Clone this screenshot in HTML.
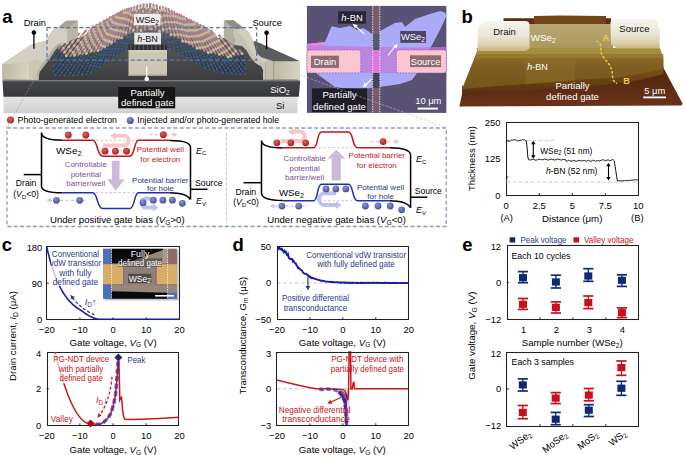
<!DOCTYPE html><html><head><meta charset="utf-8"><style>html,body{margin:0;padding:0;background:#fff;}svg{display:block;font-family:"Liberation Sans", sans-serif;}</style></head><body><svg width="685" height="455" viewBox="0 0 685 455"><defs>
<linearGradient id="gSi" x1="0" y1="0" x2="0" y2="1"><stop offset="0" stop-color="#e4e4e4"/><stop offset="1" stop-color="#d0d0d0"/></linearGradient>
<linearGradient id="gSiO2" x1="0" y1="0" x2="0" y2="1"><stop offset="0" stop-color="#444548"/><stop offset="1" stop-color="#37383b"/></linearGradient>
<linearGradient id="gTop" x1="0" y1="0" x2="0" y2="1"><stop offset="0" stop-color="#5a5a5c"/><stop offset="1" stop-color="#3c3c3e"/></linearGradient>
<linearGradient id="gBeigeF" x1="0" y1="0" x2="1" y2="0"><stop offset="0" stop-color="#bcb8a4"/><stop offset="1" stop-color="#d8d4c2"/></linearGradient>
<linearGradient id="gBeigeT" x1="0" y1="1" x2="1" y2="0"><stop offset="0" stop-color="#d2cebe"/><stop offset="1" stop-color="#bdb9a8"/></linearGradient>
<linearGradient id="gAFMsub" x1="0" y1="0" x2="0" y2="1"><stop offset="0" stop-color="#7a3a14"/><stop offset="1" stop-color="#5a1e08"/></linearGradient>
<linearGradient id="gAFMh" x1="0" y1="0" x2="0" y2="1"><stop offset="0" stop-color="#a88a3a"/><stop offset="1" stop-color="#8a6418"/></linearGradient>
<linearGradient id="gAFMw" x1="0" y1="0" x2="0" y2="1"><stop offset="0" stop-color="#c8b070"/><stop offset="1" stop-color="#b89c50"/></linearGradient>
<linearGradient id="gAFMel" x1="0" y1="0" x2="0" y2="1"><stop offset="0" stop-color="#f0ece0"/><stop offset="0.6" stop-color="#e0d8c0"/><stop offset="1" stop-color="#c8b07a"/></linearGradient>
</defs><text x="2.2" y="22.6" font-size="18.5" fill="#000" font-weight="bold">a</text><rect x="3.5" y="96.5" width="294" height="16.8" rx="1" fill="url(#gSi)"/><path d="M2.5,81 L300.2,81 L298.8,96.7 L3.5,96.7 Z" fill="url(#gSiO2)"/><polygon points="3.0,80.5 298.5,80.5 298.5,62.0 245.0,38.0 75.0,38.0 3.0,64.0" fill="url(#gTop)" /><line x1="3" y1="80.8" x2="298.5" y2="80.8" stroke="#6a6a6c" stroke-width="0.8" /><filter id="fb" x="-5%" y="-5%" width="110%" height="110%"><feGaussianBlur stdDeviation="0.45"/></filter><g filter="url(#fb)"><linearGradient id="gLat" gradientUnits="userSpaceOnUse" x1="0" y1="5" x2="0" y2="70"><stop offset="0" stop-color="#6e6258" stop-opacity="0.85"/><stop offset="0.5" stop-color="#585048" stop-opacity="0.9"/><stop offset="1" stop-color="#34302e" stop-opacity="0.9"/></linearGradient><polygon points="54.00,53.50 55.00,52.56 56.00,51.62 57.00,50.68 58.00,49.74 59.00,48.79 60.00,47.85 61.00,46.91 62.00,45.97 63.00,45.27 64.00,44.82 65.00,44.37 66.00,43.92 67.00,43.47 68.00,43.02 69.00,42.57 70.00,42.12 71.00,41.67 72.00,41.22 73.00,40.76 74.00,40.31 75.00,39.86 76.00,39.41 77.00,38.96 78.00,38.51 79.00,38.06 80.00,37.61 81.00,37.16 82.00,36.71 83.00,36.25 84.00,35.80 85.00,35.35 86.00,34.90 87.00,34.45 88.00,34.00 89.00,33.43 90.00,32.87 91.00,32.30 92.00,31.73 93.00,31.17 94.00,30.60 95.00,30.04 96.00,29.47 97.00,28.90 98.00,28.34 99.00,27.77 100.00,27.20 101.00,26.64 102.00,26.07 103.00,25.50 104.00,24.94 105.00,24.37 106.00,23.81 107.00,23.24 108.00,22.67 109.00,22.11 110.00,21.54 111.00,21.00 112.00,20.50 113.00,19.99 114.00,19.49 115.00,18.99 116.00,18.48 117.00,17.98 118.00,17.48 119.00,16.97 120.00,16.47 121.00,15.97 122.00,15.46 123.00,14.96 124.00,14.46 125.00,13.96 126.00,13.45 127.00,13.00 128.00,12.69 129.00,12.37 130.00,12.05 131.00,11.74 132.00,11.42 133.00,11.10 134.00,10.79 135.00,10.47 136.00,10.15 137.00,9.84 138.00,9.52 139.00,9.20 140.00,8.89 141.00,8.57 142.00,8.25 143.00,8.00 144.00,8.00 145.00,8.00 146.00,8.00 147.00,8.00 148.00,8.00 149.00,8.00 150.00,8.00 151.00,8.00 152.00,8.00 153.00,8.19 154.00,8.51 155.00,8.82 156.00,9.14 157.00,9.46 158.00,9.77 159.00,10.09 160.00,10.41 161.00,10.72 162.00,11.04 163.00,11.36 164.00,11.67 165.00,11.99 166.00,12.31 167.00,12.62 168.00,12.94 169.00,13.35 170.00,13.86 171.00,14.37 172.00,14.87 173.00,15.38 174.00,15.88 175.00,16.39 176.00,16.90 177.00,17.40 178.00,17.91 179.00,18.42 180.00,18.92 181.00,19.43 182.00,19.93 183.00,20.44 184.00,20.95 185.00,21.45 186.00,21.95 187.00,22.44 188.00,22.94 189.00,23.44 190.00,23.94 191.00,24.43 192.00,24.93 193.00,25.43 194.00,25.93 195.00,26.42 196.00,26.92 197.00,27.42 198.00,27.92 199.00,28.41 200.00,28.91 201.00,29.41 202.00,29.90 203.00,30.40 204.00,30.92 205.00,31.50 206.00,32.08 207.00,32.67 208.00,33.25 209.00,33.83 210.00,34.42 211.00,35.00 212.00,35.58 213.00,36.17 214.00,36.75 215.00,37.33 216.00,37.92 217.00,38.50 218.00,39.08 219.00,39.67 220.00,40.25 221.00,40.83 222.00,41.42 223.00,42.00 224.00,42.78 225.00,43.56 226.00,44.34 227.00,45.12 228.00,45.91 229.00,46.69 230.00,47.47 231.00,48.25 232.00,49.03 233.00,49.81 234.00,50.59 235.00,51.38 236.00,52.16 237.00,52.94 238.00,53.72 239.00,54.50 240.00,54.83 241.00,55.17 242.00,55.50 243.00,55.83 244.00,56.17 245.00,56.50 245.00,74.00 244.00,74.00 243.00,74.00 242.00,74.00 241.00,73.92 240.00,73.85 239.00,73.77 238.00,73.69 237.00,73.62 236.00,73.54 235.00,73.46 234.00,73.39 233.00,73.31 232.00,73.23 231.00,73.16 230.00,73.08 229.00,73.00 228.00,72.93 227.00,72.85 226.00,72.77 225.00,72.70 224.00,72.62 223.00,72.55 222.00,72.47 221.00,72.39 220.00,72.32 219.00,72.03 218.00,71.69 217.00,71.35 216.00,71.01 215.00,70.67 214.00,70.34 213.00,70.00 212.00,69.66 211.00,69.32 210.00,68.98 209.00,68.64 208.00,68.31 207.00,67.97 206.00,67.63 205.00,67.29 204.00,66.95 203.00,66.61 202.00,66.27 201.00,65.94 200.00,65.44 199.00,64.85 198.00,64.25 197.00,63.65 196.00,63.06 195.00,62.46 194.00,61.86 193.00,61.27 192.00,60.67 191.00,60.08 190.00,59.48 189.00,58.88 188.00,58.29 187.00,57.69 186.00,57.09 185.00,56.50 184.00,55.95 183.00,55.45 182.00,54.95 181.00,54.45 180.00,53.95 179.00,53.45 178.00,52.95 177.00,52.45 176.00,51.95 175.00,51.45 174.00,50.95 173.00,50.45 172.00,49.95 171.00,49.45 170.00,48.95 169.00,48.45 168.00,48.14 167.00,48.02 166.00,47.90 165.00,47.78 164.00,47.66 163.00,47.55 162.00,47.43 161.00,47.31 160.00,47.19 159.00,47.07 158.00,46.95 157.00,46.83 156.00,46.71 155.00,46.59 154.00,46.48 153.00,46.36 152.00,46.24 151.00,46.12 150.00,46.00 149.00,46.11 148.00,46.22 147.00,46.33 146.00,46.44 145.00,46.55 144.00,46.66 143.00,46.77 142.00,46.88 141.00,46.99 140.00,47.10 139.00,47.21 138.00,47.32 137.00,47.43 136.00,47.54 135.00,47.65 134.00,47.76 133.00,47.87 132.00,47.98 131.00,48.09 130.00,48.20 129.00,48.68 128.00,49.16 127.00,49.64 126.00,50.12 125.00,50.60 124.00,51.08 123.00,51.56 122.00,52.04 121.00,52.52 120.00,53.00 119.00,53.70 118.00,54.40 117.00,55.10 116.00,55.80 115.00,56.50 114.00,57.20 113.00,57.90 112.00,58.60 111.00,59.30 110.00,60.00 109.00,60.70 108.00,61.40 107.00,62.10 106.00,62.80 105.00,63.50 104.00,64.20 103.00,64.81 102.00,65.42 101.00,66.04 100.00,66.65 99.00,67.26 98.00,67.88 97.00,68.49 96.00,69.10 95.00,69.71 94.00,70.33 93.00,70.94 92.00,71.55 91.00,72.16 90.00,72.78 89.00,73.39 88.00,74.00 87.00,74.08 86.00,74.17 85.00,74.25 84.00,74.33 83.00,74.42 82.00,74.50 81.00,74.58 80.00,74.67 79.00,74.75 78.00,74.83 77.00,74.92 76.00,75.00 75.00,75.08 74.00,75.17 73.00,75.25 72.00,75.33 71.00,75.42 70.00,75.50 69.00,75.47 68.00,75.44 67.00,75.41 66.00,75.38 65.00,75.34 64.00,75.31 63.00,75.28 62.00,75.25 61.00,75.22 60.00,75.19 59.00,75.16 58.00,75.12 57.00,75.09 56.00,75.06 55.00,75.03 54.00,75.00" fill="url(#gLat)"/><polyline points="54.00,54.52 54.49,53.89 54.99,53.26 55.48,52.63 55.97,52.00 56.46,51.37 56.96,50.74 57.45,50.11 57.94,49.48" fill="none" stroke="#34467c" stroke-width="1.8" stroke-opacity="0.8"/><circle cx="54.0" cy="54.5" r="1.15" fill="#4258a4" /><circle cx="56.0" cy="52.0" r="1.15" fill="#2a664e" /><circle cx="57.9" cy="49.5" r="1.15" fill="#4258a4" /><polyline points="58.43,48.85 58.93,48.22 59.42,47.59 59.91,46.96 60.40,46.33 60.90,45.70 61.39,45.06 61.88,44.43 62.37,43.80 62.87,43.17 63.36,42.54 63.85,41.91 64.34,41.28 64.84,40.65 65.33,40.02 65.82,39.39" fill="none" stroke="#ac8290" stroke-width="2.1"/><circle cx="61.9" cy="44.4" r="1.45" fill="#c2bd96" /><polyline points="54.00,60.15 54.49,59.52 54.99,58.89 55.48,58.26 55.97,57.63 56.46,57.00 56.96,56.37 57.45,55.74 57.94,55.11 58.43,54.48 58.93,53.85 59.42,53.22 59.91,52.59 60.40,51.96" fill="none" stroke="#34467c" stroke-width="1.8" stroke-opacity="0.8"/><circle cx="54.0" cy="60.2" r="1.15" fill="#2a664e" /><circle cx="56.0" cy="57.6" r="1.15" fill="#4258a4" /><circle cx="57.9" cy="55.1" r="1.15" fill="#2a664e" /><circle cx="59.9" cy="52.6" r="1.15" fill="#4258a4" /><polyline points="60.90,51.33 61.39,50.70 61.88,50.07 62.37,49.44 62.87,48.81 63.36,48.17 63.85,47.54 64.34,46.91 64.84,46.28 65.33,45.65 65.82,45.02 66.31,44.39 66.81,43.76 67.30,43.13 67.79,42.50 68.28,41.87 68.78,41.24 69.27,40.61 69.76,39.98 70.25,39.35 70.75,38.72 71.24,38.09 71.73,37.46 72.22,36.83 72.72,36.20" fill="none" stroke="#ac8290" stroke-width="2.1"/><circle cx="63.4" cy="48.2" r="1.45" fill="#c2bd96" /><circle cx="67.3" cy="43.1" r="1.45" fill="#c2bd96" /><polyline points="54.00,65.78 54.49,65.15 54.99,64.52 55.48,63.89 55.97,63.26 56.46,62.63 56.96,62.00 57.45,61.37 57.94,60.74 58.43,60.11 58.93,59.48 59.42,58.85 59.91,58.22 60.40,57.59 60.90,56.96 61.39,56.33 61.88,55.70 62.37,55.07 62.87,54.44" fill="none" stroke="#34467c" stroke-width="1.8" stroke-opacity="0.8"/><circle cx="54.0" cy="65.8" r="1.15" fill="#4258a4" /><circle cx="56.0" cy="63.3" r="1.15" fill="#2a664e" /><circle cx="57.9" cy="60.7" r="1.15" fill="#4258a4" /><circle cx="59.9" cy="58.2" r="1.15" fill="#2a664e" /><circle cx="61.9" cy="55.7" r="1.15" fill="#4258a4" /><polyline points="63.36,53.81 63.85,53.18 64.34,52.55 64.84,51.92 65.33,51.29 65.82,50.65 66.31,50.02 66.81,49.39 67.30,48.76 67.79,48.13 68.28,47.50 68.78,46.87 69.27,46.24 69.76,45.61 70.25,44.98 70.75,44.35 71.24,43.72 71.73,43.09 72.22,42.46 72.72,41.83 73.21,41.20 73.70,40.57 74.19,39.94 74.69,39.31 75.18,38.68 75.67,38.05 76.16,37.42 76.66,36.79 77.15,36.16 77.64,35.52 78.13,34.89 78.63,34.26 79.12,33.63 79.61,33.00" fill="none" stroke="#ac8290" stroke-width="2.1"/><circle cx="64.8" cy="51.9" r="1.45" fill="#c2bd96" /><circle cx="68.8" cy="46.9" r="1.45" fill="#c2bd96" /><circle cx="72.7" cy="41.8" r="1.45" fill="#c2bd96" /><circle cx="76.7" cy="36.8" r="1.45" fill="#c2bd96" /><polyline points="54.00,71.42 54.49,70.79 54.99,70.16 55.48,69.52 55.97,68.89 56.46,68.26 56.96,67.63 57.45,67.00 57.94,66.37 58.43,65.74 58.93,65.11 59.42,64.48 59.91,63.85 60.40,63.22 60.90,62.59 61.39,61.96 61.88,61.33 62.37,60.70 62.87,60.07 63.36,59.44 63.85,58.81 64.34,58.18 64.84,57.55 65.33,56.92" fill="none" stroke="#34467c" stroke-width="1.8" stroke-opacity="0.8"/><circle cx="54.0" cy="71.4" r="1.15" fill="#2a664e" /><circle cx="56.0" cy="68.9" r="1.15" fill="#4258a4" /><circle cx="57.9" cy="66.4" r="1.15" fill="#2a664e" /><circle cx="59.9" cy="63.9" r="1.15" fill="#4258a4" /><circle cx="61.9" cy="61.3" r="1.15" fill="#2a664e" /><circle cx="63.9" cy="58.8" r="1.15" fill="#4258a4" /><polyline points="65.82,56.29 66.31,55.66 66.81,55.03 67.30,54.40 67.79,53.76 68.28,53.13 68.78,52.50 69.27,51.87 69.76,51.24 70.25,50.61 70.75,49.98 71.24,49.35 71.73,48.72 72.22,48.09 72.72,47.46 73.21,46.83 73.70,46.20 74.19,45.57 74.69,44.94 75.18,44.31 75.67,43.68 76.16,43.05 76.66,42.42 77.15,41.79 77.64,41.16 78.13,40.53 78.63,39.90 79.12,39.27 79.61,38.63 80.10,38.00 80.60,37.37 81.09,36.74 81.58,36.11 82.07,35.48 82.57,34.85 83.06,34.22 83.55,33.59 84.04,32.96 84.54,32.33 85.03,31.70 85.52,31.07 86.01,30.44 86.51,29.81" fill="none" stroke="#ac8290" stroke-width="2.1"/><circle cx="66.3" cy="55.7" r="1.45" fill="#c2bd96" /><circle cx="70.3" cy="50.6" r="1.45" fill="#c2bd96" /><circle cx="74.2" cy="45.6" r="1.45" fill="#c2bd96" /><circle cx="78.1" cy="40.5" r="1.45" fill="#c2bd96" /><circle cx="82.1" cy="35.5" r="1.45" fill="#c2bd96" /><polyline points="55.60,75.05 56.09,74.42 56.58,73.79 57.07,73.15 57.56,72.52 58.05,71.89 58.54,71.26 59.03,70.62 59.52,69.99 60.01,69.36 60.50,68.73 60.99,68.09 61.48,67.46 61.97,66.83 62.46,66.20 62.95,65.56 63.44,64.93 63.93,64.30 64.42,63.67 64.91,63.04 65.40,62.40 65.89,61.77 66.38,61.14 66.87,60.51 67.36,59.87 67.85,59.24 68.34,58.61 68.83,57.98 69.32,57.34" fill="none" stroke="#34467c" stroke-width="1.8" stroke-opacity="0.8"/><circle cx="55.6" cy="75.0" r="1.15" fill="#4258a4" /><circle cx="57.6" cy="72.5" r="1.15" fill="#2a664e" /><circle cx="59.5" cy="70.0" r="1.15" fill="#4258a4" /><circle cx="61.5" cy="67.5" r="1.15" fill="#2a664e" /><circle cx="63.4" cy="64.9" r="1.15" fill="#4258a4" /><circle cx="65.4" cy="62.4" r="1.15" fill="#2a664e" /><circle cx="67.4" cy="59.9" r="1.15" fill="#4258a4" /><circle cx="69.3" cy="57.3" r="1.15" fill="#2a664e" /><polyline points="69.81,56.71 70.30,56.08 70.79,55.45 71.28,54.81 71.77,54.18 72.26,53.55 72.75,52.92 73.24,52.29 73.73,51.65 74.22,51.02 74.71,50.39 75.20,49.76 75.69,49.12 76.18,48.49 76.67,47.86 77.16,47.23 77.65,46.59 78.14,45.96 78.63,45.33 79.12,44.70 79.61,44.06 80.10,43.43 80.59,42.80 81.08,42.17 81.57,41.54 82.06,40.90 82.55,40.27 83.04,39.64 83.53,39.01 84.02,38.37 84.51,37.74 85.00,37.11 85.49,36.48 85.98,35.84 86.47,35.21 86.96,34.58 87.45,33.95 87.94,33.31 88.43,32.68 88.92,32.05 89.41,31.42 89.90,30.78 90.39,30.15 90.88,29.52 91.37,28.89 91.86,28.26 92.35,27.62 92.84,26.99 93.33,26.36 93.82,25.73" fill="none" stroke="#ac8290" stroke-width="2.1"/><circle cx="73.2" cy="52.3" r="1.45" fill="#c2bd96" /><circle cx="77.2" cy="47.2" r="1.45" fill="#c2bd96" /><circle cx="81.1" cy="42.2" r="1.45" fill="#c2bd96" /><circle cx="85.0" cy="37.1" r="1.45" fill="#c2bd96" /><circle cx="88.9" cy="32.0" r="1.45" fill="#c2bd96" /><polyline points="60.00,75.19 60.47,74.54 60.94,73.89 61.41,73.25 61.89,72.60 62.36,71.96 62.83,71.31 63.30,70.66 63.77,70.02 64.24,69.37 64.71,68.72 65.19,68.08 65.66,67.43 66.13,66.78 66.60,66.14 67.07,65.49 67.54,64.85 68.01,64.20 68.49,63.55 68.96,62.91 69.43,62.26 69.90,61.61 70.37,60.97 70.84,60.32 71.31,59.68 71.79,59.03 72.26,58.38 72.73,57.74 73.20,57.09" fill="none" stroke="#34467c" stroke-width="1.8" stroke-opacity="0.8"/><circle cx="60.0" cy="75.2" r="1.15" fill="#2a664e" /><circle cx="61.9" cy="72.6" r="1.15" fill="#4258a4" /><circle cx="63.8" cy="70.0" r="1.15" fill="#2a664e" /><circle cx="65.7" cy="67.4" r="1.15" fill="#4258a4" /><circle cx="67.5" cy="64.8" r="1.15" fill="#2a664e" /><circle cx="69.4" cy="62.3" r="1.15" fill="#4258a4" /><circle cx="71.3" cy="59.7" r="1.15" fill="#2a664e" /><circle cx="73.2" cy="57.1" r="1.15" fill="#4258a4" /><polyline points="73.67,56.44 74.14,55.80 74.61,55.15 75.09,54.50 75.56,53.86 76.03,53.21 76.50,52.57 76.97,51.92 77.44,51.27 77.91,50.63 78.39,49.98 78.86,49.33 79.33,48.69 79.80,48.04 80.27,47.39 80.74,46.75 81.21,46.10 81.69,45.46 82.16,44.81 82.63,44.16 83.10,43.52 83.57,42.87 84.04,42.22 84.51,41.58 84.99,40.93 85.46,40.28 85.93,39.64 86.40,38.99 86.87,38.35 87.34,37.70 87.81,37.05 88.28,36.41 88.76,35.76 89.23,35.11 89.70,34.47 90.17,33.82 90.64,33.17 91.11,32.53 91.58,31.88 92.06,31.24 92.53,30.59 93.00,29.94 93.47,29.30 93.94,28.65 94.41,28.00 94.88,27.36 95.36,26.71 95.83,26.07 96.30,25.42 96.77,24.77 97.24,24.13" fill="none" stroke="#ac8290" stroke-width="2.1"/><circle cx="74.6" cy="55.2" r="1.45" fill="#c2bd96" /><circle cx="78.4" cy="50.0" r="1.45" fill="#c2bd96" /><circle cx="82.2" cy="44.8" r="1.45" fill="#c2bd96" /><circle cx="85.9" cy="39.6" r="1.45" fill="#c2bd96" /><circle cx="89.7" cy="34.5" r="1.45" fill="#c2bd96" /><circle cx="93.5" cy="29.3" r="1.45" fill="#c2bd96" /><polyline points="64.40,75.33 64.85,74.67 65.30,74.01 65.76,73.35 66.21,72.69 66.66,72.03 67.11,71.37 67.57,70.71 68.02,70.05 68.47,69.39 68.92,68.73 69.38,68.07 69.83,67.41 70.28,66.75 70.73,66.09 71.19,65.43 71.64,64.77 72.09,64.11 72.54,63.45 73.00,62.79 73.45,62.13 73.90,61.47 74.35,60.81 74.81,60.15 75.26,59.49 75.71,58.83 76.16,58.17 76.62,57.51 77.07,56.85 77.52,56.19" fill="none" stroke="#34467c" stroke-width="1.8" stroke-opacity="0.8"/><circle cx="64.4" cy="75.3" r="1.15" fill="#4258a4" /><circle cx="66.2" cy="72.7" r="1.15" fill="#2a664e" /><circle cx="68.0" cy="70.0" r="1.15" fill="#4258a4" /><circle cx="69.8" cy="67.4" r="1.15" fill="#2a664e" /><circle cx="71.6" cy="64.8" r="1.15" fill="#4258a4" /><circle cx="73.4" cy="62.1" r="1.15" fill="#2a664e" /><circle cx="75.3" cy="59.5" r="1.15" fill="#4258a4" /><circle cx="77.1" cy="56.9" r="1.15" fill="#2a664e" /><polyline points="77.97,55.53 78.42,54.87 78.88,54.21 79.33,53.55 79.78,52.89 80.23,52.23 80.69,51.57 81.14,50.91 81.59,50.25 82.04,49.59 82.50,48.93 82.95,48.27 83.40,47.61 83.85,46.95 84.31,46.29 84.76,45.63 85.21,44.97 85.66,44.31 86.12,43.65 86.57,43.00 87.02,42.34 87.47,41.68 87.93,41.02 88.38,40.36 88.83,39.70 89.28,39.04 89.73,38.38 90.19,37.72 90.64,37.06 91.09,36.40 91.54,35.74 92.00,35.08 92.45,34.42 92.90,33.76 93.35,33.10 93.81,32.44 94.26,31.78 94.71,31.12 95.16,30.46 95.62,29.80 96.07,29.14 96.52,28.48 96.97,27.82 97.43,27.16 97.88,26.50 98.33,25.84 98.78,25.18 99.24,24.52 99.69,23.86 100.14,23.20 100.59,22.54 101.05,21.88" fill="none" stroke="#ac8290" stroke-width="2.1"/><circle cx="79.8" cy="52.9" r="1.45" fill="#c2bd96" /><circle cx="83.4" cy="47.6" r="1.45" fill="#c2bd96" /><circle cx="87.0" cy="42.3" r="1.45" fill="#c2bd96" /><circle cx="90.6" cy="37.1" r="1.45" fill="#c2bd96" /><circle cx="94.3" cy="31.8" r="1.45" fill="#c2bd96" /><circle cx="97.9" cy="26.5" r="1.45" fill="#c2bd96" /><polyline points="68.80,75.46 69.23,74.79 69.67,74.12 70.10,73.44 70.53,72.77 70.97,72.10 71.40,71.43 71.83,70.75 72.26,70.08 72.70,69.41 73.13,68.74 73.56,68.06 74.00,67.39 74.43,66.72 74.86,66.05 75.30,65.37 75.73,64.70 76.16,64.03 76.59,63.35 77.03,62.68 77.46,62.01 77.89,61.34 78.33,60.66 78.76,59.99 79.19,59.32 79.63,58.65 80.06,57.97 80.49,57.30 80.92,56.63 81.36,55.95" fill="none" stroke="#34467c" stroke-width="1.8" stroke-opacity="0.8"/><circle cx="68.8" cy="75.5" r="1.15" fill="#2a664e" /><circle cx="70.5" cy="72.8" r="1.15" fill="#4258a4" /><circle cx="72.3" cy="70.1" r="1.15" fill="#2a664e" /><circle cx="74.0" cy="67.4" r="1.15" fill="#4258a4" /><circle cx="75.7" cy="64.7" r="1.15" fill="#2a664e" /><circle cx="77.5" cy="62.0" r="1.15" fill="#4258a4" /><circle cx="79.2" cy="59.3" r="1.15" fill="#2a664e" /><circle cx="80.9" cy="56.6" r="1.15" fill="#4258a4" /><polyline points="81.79,55.28 82.22,54.61 82.66,53.94 83.09,53.26 83.52,52.59 83.96,51.92 84.39,51.25 84.82,50.57 85.25,49.90 85.69,49.23 86.12,48.56 86.55,47.88 86.99,47.21 87.42,46.54 87.85,45.86 88.29,45.19 88.72,44.52 89.15,43.85 89.58,43.17 90.02,42.50 90.45,41.83 90.88,41.16 91.32,40.48 91.75,39.81 92.18,39.14 92.62,38.47 93.05,37.79 93.48,37.12 93.92,36.45 94.35,35.77 94.78,35.10 95.21,34.43 95.65,33.76 96.08,33.08 96.51,32.41 96.95,31.74 97.38,31.07 97.81,30.39 98.25,29.72 98.68,29.05 99.11,28.38 99.54,27.70 99.98,27.03 100.41,26.36 100.84,25.68 101.28,25.01 101.71,24.34 102.14,23.67 102.58,22.99 103.01,22.32 103.44,21.65 103.87,20.98 104.31,20.30 104.74,19.63" fill="none" stroke="#ac8290" stroke-width="2.1"/><circle cx="84.8" cy="50.6" r="1.45" fill="#c2bd96" /><circle cx="88.3" cy="45.2" r="1.45" fill="#c2bd96" /><circle cx="91.8" cy="39.8" r="1.45" fill="#c2bd96" /><circle cx="95.2" cy="34.4" r="1.45" fill="#c2bd96" /><circle cx="98.7" cy="29.0" r="1.45" fill="#c2bd96" /><circle cx="102.1" cy="23.7" r="1.45" fill="#c2bd96" /><polyline points="73.20,75.23 73.61,74.55 74.03,73.86 74.44,73.18 74.85,72.49 75.27,71.81 75.68,71.12 76.09,70.44 76.51,69.75 76.92,69.07 77.33,68.38 77.75,67.70 78.16,67.01 78.57,66.33 78.99,65.64 79.40,64.96 79.81,64.27 80.23,63.59 80.64,62.90 81.05,62.22 81.47,61.53 81.88,60.85 82.29,60.16 82.71,59.48 83.12,58.79 83.53,58.11 83.94,57.42 84.36,56.74 84.77,56.05 85.18,55.37" fill="none" stroke="#34467c" stroke-width="1.8" stroke-opacity="0.8"/><circle cx="73.2" cy="75.2" r="1.15" fill="#4258a4" /><circle cx="74.9" cy="72.5" r="1.15" fill="#2a664e" /><circle cx="76.5" cy="69.8" r="1.15" fill="#4258a4" /><circle cx="78.2" cy="67.0" r="1.15" fill="#2a664e" /><circle cx="79.8" cy="64.3" r="1.15" fill="#4258a4" /><circle cx="81.5" cy="61.5" r="1.15" fill="#2a664e" /><circle cx="83.1" cy="58.8" r="1.15" fill="#4258a4" /><circle cx="84.8" cy="56.1" r="1.15" fill="#2a664e" /><polyline points="85.60,54.68 86.01,54.00 86.42,53.31 86.84,52.63 87.25,51.94 87.66,51.26 88.08,50.57 88.49,49.89 88.90,49.20 89.32,48.52 89.73,47.83 90.14,47.15 90.56,46.46 90.97,45.78 91.38,45.09 91.80,44.41 92.21,43.72 92.62,43.04 93.04,42.35 93.45,41.67 93.86,40.98 94.28,40.30 94.69,39.61 95.10,38.93 95.52,38.24 95.93,37.56 96.34,36.87 96.76,36.19 97.17,35.50 97.58,34.82 98.00,34.13 98.41,33.45 98.82,32.76 99.24,32.08 99.65,31.39 100.06,30.71 100.48,30.02 100.89,29.34 101.30,28.65 101.72,27.97 102.13,27.28 102.54,26.60 102.96,25.91 103.37,25.23 103.78,24.54 104.19,23.86 104.61,23.17 105.02,22.49 105.43,21.80 105.85,21.12 106.26,20.43 106.67,19.75 107.09,19.06 107.50,18.38" fill="none" stroke="#ac8290" stroke-width="2.1"/><circle cx="86.4" cy="53.3" r="1.45" fill="#c2bd96" /><circle cx="89.7" cy="47.8" r="1.45" fill="#c2bd96" /><circle cx="93.0" cy="42.4" r="1.45" fill="#c2bd96" /><circle cx="96.3" cy="36.9" r="1.45" fill="#c2bd96" /><circle cx="99.6" cy="31.4" r="1.45" fill="#c2bd96" /><circle cx="103.0" cy="25.9" r="1.45" fill="#c2bd96" /><polyline points="77.60,74.87 77.99,74.17 78.39,73.47 78.78,72.78 79.17,72.08 79.57,71.38 79.96,70.69 80.35,69.99 80.75,69.29 81.14,68.60 81.53,67.90 81.92,67.20 82.32,66.51 82.71,65.81 83.10,65.11 83.50,64.42 83.89,63.72 84.28,63.02 84.68,62.33 85.07,61.63 85.46,60.93 85.86,60.24 86.25,59.54 86.64,58.84 87.04,58.15 87.43,57.45 87.82,56.75 88.22,56.06 88.61,55.36 89.00,54.66 89.39,53.96" fill="none" stroke="#34467c" stroke-width="1.8" stroke-opacity="0.8"/><circle cx="77.6" cy="74.9" r="1.15" fill="#2a664e" /><circle cx="79.2" cy="72.1" r="1.15" fill="#4258a4" /><circle cx="80.7" cy="69.3" r="1.15" fill="#2a664e" /><circle cx="82.3" cy="66.5" r="1.15" fill="#4258a4" /><circle cx="83.9" cy="63.7" r="1.15" fill="#2a664e" /><circle cx="85.5" cy="60.9" r="1.15" fill="#4258a4" /><circle cx="87.0" cy="58.1" r="1.15" fill="#2a664e" /><circle cx="88.6" cy="55.4" r="1.15" fill="#4258a4" /><polyline points="89.79,53.27 90.18,52.57 90.57,51.87 90.97,51.18 91.36,50.48 91.75,49.78 92.15,49.09 92.54,48.39 92.93,47.69 93.33,47.00 93.72,46.30 94.11,45.60 94.51,44.91 94.90,44.21 95.29,43.51 95.69,42.82 96.08,42.12 96.47,41.42 96.86,40.73 97.26,40.03 97.65,39.33 98.04,38.64 98.44,37.94 98.83,37.24 99.22,36.55 99.62,35.85 100.01,35.15 100.40,34.46 100.80,33.76 101.19,33.06 101.58,32.37 101.98,31.67 102.37,30.97 102.76,30.28 103.16,29.58 103.55,28.88 103.94,28.19 104.33,27.49 104.73,26.79 105.12,26.10 105.51,25.40 105.91,24.70 106.30,24.01 106.69,23.31 107.09,22.61 107.48,21.92 107.87,21.22 108.27,20.52 108.66,19.83 109.05,19.13 109.45,18.43 109.84,17.74 110.23,17.04 110.63,16.34" fill="none" stroke="#ac8290" stroke-width="2.1"/><circle cx="91.4" cy="50.5" r="1.45" fill="#c2bd96" /><circle cx="94.5" cy="44.9" r="1.45" fill="#c2bd96" /><circle cx="97.7" cy="39.3" r="1.45" fill="#c2bd96" /><circle cx="100.8" cy="33.8" r="1.45" fill="#c2bd96" /><circle cx="103.9" cy="28.2" r="1.45" fill="#c2bd96" /><circle cx="107.1" cy="22.6" r="1.45" fill="#c2bd96" /><polyline points="82.00,74.50 82.37,73.79 82.75,73.08 83.12,72.38 83.49,71.67 83.86,70.96 84.24,70.25 84.61,69.54 84.98,68.84 85.35,68.13 85.73,67.42 86.10,66.71 86.47,66.01 86.85,65.30 87.22,64.59 87.59,63.88 87.96,63.17 88.34,62.47 88.71,61.76 89.08,61.05 89.45,60.34 89.83,59.63 90.20,58.93 90.57,58.22 90.95,57.51 91.32,56.80 91.69,56.10 92.06,55.39 92.44,54.68 92.81,53.97 93.18,53.26" fill="none" stroke="#34467c" stroke-width="1.8" stroke-opacity="0.8"/><circle cx="82.0" cy="74.5" r="1.15" fill="#4258a4" /><circle cx="83.5" cy="71.7" r="1.15" fill="#2a664e" /><circle cx="85.0" cy="68.8" r="1.15" fill="#4258a4" /><circle cx="86.5" cy="66.0" r="1.15" fill="#2a664e" /><circle cx="88.0" cy="63.2" r="1.15" fill="#4258a4" /><circle cx="89.5" cy="60.3" r="1.15" fill="#2a664e" /><circle cx="90.9" cy="57.5" r="1.15" fill="#4258a4" /><circle cx="92.4" cy="54.7" r="1.15" fill="#2a664e" /><polyline points="93.55,52.56 93.93,51.85 94.30,51.14 94.67,50.43 95.05,49.72 95.42,49.02 95.79,48.31 96.16,47.60 96.54,46.89 96.91,46.19 97.28,45.48 97.65,44.77 98.03,44.06 98.40,43.35 98.77,42.65 99.15,41.94 99.52,41.23 99.89,40.52 100.26,39.81 100.64,39.11 101.01,38.40 101.38,37.69 101.75,36.98 102.13,36.28 102.50,35.57 102.87,34.86 103.24,34.15 103.62,33.44 103.99,32.74 104.36,32.03 104.74,31.32 105.11,30.61 105.48,29.90 105.85,29.20 106.23,28.49 106.60,27.78 106.97,27.07 107.34,26.36 107.72,25.66 108.09,24.95 108.46,24.24 108.84,23.53 109.21,22.83 109.58,22.12 109.95,21.41 110.33,20.70 110.70,19.99 111.07,19.29 111.44,18.58 111.82,17.87 112.19,17.16 112.56,16.45 112.94,15.75 113.31,15.04" fill="none" stroke="#ac8290" stroke-width="2.1"/><circle cx="96.2" cy="47.6" r="1.45" fill="#c2bd96" /><circle cx="99.1" cy="41.9" r="1.45" fill="#c2bd96" /><circle cx="102.1" cy="36.3" r="1.45" fill="#c2bd96" /><circle cx="105.1" cy="30.6" r="1.45" fill="#c2bd96" /><circle cx="108.1" cy="24.9" r="1.45" fill="#c2bd96" /><circle cx="111.1" cy="19.3" r="1.45" fill="#c2bd96" /><polyline points="86.40,74.13 86.75,73.41 87.10,72.70 87.46,71.98 87.81,71.26 88.16,70.54 88.51,69.82 88.86,69.10 89.22,68.39 89.57,67.67 89.92,66.95 90.27,66.23 90.62,65.51 90.98,64.79 91.33,64.08 91.68,63.36 92.03,62.64 92.38,61.92 92.74,61.20 93.09,60.48 93.44,59.77 93.79,59.05 94.14,58.33 94.50,57.61 94.85,56.89 95.20,56.17 95.55,55.45 95.90,54.74 96.26,54.02 96.61,53.30 96.96,52.58" fill="none" stroke="#34467c" stroke-width="1.8" stroke-opacity="0.8"/><circle cx="86.4" cy="74.1" r="1.15" fill="#2a664e" /><circle cx="87.8" cy="71.3" r="1.15" fill="#4258a4" /><circle cx="89.2" cy="68.4" r="1.15" fill="#2a664e" /><circle cx="90.6" cy="65.5" r="1.15" fill="#4258a4" /><circle cx="92.0" cy="62.6" r="1.15" fill="#2a664e" /><circle cx="93.4" cy="59.8" r="1.15" fill="#4258a4" /><circle cx="94.8" cy="56.9" r="1.15" fill="#2a664e" /><circle cx="96.3" cy="54.0" r="1.15" fill="#4258a4" /><polyline points="97.31,51.86 97.66,51.14 98.01,50.43 98.37,49.71 98.72,48.99 99.07,48.27 99.42,47.55 99.77,46.83 100.13,46.12 100.48,45.40 100.83,44.68 101.18,43.96 101.53,43.24 101.89,42.52 102.24,41.80 102.59,41.09 102.94,40.37 103.29,39.65 103.65,38.93 104.00,38.21 104.35,37.49 104.70,36.78 105.05,36.06 105.41,35.34 105.76,34.62 106.11,33.90 106.46,33.18 106.81,32.47 107.17,31.75 107.52,31.03 107.87,30.31 108.22,29.59 108.57,28.87 108.93,28.15 109.28,27.44 109.63,26.72 109.98,26.00 110.33,25.28 110.69,24.56 111.04,23.84 111.39,23.13 111.74,22.41 112.09,21.69 112.45,20.97 112.80,20.25 113.15,19.53 113.50,18.82 113.85,18.10 114.21,17.38 114.56,16.66 114.91,15.94 115.26,15.22 115.61,14.50 115.97,13.79" fill="none" stroke="#ac8290" stroke-width="2.1"/><circle cx="98.0" cy="50.4" r="1.45" fill="#c2bd96" /><circle cx="100.8" cy="44.7" r="1.45" fill="#c2bd96" /><circle cx="103.6" cy="38.9" r="1.45" fill="#c2bd96" /><circle cx="106.5" cy="33.2" r="1.45" fill="#c2bd96" /><circle cx="109.3" cy="27.4" r="1.45" fill="#c2bd96" /><circle cx="112.1" cy="21.7" r="1.45" fill="#c2bd96" /><polyline points="90.80,72.28 91.13,71.56 91.46,70.83 91.79,70.10 92.12,69.37 92.45,68.64 92.79,67.91 93.12,67.19 93.45,66.46 93.78,65.73 94.11,65.00 94.44,64.27 94.77,63.54 95.10,62.82 95.43,62.09 95.76,61.36 96.09,60.63 96.43,59.90 96.76,59.17 97.09,58.45 97.42,57.72 97.75,56.99 98.08,56.26 98.41,55.53 98.74,54.80 99.07,54.08 99.40,53.35 99.73,52.62 100.07,51.89 100.40,51.16" fill="none" stroke="#34467c" stroke-width="1.8" stroke-opacity="0.8"/><circle cx="90.8" cy="72.3" r="1.15" fill="#4258a4" /><circle cx="92.1" cy="69.4" r="1.15" fill="#2a664e" /><circle cx="93.4" cy="66.5" r="1.15" fill="#4258a4" /><circle cx="94.8" cy="63.5" r="1.15" fill="#2a664e" /><circle cx="96.1" cy="60.6" r="1.15" fill="#4258a4" /><circle cx="97.4" cy="57.7" r="1.15" fill="#2a664e" /><circle cx="98.7" cy="54.8" r="1.15" fill="#4258a4" /><circle cx="100.1" cy="51.9" r="1.15" fill="#2a664e" /><polyline points="100.73,50.43 101.06,49.71 101.39,48.98 101.72,48.25 102.05,47.52 102.38,46.79 102.71,46.06 103.04,45.34 103.37,44.61 103.71,43.88 104.04,43.15 104.37,42.42 104.70,41.69 105.03,40.97 105.36,40.24 105.69,39.51 106.02,38.78 106.35,38.05 106.68,37.32 107.01,36.60 107.35,35.87 107.68,35.14 108.01,34.41 108.34,33.68 108.67,32.95 109.00,32.23 109.33,31.50 109.66,30.77 109.99,30.04 110.32,29.31 110.65,28.58 110.99,27.86 111.32,27.13 111.65,26.40 111.98,25.67 112.31,24.94 112.64,24.21 112.97,23.49 113.30,22.76 113.63,22.03 113.96,21.30 114.29,20.57 114.63,19.84 114.96,19.12 115.29,18.39 115.62,17.66 115.95,16.93 116.28,16.20 116.61,15.47 116.94,14.75 117.27,14.02 117.60,13.29 117.93,12.56" fill="none" stroke="#ac8290" stroke-width="2.1"/><circle cx="102.7" cy="46.1" r="1.45" fill="#c2bd96" /><circle cx="105.4" cy="40.2" r="1.45" fill="#c2bd96" /><circle cx="108.0" cy="34.4" r="1.45" fill="#c2bd96" /><circle cx="110.7" cy="28.6" r="1.45" fill="#c2bd96" /><circle cx="113.3" cy="22.8" r="1.45" fill="#c2bd96" /><circle cx="115.9" cy="16.9" r="1.45" fill="#c2bd96" /><polyline points="95.20,69.59 95.51,68.85 95.82,68.11 96.13,67.38 96.44,66.64 96.75,65.90 97.06,65.16 97.37,64.43 97.68,63.69 97.99,62.95 98.30,62.21 98.61,61.48 98.91,60.74 99.22,60.00 99.53,59.26 99.84,58.52 100.15,57.79 100.46,57.05 100.77,56.31 101.08,55.57 101.39,54.84 101.70,54.10 102.01,53.36 102.32,52.62 102.63,51.89 102.94,51.15 103.25,50.41 103.56,49.67 103.87,48.94" fill="none" stroke="#34467c" stroke-width="1.8" stroke-opacity="0.8"/><circle cx="95.2" cy="69.6" r="1.15" fill="#2a664e" /><circle cx="96.4" cy="66.6" r="1.15" fill="#4258a4" /><circle cx="97.7" cy="63.7" r="1.15" fill="#2a664e" /><circle cx="98.9" cy="60.7" r="1.15" fill="#4258a4" /><circle cx="100.2" cy="57.8" r="1.15" fill="#2a664e" /><circle cx="101.4" cy="54.8" r="1.15" fill="#4258a4" /><circle cx="102.6" cy="51.9" r="1.15" fill="#2a664e" /><circle cx="103.9" cy="48.9" r="1.15" fill="#4258a4" /><polyline points="104.18,48.20 104.49,47.46 104.80,46.72 105.11,45.98 105.42,45.25 105.73,44.51 106.04,43.77 106.34,43.03 106.65,42.30 106.96,41.56 107.27,40.82 107.58,40.08 107.89,39.35 108.20,38.61 108.51,37.87 108.82,37.13 109.13,36.39 109.44,35.66 109.75,34.92 110.06,34.18 110.37,33.44 110.68,32.71 110.99,31.97 111.30,31.23 111.61,30.49 111.92,29.76 112.23,29.02 112.54,28.28 112.85,27.54 113.16,26.80 113.47,26.07 113.77,25.33 114.08,24.59 114.39,23.85 114.70,23.12 115.01,22.38 115.32,21.64 115.63,20.90 115.94,20.17 116.25,19.43 116.56,18.69 116.87,17.95 117.18,17.22 117.49,16.48 117.80,15.74 118.11,15.00 118.42,14.26 118.73,13.53 119.04,12.79 119.35,12.05" fill="none" stroke="#ac8290" stroke-width="2.1"/><circle cx="104.8" cy="46.7" r="1.45" fill="#c2bd96" /><circle cx="107.3" cy="40.8" r="1.45" fill="#c2bd96" /><circle cx="109.8" cy="34.9" r="1.45" fill="#c2bd96" /><circle cx="112.2" cy="29.0" r="1.45" fill="#c2bd96" /><circle cx="114.7" cy="23.1" r="1.45" fill="#c2bd96" /><circle cx="117.2" cy="17.2" r="1.45" fill="#c2bd96" /><polyline points="99.60,66.89 99.89,66.15 100.18,65.40 100.46,64.66 100.75,63.91 101.04,63.16 101.33,62.42 101.62,61.67 101.90,60.92 102.19,60.18 102.48,59.43 102.77,58.68 103.06,57.94 103.34,57.19 103.63,56.45 103.92,55.70 104.21,54.95 104.50,54.21 104.78,53.46 105.07,52.71 105.36,51.97 105.65,51.22 105.94,50.47 106.22,49.73 106.51,48.98 106.80,48.24 107.09,47.49" fill="none" stroke="#34467c" stroke-width="1.8" stroke-opacity="0.8"/><circle cx="99.6" cy="66.9" r="1.15" fill="#4258a4" /><circle cx="100.8" cy="63.9" r="1.15" fill="#2a664e" /><circle cx="101.9" cy="60.9" r="1.15" fill="#4258a4" /><circle cx="103.1" cy="57.9" r="1.15" fill="#2a664e" /><circle cx="104.2" cy="55.0" r="1.15" fill="#4258a4" /><circle cx="105.4" cy="52.0" r="1.15" fill="#2a664e" /><circle cx="106.5" cy="49.0" r="1.15" fill="#4258a4" /><polyline points="107.38,46.74 107.66,46.00 107.95,45.25 108.24,44.50 108.53,43.76 108.82,43.01 109.10,42.26 109.39,41.52 109.68,40.77 109.97,40.03 110.26,39.28 110.54,38.53 110.83,37.79 111.12,37.04 111.41,36.29 111.70,35.55 111.98,34.80 112.27,34.05 112.56,33.31 112.85,32.56 113.14,31.82 113.42,31.07 113.71,30.32 114.00,29.58 114.29,28.83 114.58,28.08 114.86,27.34 115.15,26.59 115.44,25.84 115.73,25.10 116.02,24.35 116.30,23.61 116.59,22.86 116.88,22.11 117.17,21.37 117.45,20.62 117.74,19.87 118.03,19.13 118.32,18.38 118.61,17.63 118.89,16.89 119.18,16.14 119.47,15.40 119.76,14.65 120.05,13.90 120.33,13.16 120.62,12.41 120.91,11.66 121.20,10.92" fill="none" stroke="#ac8290" stroke-width="2.1"/><circle cx="109.4" cy="41.5" r="1.45" fill="#c2bd96" /><circle cx="111.7" cy="35.5" r="1.45" fill="#c2bd96" /><circle cx="114.0" cy="29.6" r="1.45" fill="#c2bd96" /><circle cx="116.3" cy="23.6" r="1.45" fill="#c2bd96" /><circle cx="118.6" cy="17.6" r="1.45" fill="#c2bd96" /><polyline points="104.00,64.20 104.27,63.45 104.53,62.69 104.80,61.94 105.06,61.18 105.33,60.43 105.60,59.67 105.86,58.92 106.13,58.16 106.40,57.41 106.66,56.66 106.93,55.90 107.19,55.15 107.46,54.39 107.73,53.64 107.99,52.88 108.26,52.13 108.52,51.37 108.79,50.62 109.06,49.87 109.32,49.11 109.59,48.36 109.86,47.60 110.12,46.85 110.39,46.09 110.65,45.34" fill="none" stroke="#34467c" stroke-width="1.8" stroke-opacity="0.8"/><circle cx="104.0" cy="64.2" r="1.15" fill="#2a664e" /><circle cx="105.1" cy="61.2" r="1.15" fill="#4258a4" /><circle cx="106.1" cy="58.2" r="1.15" fill="#2a664e" /><circle cx="107.2" cy="55.1" r="1.15" fill="#4258a4" /><circle cx="108.3" cy="52.1" r="1.15" fill="#2a664e" /><circle cx="109.3" cy="49.1" r="1.15" fill="#4258a4" /><circle cx="110.4" cy="46.1" r="1.15" fill="#2a664e" /><polyline points="110.92,44.58 111.19,43.83 111.45,43.08 111.72,42.32 111.98,41.57 112.25,40.81 112.52,40.06 112.78,39.30 113.05,38.55 113.32,37.79 113.58,37.04 113.85,36.29 114.11,35.53 114.38,34.78 114.65,34.02 114.91,33.27 115.18,32.51 115.44,31.76 115.71,31.01 115.98,30.25 116.24,29.50 116.51,28.74 116.77,27.99 117.04,27.23 117.31,26.48 117.57,25.72 117.84,24.97 118.11,24.22 118.37,23.46 118.64,22.71 118.90,21.95 119.17,21.20 119.44,20.44 119.70,19.69 119.97,18.93 120.23,18.18 120.50,17.43 120.77,16.67 121.03,15.92 121.30,15.16 121.57,14.41 121.83,13.65 122.10,12.90 122.36,12.14 122.63,11.39 122.90,10.64 123.16,9.88" fill="none" stroke="#ac8290" stroke-width="2.1"/><circle cx="111.7" cy="42.3" r="1.45" fill="#c2bd96" /><circle cx="113.8" cy="36.3" r="1.45" fill="#c2bd96" /><circle cx="116.0" cy="30.3" r="1.45" fill="#c2bd96" /><circle cx="118.1" cy="24.2" r="1.45" fill="#c2bd96" /><circle cx="120.2" cy="18.2" r="1.45" fill="#c2bd96" /><polyline points="108.40,61.12 108.64,60.36 108.89,59.60 109.13,58.83 109.38,58.07 109.62,57.31 109.86,56.55 110.11,55.79 110.35,55.03 110.60,54.26 110.84,53.50 111.08,52.74 111.33,51.98 111.57,51.22 111.82,50.45 112.06,49.69 112.31,48.93 112.55,48.17 112.79,47.41 113.04,46.64 113.28,45.88 113.53,45.12 113.77,44.36 114.01,43.60 114.26,42.84" fill="none" stroke="#34467c" stroke-width="1.8" stroke-opacity="0.8"/><circle cx="108.4" cy="61.1" r="1.15" fill="#4258a4" /><circle cx="109.4" cy="58.1" r="1.15" fill="#2a664e" /><circle cx="110.4" cy="55.0" r="1.15" fill="#4258a4" /><circle cx="111.3" cy="52.0" r="1.15" fill="#2a664e" /><circle cx="112.3" cy="48.9" r="1.15" fill="#4258a4" /><circle cx="113.3" cy="45.9" r="1.15" fill="#2a664e" /><circle cx="114.3" cy="42.8" r="1.15" fill="#4258a4" /><polyline points="114.50,42.07 114.75,41.31 114.99,40.55 115.23,39.79 115.48,39.03 115.72,38.26 115.97,37.50 116.21,36.74 116.45,35.98 116.70,35.22 116.94,34.46 117.19,33.69 117.43,32.93 117.68,32.17 117.92,31.41 118.16,30.65 118.41,29.88 118.65,29.12 118.90,28.36 119.14,27.60 119.38,26.84 119.63,26.07 119.87,25.31 120.12,24.55 120.36,23.79 120.60,23.03 120.85,22.27 121.09,21.50 121.34,20.74 121.58,19.98 121.82,19.22 122.07,18.46 122.31,17.69 122.56,16.93 122.80,16.17 123.04,15.41 123.29,14.65 123.53,13.88 123.78,13.12 124.02,12.36 124.27,11.60 124.51,10.84 124.75,10.08 125.00,9.31" fill="none" stroke="#ac8290" stroke-width="2.1"/><circle cx="116.2" cy="36.7" r="1.45" fill="#c2bd96" /><circle cx="118.2" cy="30.6" r="1.45" fill="#c2bd96" /><circle cx="120.1" cy="24.6" r="1.45" fill="#c2bd96" /><circle cx="122.1" cy="18.5" r="1.45" fill="#c2bd96" /><circle cx="124.0" cy="12.4" r="1.45" fill="#c2bd96" /><polyline points="112.80,58.04 113.02,57.27 113.24,56.50 113.47,55.73 113.69,54.97 113.91,54.20 114.13,53.43 114.35,52.66 114.57,51.89 114.80,51.12 115.02,50.35 115.24,49.59 115.46,48.82 115.68,48.05 115.91,47.28 116.13,46.51 116.35,45.74 116.57,44.97 116.79,44.20 117.01,43.44 117.24,42.67 117.46,41.90 117.68,41.13 117.90,40.36" fill="none" stroke="#34467c" stroke-width="1.8" stroke-opacity="0.8"/><circle cx="112.8" cy="58.0" r="1.15" fill="#2a664e" /><circle cx="113.7" cy="55.0" r="1.15" fill="#4258a4" /><circle cx="114.6" cy="51.9" r="1.15" fill="#2a664e" /><circle cx="115.5" cy="48.8" r="1.15" fill="#4258a4" /><circle cx="116.3" cy="45.7" r="1.15" fill="#2a664e" /><circle cx="117.2" cy="42.7" r="1.15" fill="#4258a4" /><polyline points="118.12,39.59 118.35,38.82 118.57,38.06 118.79,37.29 119.01,36.52 119.23,35.75 119.45,34.98 119.68,34.21 119.90,33.44 120.12,32.68 120.34,31.91 120.56,31.14 120.79,30.37 121.01,29.60 121.23,28.83 121.45,28.06 121.67,27.29 121.89,26.53 122.12,25.76 122.34,24.99 122.56,24.22 122.78,23.45 123.00,22.68 123.23,21.91 123.45,21.15 123.67,20.38 123.89,19.61 124.11,18.84 124.33,18.07 124.56,17.30 124.78,16.53 125.00,15.77 125.22,15.00 125.44,14.23 125.66,13.46 125.89,12.69 126.11,11.92 126.33,11.15 126.55,10.38 126.77,9.62 127.00,8.85 127.22,8.08" fill="none" stroke="#ac8290" stroke-width="2.1"/><circle cx="118.8" cy="37.3" r="1.45" fill="#c2bd96" /><circle cx="120.6" cy="31.1" r="1.45" fill="#c2bd96" /><circle cx="122.3" cy="25.0" r="1.45" fill="#c2bd96" /><circle cx="124.1" cy="18.8" r="1.45" fill="#c2bd96" /><circle cx="125.9" cy="12.7" r="1.45" fill="#c2bd96" /><polyline points="117.20,54.96 117.40,54.19 117.60,53.41 117.80,52.64 118.00,51.86 118.20,51.09 118.40,50.31 118.60,49.54 118.79,48.76 118.99,47.99 119.19,47.21 119.39,46.44 119.59,45.66 119.79,44.89 119.99,44.11 120.19,43.34 120.39,42.56 120.59,41.79 120.79,41.01 120.99,40.24 121.19,39.46 121.39,38.69" fill="none" stroke="#34467c" stroke-width="1.8" stroke-opacity="0.8"/><circle cx="117.2" cy="55.0" r="1.15" fill="#4258a4" /><circle cx="118.0" cy="51.9" r="1.15" fill="#2a664e" /><circle cx="118.8" cy="48.8" r="1.15" fill="#4258a4" /><circle cx="119.6" cy="45.7" r="1.15" fill="#2a664e" /><circle cx="120.4" cy="42.6" r="1.15" fill="#4258a4" /><circle cx="121.2" cy="39.5" r="1.15" fill="#2a664e" /><polyline points="121.59,37.92 121.79,37.14 121.98,36.37 122.18,35.59 122.38,34.82 122.58,34.04 122.78,33.27 122.98,32.49 123.18,31.72 123.38,30.94 123.58,30.17 123.78,29.39 123.98,28.62 124.18,27.84 124.38,27.07 124.58,26.29 124.78,25.52 124.97,24.74 125.17,23.97 125.37,23.19 125.57,22.42 125.77,21.65 125.97,20.87 126.17,20.10 126.37,19.32 126.57,18.55 126.77,17.77 126.97,17.00 127.17,16.22 127.37,15.45 127.57,14.67 127.77,13.90 127.96,13.12 128.16,12.35 128.36,11.57 128.56,10.80 128.76,10.02 128.96,9.25 129.16,8.47 129.36,7.70" fill="none" stroke="#ac8290" stroke-width="2.1"/><circle cx="121.6" cy="37.9" r="1.45" fill="#c2bd96" /><circle cx="123.2" cy="31.7" r="1.45" fill="#c2bd96" /><circle cx="124.8" cy="25.5" r="1.45" fill="#c2bd96" /><circle cx="126.4" cy="19.3" r="1.45" fill="#c2bd96" /><circle cx="128.0" cy="13.1" r="1.45" fill="#c2bd96" /><polyline points="121.60,52.23 121.78,51.45 121.95,50.67 122.13,49.89 122.31,49.11 122.48,48.33 122.66,47.55 122.84,46.77 123.01,45.99 123.19,45.21 123.37,44.43 123.54,43.65 123.72,42.87 123.90,42.09 124.07,41.31 124.25,40.53 124.43,39.75 124.60,38.97 124.78,38.19 124.96,37.41 125.13,36.63" fill="none" stroke="#34467c" stroke-width="1.8" stroke-opacity="0.8"/><circle cx="121.6" cy="52.2" r="1.15" fill="#2a664e" /><circle cx="122.3" cy="49.1" r="1.15" fill="#4258a4" /><circle cx="123.0" cy="46.0" r="1.15" fill="#2a664e" /><circle cx="123.7" cy="42.9" r="1.15" fill="#4258a4" /><circle cx="124.4" cy="39.7" r="1.15" fill="#2a664e" /><circle cx="125.1" cy="36.6" r="1.15" fill="#4258a4" /><polyline points="125.31,35.85 125.49,35.07 125.66,34.29 125.84,33.51 126.02,32.73 126.19,31.95 126.37,31.17 126.55,30.39 126.72,29.61 126.90,28.82 127.08,28.04 127.26,27.26 127.43,26.48 127.61,25.70 127.79,24.92 127.96,24.14 128.14,23.36 128.32,22.58 128.49,21.80 128.67,21.02 128.85,20.24 129.02,19.46 129.20,18.68 129.38,17.90 129.55,17.12 129.73,16.34 129.91,15.56 130.08,14.78 130.26,14.00 130.44,13.22 130.61,12.44 130.79,11.66 130.97,10.88 131.14,10.10 131.32,9.32 131.50,8.54 131.67,7.76 131.85,6.98" fill="none" stroke="#ac8290" stroke-width="2.1"/><circle cx="126.0" cy="32.7" r="1.45" fill="#c2bd96" /><circle cx="127.4" cy="26.5" r="1.45" fill="#c2bd96" /><circle cx="128.8" cy="20.2" r="1.45" fill="#c2bd96" /><circle cx="130.3" cy="14.0" r="1.45" fill="#c2bd96" /><polyline points="126.00,50.12 126.15,49.33 126.31,48.55 126.46,47.76 126.62,46.98 126.77,46.19 126.92,45.41 127.08,44.62 127.23,43.84 127.39,43.05 127.54,42.27 127.69,41.48 127.85,40.70 128.00,39.91 128.16,39.13 128.31,38.34 128.46,37.56 128.62,36.77 128.77,35.99 128.92,35.20 129.08,34.42" fill="none" stroke="#34467c" stroke-width="1.8" stroke-opacity="0.8"/><circle cx="126.0" cy="50.1" r="1.15" fill="#4258a4" /><circle cx="126.6" cy="47.0" r="1.15" fill="#2a664e" /><circle cx="127.2" cy="43.8" r="1.15" fill="#4258a4" /><circle cx="127.8" cy="40.7" r="1.15" fill="#2a664e" /><circle cx="128.5" cy="37.6" r="1.15" fill="#4258a4" /><circle cx="129.1" cy="34.4" r="1.15" fill="#2a664e" /><polyline points="129.23,33.63 129.39,32.85 129.54,32.06 129.69,31.28 129.85,30.49 130.00,29.71 130.16,28.92 130.31,28.14 130.46,27.35 130.62,26.57 130.77,25.78 130.93,25.00 131.08,24.21 131.23,23.43 131.39,22.64 131.54,21.86 131.70,21.07 131.85,20.29 132.00,19.50 132.16,18.72 132.31,17.93 132.47,17.15 132.62,16.36 132.77,15.58 132.93,14.79 133.08,14.01 133.24,13.22 133.39,12.44 133.54,11.65 133.70,10.87 133.85,10.08 134.01,9.30 134.16,8.51 134.31,7.73 134.47,6.94 134.62,6.16" fill="none" stroke="#ac8290" stroke-width="2.1"/><circle cx="130.3" cy="28.1" r="1.45" fill="#c2bd96" /><circle cx="131.5" cy="21.9" r="1.45" fill="#c2bd96" /><circle cx="132.8" cy="15.6" r="1.45" fill="#c2bd96" /><circle cx="134.0" cy="9.3" r="1.45" fill="#c2bd96" /><polyline points="130.40,48.16 130.53,47.37 130.66,46.58 130.79,45.79 130.92,45.00 131.06,44.21 131.19,43.42 131.32,42.63 131.45,41.84 131.58,41.05 131.71,40.26 131.84,39.47 131.97,38.69 132.10,37.90 132.23,37.11 132.37,36.32 132.50,35.53 132.63,34.74 132.76,33.95 132.89,33.16" fill="none" stroke="#34467c" stroke-width="1.8" stroke-opacity="0.8"/><circle cx="130.4" cy="48.2" r="1.15" fill="#2a664e" /><circle cx="130.9" cy="45.0" r="1.15" fill="#4258a4" /><circle cx="131.4" cy="41.8" r="1.15" fill="#2a664e" /><circle cx="132.0" cy="38.7" r="1.15" fill="#4258a4" /><circle cx="132.5" cy="35.5" r="1.15" fill="#2a664e" /><polyline points="133.02,32.37 133.15,31.58 133.28,30.79 133.41,30.00 133.54,29.22 133.68,28.43 133.81,27.64 133.94,26.85 134.07,26.06 134.20,25.27 134.33,24.48 134.46,23.69 134.59,22.90 134.72,22.11 134.86,21.32 134.99,20.53 135.12,19.74 135.25,18.96 135.38,18.17 135.51,17.38 135.64,16.59 135.77,15.80 135.90,15.01 136.03,14.22 136.17,13.43 136.30,12.64 136.43,11.85 136.56,11.06 136.69,10.27 136.82,9.49 136.95,8.70 137.08,7.91 137.21,7.12 137.35,6.33 137.48,5.54 137.61,4.75" fill="none" stroke="#ac8290" stroke-width="2.1"/><circle cx="133.4" cy="30.0" r="1.45" fill="#c2bd96" /><circle cx="134.5" cy="23.7" r="1.45" fill="#c2bd96" /><circle cx="135.5" cy="17.4" r="1.45" fill="#c2bd96" /><circle cx="136.6" cy="11.1" r="1.45" fill="#c2bd96" /><polyline points="134.80,47.67 134.91,46.88 135.02,46.09 135.12,45.29 135.23,44.50 135.34,43.71 135.45,42.92 135.56,42.12 135.66,41.33 135.77,40.54 135.88,39.75 135.99,38.95 136.10,38.16 136.20,37.37 136.31,36.57 136.42,35.78 136.53,34.99 136.64,34.20 136.74,33.40 136.85,32.61" fill="none" stroke="#34467c" stroke-width="1.8" stroke-opacity="0.8"/><circle cx="134.8" cy="47.7" r="1.15" fill="#4258a4" /><circle cx="135.2" cy="44.5" r="1.15" fill="#2a664e" /><circle cx="135.7" cy="41.3" r="1.15" fill="#4258a4" /><circle cx="136.1" cy="38.2" r="1.15" fill="#2a664e" /><circle cx="136.5" cy="35.0" r="1.15" fill="#4258a4" /><polyline points="136.96,31.82 137.07,31.03 137.18,30.23 137.28,29.44 137.39,28.65 137.50,27.86 137.61,27.06 137.72,26.27 137.82,25.48 137.93,24.68 138.04,23.89 138.15,23.10 138.26,22.31 138.36,21.51 138.47,20.72 138.58,19.93 138.69,19.14 138.80,18.34 138.90,17.55 139.01,16.76 139.12,15.97 139.23,15.17 139.34,14.38 139.44,13.59 139.55,12.79 139.66,12.00 139.77,11.21 139.88,10.42 139.98,9.62 140.09,8.83 140.20,8.04 140.31,7.25 140.42,6.45 140.53,5.66 140.63,4.87 140.74,4.07" fill="none" stroke="#ac8290" stroke-width="2.1"/><circle cx="137.6" cy="27.1" r="1.45" fill="#c2bd96" /><circle cx="138.5" cy="20.7" r="1.45" fill="#c2bd96" /><circle cx="139.3" cy="14.4" r="1.45" fill="#c2bd96" /><circle cx="140.2" cy="8.0" r="1.45" fill="#c2bd96" /><polyline points="139.20,47.19 139.28,46.39 139.37,45.60 139.45,44.80 139.54,44.01 139.62,43.21 139.71,42.42 139.79,41.62 139.88,40.82 139.96,40.03 140.05,39.23 140.13,38.44 140.22,37.64 140.30,36.85 140.39,36.05 140.47,35.26 140.56,34.46 140.64,33.66 140.73,32.87 140.81,32.07" fill="none" stroke="#34467c" stroke-width="1.8" stroke-opacity="0.8"/><circle cx="139.2" cy="47.2" r="1.15" fill="#2a664e" /><circle cx="139.5" cy="44.0" r="1.15" fill="#4258a4" /><circle cx="139.9" cy="40.8" r="1.15" fill="#2a664e" /><circle cx="140.2" cy="37.6" r="1.15" fill="#4258a4" /><circle cx="140.6" cy="34.5" r="1.15" fill="#2a664e" /><polyline points="140.90,31.28 140.98,30.48 141.07,29.69 141.15,28.89 141.24,28.10 141.32,27.30 141.41,26.51 141.49,25.71 141.58,24.91 141.66,24.12 141.75,23.32 141.83,22.53 141.92,21.73 142.00,20.94 142.09,20.14 142.17,19.35 142.26,18.55 142.34,17.76 142.43,16.96 142.51,16.16 142.60,15.37 142.68,14.57 142.77,13.78 142.85,12.98 142.94,12.19 143.02,11.39 143.11,10.60 143.19,9.80 143.28,9.00 143.36,8.21 143.45,7.41 143.53,6.62 143.62,5.82 143.70,5.03 143.79,4.23 143.87,3.44" fill="none" stroke="#ac8290" stroke-width="2.1"/><circle cx="141.0" cy="30.5" r="1.45" fill="#c2bd96" /><circle cx="141.7" cy="24.1" r="1.45" fill="#c2bd96" /><circle cx="142.3" cy="17.8" r="1.45" fill="#c2bd96" /><circle cx="143.0" cy="11.4" r="1.45" fill="#c2bd96" /><polyline points="143.60,46.70 143.66,45.91 143.72,45.11 143.79,44.31 143.85,43.51 143.91,42.72 143.97,41.92 144.03,41.12 144.09,40.32 144.16,39.53 144.22,38.73 144.28,37.93 144.34,37.13 144.40,36.34 144.46,35.54 144.53,34.74 144.59,33.94 144.65,33.14 144.71,32.35 144.77,31.55" fill="none" stroke="#34467c" stroke-width="1.8" stroke-opacity="0.8"/><circle cx="143.6" cy="46.7" r="1.15" fill="#4258a4" /><circle cx="143.8" cy="43.5" r="1.15" fill="#2a664e" /><circle cx="144.1" cy="40.3" r="1.15" fill="#4258a4" /><circle cx="144.3" cy="37.1" r="1.15" fill="#2a664e" /><circle cx="144.6" cy="33.9" r="1.15" fill="#4258a4" /><polyline points="144.83,30.75 144.90,29.95 144.96,29.16 145.02,28.36 145.08,27.56 145.14,26.76 145.20,25.97 145.27,25.17 145.33,24.37 145.39,23.57 145.45,22.78 145.51,21.98 145.58,21.18 145.64,20.38 145.70,19.59 145.76,18.79 145.82,17.99 145.88,17.19 145.95,16.39 146.01,15.60 146.07,14.80 146.13,14.00 146.19,13.20 146.25,12.41 146.32,11.61 146.38,10.81 146.44,10.01 146.50,9.22 146.56,8.42 146.62,7.62 146.69,6.82 146.75,6.03 146.81,5.23 146.87,4.43 146.93,3.63" fill="none" stroke="#ac8290" stroke-width="2.1"/><circle cx="145.1" cy="27.6" r="1.45" fill="#c2bd96" /><circle cx="145.6" cy="21.2" r="1.45" fill="#c2bd96" /><circle cx="146.1" cy="14.8" r="1.45" fill="#c2bd96" /><circle cx="146.6" cy="8.4" r="1.45" fill="#c2bd96" /><polyline points="148.00,46.22 148.04,45.42 148.08,44.62 148.12,43.82 148.15,43.02 148.19,42.22 148.23,41.43 148.27,40.63 148.31,39.83 148.35,39.03 148.38,38.23 148.42,37.43 148.46,36.63 148.50,35.83 148.54,35.03 148.58,34.23 148.62,33.43 148.65,32.64 148.69,31.84 148.73,31.04" fill="none" stroke="#34467c" stroke-width="1.8" stroke-opacity="0.8"/><circle cx="148.0" cy="46.2" r="1.15" fill="#2a664e" /><circle cx="148.2" cy="43.0" r="1.15" fill="#4258a4" /><circle cx="148.3" cy="39.8" r="1.15" fill="#2a664e" /><circle cx="148.5" cy="36.6" r="1.15" fill="#4258a4" /><circle cx="148.6" cy="33.4" r="1.15" fill="#2a664e" /><polyline points="148.77,30.24 148.81,29.44 148.85,28.64 148.89,27.84 148.92,27.04 148.96,26.24 149.00,25.44 149.04,24.65 149.08,23.85 149.12,23.05 149.15,22.25 149.19,21.45 149.23,20.65 149.27,19.85 149.31,19.05 149.35,18.25 149.39,17.45 149.42,16.65 149.46,15.86 149.50,15.06 149.54,14.26 149.58,13.46 149.62,12.66 149.66,11.86 149.69,11.06 149.73,10.26 149.77,9.46 149.81,8.66 149.85,7.86 149.89,7.07 149.92,6.27 149.96,5.47 150.00,4.67 150.04,3.87 150.08,3.07" fill="none" stroke="#ac8290" stroke-width="2.1"/><circle cx="149.0" cy="24.6" r="1.45" fill="#c2bd96" /><circle cx="149.3" cy="18.3" r="1.45" fill="#c2bd96" /><circle cx="149.7" cy="11.9" r="1.45" fill="#c2bd96" /><polyline points="152.40,46.29 152.36,45.49 152.32,44.69 152.28,43.89 152.24,43.09 152.20,42.29 152.16,41.49 152.12,40.69 152.08,39.89 152.03,39.09 151.99,38.30 151.95,37.50 151.91,36.70 151.87,35.90 151.83,35.10 151.79,34.30 151.75,33.50 151.71,32.70 151.67,31.90 151.63,31.10" fill="none" stroke="#34467c" stroke-width="1.8" stroke-opacity="0.8"/><circle cx="152.4" cy="46.3" r="1.15" fill="#4258a4" /><circle cx="152.2" cy="43.1" r="1.15" fill="#2a664e" /><circle cx="152.1" cy="39.9" r="1.15" fill="#4258a4" /><circle cx="151.9" cy="36.7" r="1.15" fill="#2a664e" /><circle cx="151.8" cy="33.5" r="1.15" fill="#4258a4" /><polyline points="151.59,30.31 151.55,29.51 151.51,28.71 151.47,27.91 151.43,27.11 151.38,26.31 151.34,25.51 151.30,24.71 151.26,23.91 151.22,23.12 151.18,22.32 151.14,21.52 151.10,20.72 151.06,19.92 151.02,19.12 150.98,18.32 150.94,17.52 150.90,16.72 150.86,15.92 150.82,15.13 150.78,14.33 150.74,13.53 150.69,12.73 150.65,11.93 150.61,11.13 150.57,10.33 150.53,9.53 150.49,8.73 150.45,7.93 150.41,7.14 150.37,6.34 150.33,5.54 150.29,4.74 150.25,3.94 150.21,3.14" fill="none" stroke="#ac8290" stroke-width="2.1"/><circle cx="151.5" cy="28.7" r="1.45" fill="#c2bd96" /><circle cx="151.2" cy="22.3" r="1.45" fill="#c2bd96" /><circle cx="150.9" cy="15.9" r="1.45" fill="#c2bd96" /><circle cx="150.5" cy="9.5" r="1.45" fill="#c2bd96" /><polyline points="156.80,46.81 156.74,46.01 156.67,45.21 156.61,44.42 156.54,43.62 156.48,42.82 156.42,42.02 156.35,41.23 156.29,40.43 156.23,39.63 156.16,38.83 156.10,38.04 156.03,37.24 155.97,36.44 155.91,35.64 155.84,34.85 155.78,34.05 155.71,33.25 155.65,32.45 155.59,31.66" fill="none" stroke="#34467c" stroke-width="1.8" stroke-opacity="0.8"/><circle cx="156.8" cy="46.8" r="1.15" fill="#2a664e" /><circle cx="156.5" cy="43.6" r="1.15" fill="#4258a4" /><circle cx="156.3" cy="40.4" r="1.15" fill="#2a664e" /><circle cx="156.0" cy="37.2" r="1.15" fill="#4258a4" /><circle cx="155.8" cy="34.0" r="1.15" fill="#2a664e" /><polyline points="155.52,30.86 155.46,30.06 155.40,29.26 155.33,28.47 155.27,27.67 155.20,26.87 155.14,26.07 155.08,25.28 155.01,24.48 154.95,23.68 154.88,22.89 154.82,22.09 154.76,21.29 154.69,20.49 154.63,19.70 154.57,18.90 154.50,18.10 154.44,17.30 154.37,16.51 154.31,15.71 154.25,14.91 154.18,14.11 154.12,13.32 154.06,12.52 153.99,11.72 153.93,10.92 153.86,10.13 153.80,9.33 153.74,8.53 153.67,7.73 153.61,6.94 153.54,6.14 153.48,5.34 153.42,4.54 153.35,3.75" fill="none" stroke="#ac8290" stroke-width="2.1"/><circle cx="155.2" cy="26.9" r="1.45" fill="#c2bd96" /><circle cx="154.7" cy="20.5" r="1.45" fill="#c2bd96" /><circle cx="154.2" cy="14.1" r="1.45" fill="#c2bd96" /><circle cx="153.7" cy="7.7" r="1.45" fill="#c2bd96" /><polyline points="161.20,47.33 161.11,46.54 161.03,45.74 160.94,44.95 160.85,44.15 160.76,43.36 160.68,42.56 160.59,41.77 160.50,40.97 160.42,40.17 160.33,39.38 160.24,38.58 160.16,37.79 160.07,36.99 159.98,36.20 159.89,35.40 159.81,34.61 159.72,33.81 159.63,33.02 159.55,32.22" fill="none" stroke="#34467c" stroke-width="1.8" stroke-opacity="0.8"/><circle cx="161.2" cy="47.3" r="1.15" fill="#4258a4" /><circle cx="160.9" cy="44.2" r="1.15" fill="#2a664e" /><circle cx="160.5" cy="41.0" r="1.15" fill="#4258a4" /><circle cx="160.2" cy="37.8" r="1.15" fill="#2a664e" /><circle cx="159.8" cy="34.6" r="1.15" fill="#4258a4" /><polyline points="159.46,31.43 159.37,30.63 159.29,29.84 159.20,29.04 159.11,28.25 159.02,27.45 158.94,26.66 158.85,25.86 158.76,25.06 158.68,24.27 158.59,23.47 158.50,22.68 158.42,21.88 158.33,21.09 158.24,20.29 158.15,19.50 158.07,18.70 157.98,17.91 157.89,17.11 157.81,16.32 157.72,15.52 157.63,14.73 157.55,13.93 157.46,13.14 157.37,12.34 157.28,11.55 157.20,10.75 157.11,9.95 157.02,9.16 156.94,8.36 156.85,7.57 156.76,6.77 156.68,5.98 156.59,5.18 156.50,4.39" fill="none" stroke="#ac8290" stroke-width="2.1"/><circle cx="159.5" cy="31.4" r="1.45" fill="#c2bd96" /><circle cx="158.8" cy="25.1" r="1.45" fill="#c2bd96" /><circle cx="158.1" cy="18.7" r="1.45" fill="#c2bd96" /><circle cx="157.4" cy="12.3" r="1.45" fill="#c2bd96" /><polyline points="165.60,47.86 165.49,47.06 165.38,46.27 165.27,45.48 165.16,44.69 165.05,43.89 164.94,43.10 164.83,42.31 164.72,41.52 164.61,40.72 164.50,39.93 164.39,39.14 164.28,38.35 164.17,37.55 164.06,36.76 163.95,35.97 163.84,35.18 163.73,34.38 163.62,33.59 163.51,32.80" fill="none" stroke="#34467c" stroke-width="1.8" stroke-opacity="0.8"/><circle cx="165.6" cy="47.9" r="1.15" fill="#2a664e" /><circle cx="165.2" cy="44.7" r="1.15" fill="#4258a4" /><circle cx="164.7" cy="41.5" r="1.15" fill="#2a664e" /><circle cx="164.3" cy="38.3" r="1.15" fill="#4258a4" /><circle cx="163.8" cy="35.2" r="1.15" fill="#2a664e" /><polyline points="163.40,32.01 163.29,31.22 163.18,30.42 163.07,29.63 162.96,28.84 162.85,28.05 162.74,27.25 162.63,26.46 162.52,25.67 162.41,24.88 162.30,24.08 162.19,23.29 162.08,22.50 161.97,21.71 161.86,20.91 161.75,20.12 161.64,19.33 161.53,18.54 161.42,17.74 161.31,16.95 161.20,16.16 161.09,15.37 160.98,14.57 160.87,13.78 160.75,12.99 160.64,12.20 160.53,11.41 160.42,10.61 160.31,9.82 160.20,9.03 160.09,8.24 159.98,7.44 159.87,6.65 159.76,5.86" fill="none" stroke="#ac8290" stroke-width="2.1"/><circle cx="163.1" cy="29.6" r="1.45" fill="#c2bd96" /><circle cx="162.2" cy="23.3" r="1.45" fill="#c2bd96" /><circle cx="161.3" cy="17.0" r="1.45" fill="#c2bd96" /><circle cx="160.4" cy="10.6" r="1.45" fill="#c2bd96" /><polyline points="170.00,48.95 169.87,48.16 169.73,47.37 169.60,46.58 169.47,45.79 169.33,45.01 169.20,44.22 169.07,43.43 168.93,42.64 168.80,41.85 168.67,41.06 168.54,40.27 168.40,39.48 168.27,38.70 168.14,37.91 168.00,37.12 167.87,36.33 167.74,35.54 167.60,34.75 167.47,33.96" fill="none" stroke="#34467c" stroke-width="1.8" stroke-opacity="0.8"/><circle cx="170.0" cy="49.0" r="1.15" fill="#4258a4" /><circle cx="169.5" cy="45.8" r="1.15" fill="#2a664e" /><circle cx="168.9" cy="42.6" r="1.15" fill="#4258a4" /><circle cx="168.4" cy="39.5" r="1.15" fill="#2a664e" /><circle cx="167.9" cy="36.3" r="1.15" fill="#4258a4" /><polyline points="167.34,33.17 167.20,32.38 167.07,31.60 166.94,30.81 166.80,30.02 166.67,29.23 166.54,28.44 166.41,27.65 166.27,26.86 166.14,26.07 166.01,25.28 165.87,24.50 165.74,23.71 165.61,22.92 165.47,22.13 165.34,21.34 165.21,20.55 165.07,19.76 164.94,18.97 164.81,18.19 164.67,17.40 164.54,16.61 164.41,15.82 164.28,15.03 164.14,14.24 164.01,13.45 163.88,12.66 163.74,11.87 163.61,11.09 163.48,10.30 163.34,9.51 163.21,8.72 163.08,7.93 162.94,7.14 162.81,6.35" fill="none" stroke="#ac8290" stroke-width="2.1"/><circle cx="166.5" cy="28.4" r="1.45" fill="#c2bd96" /><circle cx="165.5" cy="22.1" r="1.45" fill="#c2bd96" /><circle cx="164.4" cy="15.8" r="1.45" fill="#c2bd96" /><circle cx="163.3" cy="9.5" r="1.45" fill="#c2bd96" /><polyline points="174.40,51.15 174.24,50.37 174.09,49.58 173.93,48.80 173.78,48.01 173.62,47.23 173.46,46.44 173.31,45.66 173.15,44.87 173.00,44.09 172.84,43.30 172.68,42.52 172.53,41.73 172.37,40.95 172.22,40.17 172.06,39.38 171.90,38.60 171.75,37.81 171.59,37.03 171.44,36.24 171.28,35.46" fill="none" stroke="#34467c" stroke-width="1.8" stroke-opacity="0.8"/><circle cx="174.4" cy="51.2" r="1.15" fill="#2a664e" /><circle cx="173.8" cy="48.0" r="1.15" fill="#4258a4" /><circle cx="173.2" cy="44.9" r="1.15" fill="#2a664e" /><circle cx="172.5" cy="41.7" r="1.15" fill="#4258a4" /><circle cx="171.9" cy="38.6" r="1.15" fill="#2a664e" /><circle cx="171.3" cy="35.5" r="1.15" fill="#4258a4" /><polyline points="171.12,34.67 170.97,33.89 170.81,33.10 170.66,32.32 170.50,31.53 170.34,30.75 170.19,29.96 170.03,29.18 169.88,28.40 169.72,27.61 169.56,26.83 169.41,26.04 169.25,25.26 169.10,24.47 168.94,23.69 168.78,22.90 168.63,22.12 168.47,21.33 168.32,20.55 168.16,19.76 168.00,18.98 167.85,18.20 167.69,17.41 167.54,16.63 167.38,15.84 167.22,15.06 167.07,14.27 166.91,13.49 166.75,12.70 166.60,11.92 166.44,11.13 166.29,10.35 166.13,9.56 165.97,8.78 165.82,7.99 165.66,7.21" fill="none" stroke="#ac8290" stroke-width="2.1"/><circle cx="171.1" cy="34.7" r="1.45" fill="#c2bd96" /><circle cx="169.9" cy="28.4" r="1.45" fill="#c2bd96" /><circle cx="168.6" cy="22.1" r="1.45" fill="#c2bd96" /><circle cx="167.4" cy="15.8" r="1.45" fill="#c2bd96" /><polyline points="178.80,53.35 178.62,52.57 178.44,51.79 178.26,51.01 178.08,50.23 177.91,49.45 177.73,48.67 177.55,47.89 177.37,47.11 177.19,46.33 177.01,45.55 176.83,44.77 176.65,43.99 176.48,43.21 176.30,42.43 176.12,41.65 175.94,40.87 175.76,40.09 175.58,39.31 175.40,38.53 175.22,37.75" fill="none" stroke="#34467c" stroke-width="1.8" stroke-opacity="0.8"/><circle cx="178.8" cy="53.4" r="1.15" fill="#4258a4" /><circle cx="178.1" cy="50.2" r="1.15" fill="#2a664e" /><circle cx="177.4" cy="47.1" r="1.15" fill="#4258a4" /><circle cx="176.7" cy="44.0" r="1.15" fill="#2a664e" /><circle cx="175.9" cy="40.9" r="1.15" fill="#4258a4" /><circle cx="175.2" cy="37.8" r="1.15" fill="#2a664e" /><polyline points="175.05,36.97 174.87,36.20 174.69,35.42 174.51,34.64 174.33,33.86 174.15,33.08 173.97,32.30 173.79,31.52 173.62,30.74 173.44,29.96 173.26,29.18 173.08,28.40 172.90,27.62 172.72,26.84 172.54,26.06 172.36,25.28 172.18,24.50 172.01,23.72 171.83,22.94 171.65,22.16 171.47,21.38 171.29,20.60 171.11,19.82 170.93,19.04 170.75,18.26 170.58,17.48 170.40,16.70 170.22,15.92 170.04,15.14 169.86,14.36 169.68,13.58 169.50,12.80 169.32,12.02 169.15,11.24 168.97,10.46 168.79,9.68 168.61,8.90 168.43,8.12" fill="none" stroke="#ac8290" stroke-width="2.1"/><circle cx="174.5" cy="34.6" r="1.45" fill="#c2bd96" /><circle cx="173.1" cy="28.4" r="1.45" fill="#c2bd96" /><circle cx="171.6" cy="22.2" r="1.45" fill="#c2bd96" /><circle cx="170.2" cy="15.9" r="1.45" fill="#c2bd96" /><polyline points="183.20,55.55 183.00,54.78 182.80,54.00 182.60,53.23 182.39,52.45 182.19,51.68 181.99,50.90 181.79,50.13 181.59,49.36 181.39,48.58 181.19,47.81 180.98,47.03 180.78,46.26 180.58,45.48 180.38,44.71 180.18,43.94 179.98,43.16 179.78,42.39 179.57,41.61 179.37,40.84 179.17,40.07 178.97,39.29" fill="none" stroke="#34467c" stroke-width="1.8" stroke-opacity="0.8"/><circle cx="183.2" cy="55.6" r="1.15" fill="#2a664e" /><circle cx="182.4" cy="52.5" r="1.15" fill="#4258a4" /><circle cx="181.6" cy="49.4" r="1.15" fill="#2a664e" /><circle cx="180.8" cy="46.3" r="1.15" fill="#4258a4" /><circle cx="180.0" cy="43.2" r="1.15" fill="#2a664e" /><circle cx="179.2" cy="40.1" r="1.15" fill="#4258a4" /><polyline points="178.77,38.52 178.57,37.74 178.37,36.97 178.17,36.19 177.96,35.42 177.76,34.65 177.56,33.87 177.36,33.10 177.16,32.32 176.96,31.55 176.76,30.77 176.55,30.00 176.35,29.23 176.15,28.45 175.95,27.68 175.75,26.90 175.55,26.13 175.35,25.35 175.14,24.58 174.94,23.81 174.74,23.03 174.54,22.26 174.34,21.48 174.14,20.71 173.94,19.94 173.73,19.16 173.53,18.39 173.33,17.61 173.13,16.84 172.93,16.06 172.73,15.29 172.53,14.52 172.32,13.74 172.12,12.97 171.92,12.19 171.72,11.42 171.52,10.64 171.32,9.87" fill="none" stroke="#ac8290" stroke-width="2.1"/><circle cx="177.8" cy="34.6" r="1.45" fill="#c2bd96" /><circle cx="176.2" cy="28.5" r="1.45" fill="#c2bd96" /><circle cx="174.5" cy="22.3" r="1.45" fill="#c2bd96" /><circle cx="172.9" cy="16.1" r="1.45" fill="#c2bd96" /><polyline points="187.60,58.05 187.38,57.28 187.15,56.51 186.93,55.74 186.70,54.98 186.48,54.21 186.26,53.44 186.03,52.67 185.81,51.90 185.59,51.14 185.36,50.37 185.14,49.60 184.91,48.83 184.69,48.06 184.47,47.30 184.24,46.53 184.02,45.76 183.79,44.99 183.57,44.22 183.35,43.46 183.12,42.69 182.90,41.92" fill="none" stroke="#34467c" stroke-width="1.8" stroke-opacity="0.8"/><circle cx="187.6" cy="58.0" r="1.15" fill="#4258a4" /><circle cx="186.7" cy="55.0" r="1.15" fill="#2a664e" /><circle cx="185.8" cy="51.9" r="1.15" fill="#4258a4" /><circle cx="184.9" cy="48.8" r="1.15" fill="#2a664e" /><circle cx="184.0" cy="45.8" r="1.15" fill="#4258a4" /><circle cx="183.1" cy="42.7" r="1.15" fill="#2a664e" /><polyline points="182.68,41.15 182.45,40.38 182.23,39.62 182.00,38.85 181.78,38.08 181.56,37.31 181.33,36.54 181.11,35.78 180.88,35.01 180.66,34.24 180.44,33.47 180.21,32.70 179.99,31.93 179.77,31.17 179.54,30.40 179.32,29.63 179.09,28.86 178.87,28.09 178.65,27.33 178.42,26.56 178.20,25.79 177.97,25.02 177.75,24.25 177.53,23.49 177.30,22.72 177.08,21.95 176.86,21.18 176.63,20.41 176.41,19.65 176.18,18.88 175.96,18.11 175.74,17.34 175.51,16.57 175.29,15.81 175.06,15.04 174.84,14.27 174.62,13.50 174.39,12.73 174.17,11.97 173.95,11.20" fill="none" stroke="#ac8290" stroke-width="2.1"/><circle cx="182.7" cy="41.2" r="1.45" fill="#c2bd96" /><circle cx="180.9" cy="35.0" r="1.45" fill="#c2bd96" /><circle cx="179.1" cy="28.9" r="1.45" fill="#c2bd96" /><circle cx="177.3" cy="22.7" r="1.45" fill="#c2bd96" /><circle cx="175.5" cy="16.6" r="1.45" fill="#c2bd96" /><polyline points="192.00,60.67 191.75,59.91 191.51,59.15 191.26,58.39 191.02,57.63 190.77,56.87 190.52,56.10 190.28,55.34 190.03,54.58 189.79,53.82 189.54,53.06 189.29,52.30 189.05,51.54 188.80,50.78 188.55,50.02 188.31,49.25 188.06,48.49 187.82,47.73 187.57,46.97 187.32,46.21 187.08,45.45 186.83,44.69 186.59,43.93" fill="none" stroke="#34467c" stroke-width="1.8" stroke-opacity="0.8"/><circle cx="192.0" cy="60.7" r="1.15" fill="#2a664e" /><circle cx="191.0" cy="57.6" r="1.15" fill="#4258a4" /><circle cx="190.0" cy="54.6" r="1.15" fill="#2a664e" /><circle cx="189.0" cy="51.5" r="1.15" fill="#4258a4" /><circle cx="188.1" cy="48.5" r="1.15" fill="#2a664e" /><circle cx="187.1" cy="45.4" r="1.15" fill="#4258a4" /><polyline points="186.34,43.16 186.09,42.40 185.85,41.64 185.60,40.88 185.36,40.12 185.11,39.36 184.86,38.60 184.62,37.84 184.37,37.07 184.12,36.31 183.88,35.55 183.63,34.79 183.39,34.03 183.14,33.27 182.89,32.51 182.65,31.75 182.40,30.98 182.16,30.22 181.91,29.46 181.66,28.70 181.42,27.94 181.17,27.18 180.93,26.42 180.68,25.66 180.43,24.90 180.19,24.13 179.94,23.37 179.70,22.61 179.45,21.85 179.20,21.09 178.96,20.33 178.71,19.57 178.46,18.81 178.22,18.04 177.97,17.28 177.73,16.52 177.48,15.76 177.23,15.00 176.99,14.24 176.74,13.48 176.50,12.72" fill="none" stroke="#ac8290" stroke-width="2.1"/><circle cx="185.8" cy="41.6" r="1.45" fill="#c2bd96" /><circle cx="183.9" cy="35.6" r="1.45" fill="#c2bd96" /><circle cx="181.9" cy="29.5" r="1.45" fill="#c2bd96" /><circle cx="179.9" cy="23.4" r="1.45" fill="#c2bd96" /><circle cx="178.0" cy="17.3" r="1.45" fill="#c2bd96" /><polyline points="196.40,63.30 196.13,62.54 195.86,61.79 195.60,61.03 195.33,60.28 195.06,59.53 194.79,58.77 194.52,58.02 194.25,57.27 193.99,56.51 193.72,55.76 193.45,55.00 193.18,54.25 192.91,53.50 192.65,52.74 192.38,51.99 192.11,51.24 191.84,50.48 191.57,49.73 191.31,48.97 191.04,48.22 190.77,47.47 190.50,46.71 190.23,45.96" fill="none" stroke="#34467c" stroke-width="1.8" stroke-opacity="0.8"/><circle cx="196.4" cy="63.3" r="1.15" fill="#4258a4" /><circle cx="195.3" cy="60.3" r="1.15" fill="#2a664e" /><circle cx="194.3" cy="57.3" r="1.15" fill="#4258a4" /><circle cx="193.2" cy="54.3" r="1.15" fill="#2a664e" /><circle cx="192.1" cy="51.2" r="1.15" fill="#4258a4" /><circle cx="191.0" cy="48.2" r="1.15" fill="#2a664e" /><polyline points="189.96,45.21 189.70,44.45 189.43,43.70 189.16,42.95 188.89,42.19 188.62,41.44 188.36,40.68 188.09,39.93 187.82,39.18 187.55,38.42 187.28,37.67 187.02,36.92 186.75,36.16 186.48,35.41 186.21,34.65 185.94,33.90 185.67,33.15 185.41,32.39 185.14,31.64 184.87,30.89 184.60,30.13 184.33,29.38 184.07,28.62 183.80,27.87 183.53,27.12 183.26,26.36 182.99,25.61 182.72,24.86 182.46,24.10 182.19,23.35 181.92,22.59 181.65,21.84 181.38,21.09 181.12,20.33 180.85,19.58 180.58,18.83 180.31,18.07 180.04,17.32 179.78,16.56 179.51,15.81 179.24,15.06 178.97,14.30 178.70,13.55" fill="none" stroke="#ac8290" stroke-width="2.1"/><circle cx="188.9" cy="42.2" r="1.45" fill="#c2bd96" /><circle cx="186.7" cy="36.2" r="1.45" fill="#c2bd96" /><circle cx="184.6" cy="30.1" r="1.45" fill="#c2bd96" /><circle cx="182.5" cy="24.1" r="1.45" fill="#c2bd96" /><circle cx="180.3" cy="18.1" r="1.45" fill="#c2bd96" /><polyline points="200.80,65.87 200.51,65.12 200.22,64.38 199.93,63.63 199.64,62.89 199.35,62.14 199.06,61.39 198.77,60.65 198.48,59.90 198.19,59.16 197.90,58.41 197.61,57.67 197.32,56.92 197.03,56.17 196.74,55.43 196.45,54.68 196.16,53.94 195.87,53.19 195.58,52.45 195.29,51.70 195.00,50.96 194.71,50.21 194.42,49.46 194.13,48.72 193.84,47.97" fill="none" stroke="#34467c" stroke-width="1.8" stroke-opacity="0.8"/><circle cx="200.8" cy="65.9" r="1.15" fill="#2a664e" /><circle cx="199.6" cy="62.9" r="1.15" fill="#4258a4" /><circle cx="198.5" cy="59.9" r="1.15" fill="#2a664e" /><circle cx="197.3" cy="56.9" r="1.15" fill="#4258a4" /><circle cx="196.2" cy="53.9" r="1.15" fill="#2a664e" /><circle cx="195.0" cy="51.0" r="1.15" fill="#4258a4" /><circle cx="193.8" cy="48.0" r="1.15" fill="#2a664e" /><polyline points="193.55,47.23 193.26,46.48 192.97,45.74 192.68,44.99 192.39,44.25 192.10,43.50 191.81,42.75 191.52,42.01 191.23,41.26 190.94,40.52 190.65,39.77 190.36,39.03 190.07,38.28 189.78,37.53 189.49,36.79 189.20,36.04 188.91,35.30 188.62,34.55 188.33,33.81 188.04,33.06 187.75,32.32 187.46,31.57 187.17,30.82 186.88,30.08 186.59,29.33 186.30,28.59 186.01,27.84 185.72,27.10 185.43,26.35 185.14,25.61 184.85,24.86 184.56,24.11 184.27,23.37 183.98,22.62 183.69,21.88 183.40,21.13 183.11,20.39 182.82,19.64 182.53,18.89 182.24,18.15 181.95,17.40 181.66,16.66 181.37,15.91 181.08,15.17 180.79,14.42" fill="none" stroke="#ac8290" stroke-width="2.1"/><circle cx="191.8" cy="42.8" r="1.45" fill="#c2bd96" /><circle cx="189.5" cy="36.8" r="1.45" fill="#c2bd96" /><circle cx="187.2" cy="30.8" r="1.45" fill="#c2bd96" /><circle cx="184.9" cy="24.9" r="1.45" fill="#c2bd96" /><circle cx="182.5" cy="18.9" r="1.45" fill="#c2bd96" /><polyline points="205.20,67.36 204.89,66.62 204.58,65.88 204.27,65.15 203.95,64.41 203.64,63.67 203.33,62.94 203.02,62.20 202.71,61.46 202.40,60.73 202.08,59.99 201.77,59.25 201.46,58.52 201.15,57.78 200.84,57.04 200.53,56.30 200.22,55.57 199.90,54.83 199.59,54.09 199.28,53.36 198.97,52.62 198.66,51.88 198.35,51.15 198.03,50.41 197.72,49.67 197.41,48.94" fill="none" stroke="#34467c" stroke-width="1.8" stroke-opacity="0.8"/><circle cx="205.2" cy="67.4" r="1.15" fill="#4258a4" /><circle cx="204.0" cy="64.4" r="1.15" fill="#2a664e" /><circle cx="202.7" cy="61.5" r="1.15" fill="#4258a4" /><circle cx="201.5" cy="58.5" r="1.15" fill="#2a664e" /><circle cx="200.2" cy="55.6" r="1.15" fill="#4258a4" /><circle cx="199.0" cy="52.6" r="1.15" fill="#2a664e" /><circle cx="197.7" cy="49.7" r="1.15" fill="#4258a4" /><polyline points="197.10,48.20 196.79,47.46 196.48,46.73 196.17,45.99 195.85,45.25 195.54,44.51 195.23,43.78 194.92,43.04 194.61,42.30 194.30,41.57 193.98,40.83 193.67,40.09 193.36,39.36 193.05,38.62 192.74,37.88 192.43,37.15 192.12,36.41 191.80,35.67 191.49,34.94 191.18,34.20 190.87,33.46 190.56,32.73 190.25,31.99 189.94,31.25 189.62,30.51 189.31,29.78 189.00,29.04 188.69,28.30 188.38,27.57 188.07,26.83 187.75,26.09 187.44,25.36 187.13,24.62 186.82,23.88 186.51,23.15 186.20,22.41 185.89,21.67 185.57,20.94 185.26,20.20 184.95,19.46 184.64,18.73 184.33,17.99 184.02,17.25 183.70,16.51 183.39,15.78" fill="none" stroke="#ac8290" stroke-width="2.1"/><circle cx="197.1" cy="48.2" r="1.45" fill="#c2bd96" /><circle cx="194.6" cy="42.3" r="1.45" fill="#c2bd96" /><circle cx="192.1" cy="36.4" r="1.45" fill="#c2bd96" /><circle cx="189.6" cy="30.5" r="1.45" fill="#c2bd96" /><circle cx="187.1" cy="24.6" r="1.45" fill="#c2bd96" /><circle cx="184.6" cy="18.7" r="1.45" fill="#c2bd96" /><polyline points="209.60,68.85 209.27,68.12 208.93,67.39 208.60,66.66 208.27,65.94 207.94,65.21 207.60,64.48 207.27,63.75 206.94,63.03 206.60,62.30 206.27,61.57 205.94,60.84 205.61,60.12 205.27,59.39 204.94,58.66 204.61,57.93 204.27,57.21 203.94,56.48 203.61,55.75 203.28,55.02 202.94,54.30 202.61,53.57 202.28,52.84 201.94,52.11 201.61,51.39 201.28,50.66" fill="none" stroke="#34467c" stroke-width="1.8" stroke-opacity="0.8"/><circle cx="209.6" cy="68.8" r="1.15" fill="#2a664e" /><circle cx="208.3" cy="65.9" r="1.15" fill="#4258a4" /><circle cx="206.9" cy="63.0" r="1.15" fill="#2a664e" /><circle cx="205.6" cy="60.1" r="1.15" fill="#4258a4" /><circle cx="204.3" cy="57.2" r="1.15" fill="#2a664e" /><circle cx="202.9" cy="54.3" r="1.15" fill="#4258a4" /><circle cx="201.6" cy="51.4" r="1.15" fill="#2a664e" /><polyline points="200.95,49.93 200.61,49.21 200.28,48.48 199.95,47.75 199.61,47.02 199.28,46.30 198.95,45.57 198.62,44.84 198.28,44.11 197.95,43.39 197.62,42.66 197.29,41.93 196.95,41.20 196.62,40.48 196.29,39.75 195.95,39.02 195.62,38.29 195.29,37.57 194.96,36.84 194.62,36.11 194.29,35.38 193.96,34.66 193.62,33.93 193.29,33.20 192.96,32.47 192.63,31.75 192.29,31.02 191.96,30.29 191.63,29.56 191.29,28.84 190.96,28.11 190.63,27.38 190.30,26.65 189.96,25.93 189.63,25.20 189.30,24.47 188.96,23.74 188.63,23.02 188.30,22.29 187.97,21.56 187.63,20.83 187.30,20.11 186.97,19.38 186.63,18.65 186.30,17.92 185.97,17.20" fill="none" stroke="#ac8290" stroke-width="2.1"/><circle cx="199.9" cy="47.8" r="1.45" fill="#c2bd96" /><circle cx="197.3" cy="41.9" r="1.45" fill="#c2bd96" /><circle cx="194.6" cy="36.1" r="1.45" fill="#c2bd96" /><circle cx="192.0" cy="30.3" r="1.45" fill="#c2bd96" /><circle cx="189.3" cy="24.5" r="1.45" fill="#c2bd96" /><polyline points="214.00,70.34 213.65,69.62 213.29,68.90 212.94,68.18 212.58,67.47 212.23,66.75 211.88,66.03 211.52,65.31 211.17,64.60 210.82,63.88 210.46,63.16 210.11,62.44 209.75,61.73 209.40,61.01 209.05,60.29 208.69,59.57 208.34,58.86 207.98,58.14 207.63,57.42 207.28,56.70 206.92,55.99 206.57,55.27 206.21,54.55 205.86,53.83 205.51,53.12 205.15,52.40" fill="none" stroke="#34467c" stroke-width="1.8" stroke-opacity="0.8"/><circle cx="214.0" cy="70.3" r="1.15" fill="#4258a4" /><circle cx="212.6" cy="67.5" r="1.15" fill="#2a664e" /><circle cx="211.2" cy="64.6" r="1.15" fill="#4258a4" /><circle cx="209.8" cy="61.7" r="1.15" fill="#2a664e" /><circle cx="208.3" cy="58.9" r="1.15" fill="#4258a4" /><circle cx="206.9" cy="56.0" r="1.15" fill="#2a664e" /><circle cx="205.5" cy="53.1" r="1.15" fill="#4258a4" /><polyline points="204.80,51.68 204.45,50.96 204.09,50.25 203.74,49.53 203.38,48.81 203.03,48.09 202.68,47.38 202.32,46.66 201.97,45.94 201.61,45.22 201.26,44.51 200.91,43.79 200.55,43.07 200.20,42.35 199.85,41.64 199.49,40.92 199.14,40.20 198.78,39.48 198.43,38.77 198.08,38.05 197.72,37.33 197.37,36.61 197.01,35.90 196.66,35.18 196.31,34.46 195.95,33.74 195.60,33.03 195.25,32.31 194.89,31.59 194.54,30.87 194.18,30.16 193.83,29.44 193.48,28.72 193.12,28.01 192.77,27.29 192.41,26.57 192.06,25.85 191.71,25.14 191.35,24.42 191.00,23.70 190.64,22.98 190.29,22.27 189.94,21.55 189.58,20.83 189.23,20.11 188.88,19.40 188.52,18.68" fill="none" stroke="#ac8290" stroke-width="2.1"/><circle cx="202.7" cy="47.4" r="1.45" fill="#c2bd96" /><circle cx="199.8" cy="41.6" r="1.45" fill="#c2bd96" /><circle cx="197.0" cy="35.9" r="1.45" fill="#c2bd96" /><circle cx="194.2" cy="30.2" r="1.45" fill="#c2bd96" /><circle cx="191.4" cy="24.4" r="1.45" fill="#c2bd96" /><polyline points="218.40,71.83 218.03,71.12 217.65,70.41 217.28,69.71 216.90,69.00 216.53,68.29 216.15,67.58 215.78,66.88 215.40,66.17 215.03,65.46 214.65,64.76 214.28,64.05 213.90,63.34 213.53,62.64 213.16,61.93 212.78,61.22 212.41,60.52 212.03,59.81 211.66,59.10 211.28,58.40 210.91,57.69 210.53,56.98 210.16,56.27 209.78,55.57 209.41,54.86 209.04,54.15 208.66,53.45" fill="none" stroke="#34467c" stroke-width="1.8" stroke-opacity="0.8"/><circle cx="218.4" cy="71.8" r="1.15" fill="#2a664e" /><circle cx="216.9" cy="69.0" r="1.15" fill="#4258a4" /><circle cx="215.4" cy="66.2" r="1.15" fill="#2a664e" /><circle cx="213.9" cy="63.3" r="1.15" fill="#4258a4" /><circle cx="212.4" cy="60.5" r="1.15" fill="#2a664e" /><circle cx="210.9" cy="57.7" r="1.15" fill="#4258a4" /><circle cx="209.4" cy="54.9" r="1.15" fill="#2a664e" /><polyline points="208.29,52.74 207.91,52.03 207.54,51.33 207.16,50.62 206.79,49.91 206.41,49.21 206.04,48.50 205.66,47.79 205.29,47.09 204.91,46.38 204.54,45.67 204.17,44.96 203.79,44.26 203.42,43.55 203.04,42.84 202.67,42.14 202.29,41.43 201.92,40.72 201.54,40.02 201.17,39.31 200.79,38.60 200.42,37.90 200.05,37.19 199.67,36.48 199.30,35.78 198.92,35.07 198.55,34.36 198.17,33.65 197.80,32.95 197.42,32.24 197.05,31.53 196.67,30.83 196.30,30.12 195.92,29.41 195.55,28.71 195.18,28.00 194.80,27.29 194.43,26.59 194.05,25.88 193.68,25.17 193.30,24.46 192.93,23.76 192.55,23.05 192.18,22.34 191.80,21.64 191.43,20.93 191.05,20.22 190.68,19.52" fill="none" stroke="#ac8290" stroke-width="2.1"/><circle cx="208.3" cy="52.7" r="1.45" fill="#c2bd96" /><circle cx="205.3" cy="47.1" r="1.45" fill="#c2bd96" /><circle cx="202.3" cy="41.4" r="1.45" fill="#c2bd96" /><circle cx="199.3" cy="35.8" r="1.45" fill="#c2bd96" /><circle cx="196.3" cy="30.1" r="1.45" fill="#c2bd96" /><circle cx="193.3" cy="24.5" r="1.45" fill="#c2bd96" /><polyline points="222.80,72.53 222.40,71.83 222.01,71.14 221.61,70.44 221.22,69.75 220.82,69.05 220.43,68.36 220.03,67.66 219.64,66.96 219.24,66.27 218.85,65.57 218.45,64.88 218.06,64.18 217.66,63.49 217.27,62.79 216.87,62.09 216.48,61.40 216.08,60.70 215.69,60.01 215.29,59.31 214.90,58.62 214.50,57.92 214.11,57.22 213.71,56.53 213.32,55.83 212.92,55.14 212.53,54.44" fill="none" stroke="#34467c" stroke-width="1.8" stroke-opacity="0.8"/><circle cx="222.8" cy="72.5" r="1.15" fill="#4258a4" /><circle cx="221.2" cy="69.7" r="1.15" fill="#2a664e" /><circle cx="219.6" cy="67.0" r="1.15" fill="#4258a4" /><circle cx="218.1" cy="64.2" r="1.15" fill="#2a664e" /><circle cx="216.5" cy="61.4" r="1.15" fill="#4258a4" /><circle cx="214.9" cy="58.6" r="1.15" fill="#2a664e" /><circle cx="213.3" cy="55.8" r="1.15" fill="#4258a4" /><polyline points="212.13,53.75 211.74,53.05 211.34,52.35 210.95,51.66 210.55,50.96 210.16,50.27 209.76,49.57 209.37,48.88 208.97,48.18 208.58,47.49 208.18,46.79 207.79,46.09 207.39,45.40 207.00,44.70 206.60,44.01 206.21,43.31 205.81,42.62 205.42,41.92 205.02,41.22 204.63,40.53 204.23,39.83 203.84,39.14 203.44,38.44 203.05,37.75 202.65,37.05 202.26,36.35 201.86,35.66 201.47,34.96 201.07,34.27 200.68,33.57 200.28,32.88 199.89,32.18 199.49,31.48 199.10,30.79 198.70,30.09 198.31,29.40 197.91,28.70 197.52,28.01 197.12,27.31 196.73,26.61 196.33,25.92 195.94,25.22 195.54,24.53 195.15,23.83 194.75,23.14 194.36,22.44 193.96,21.74 193.57,21.05" fill="none" stroke="#ac8290" stroke-width="2.1"/><circle cx="210.9" cy="51.7" r="1.45" fill="#c2bd96" /><circle cx="207.8" cy="46.1" r="1.45" fill="#c2bd96" /><circle cx="204.6" cy="40.5" r="1.45" fill="#c2bd96" /><circle cx="201.5" cy="35.0" r="1.45" fill="#c2bd96" /><circle cx="198.3" cy="29.4" r="1.45" fill="#c2bd96" /><circle cx="195.1" cy="23.8" r="1.45" fill="#c2bd96" /><polyline points="227.20,72.87 226.78,72.18 226.37,71.50 225.95,70.81 225.54,70.13 225.12,69.45 224.71,68.76 224.29,68.08 223.88,67.40 223.46,66.71 223.05,66.03 222.63,65.34 222.22,64.66 221.80,63.98 221.39,63.29 220.97,62.61 220.56,61.92 220.14,61.24 219.73,60.56 219.31,59.87 218.90,59.19 218.48,58.50 218.07,57.82 217.65,57.14 217.24,56.45 216.82,55.77 216.41,55.09" fill="none" stroke="#34467c" stroke-width="1.8" stroke-opacity="0.8"/><circle cx="227.2" cy="72.9" r="1.15" fill="#2a664e" /><circle cx="225.5" cy="70.1" r="1.15" fill="#4258a4" /><circle cx="223.9" cy="67.4" r="1.15" fill="#2a664e" /><circle cx="222.2" cy="64.7" r="1.15" fill="#4258a4" /><circle cx="220.6" cy="61.9" r="1.15" fill="#2a664e" /><circle cx="218.9" cy="59.2" r="1.15" fill="#4258a4" /><circle cx="217.2" cy="56.5" r="1.15" fill="#2a664e" /><polyline points="215.99,54.40 215.58,53.72 215.16,53.03 214.75,52.35 214.33,51.67 213.92,50.98 213.50,50.30 213.09,49.61 212.67,48.93 212.26,48.25 211.84,47.56 211.43,46.88 211.01,46.19 210.60,45.51 210.18,44.83 209.77,44.14 209.35,43.46 208.94,42.78 208.52,42.09 208.11,41.41 207.69,40.72 207.28,40.04 206.86,39.36 206.45,38.67 206.03,37.99 205.62,37.30 205.20,36.62 204.79,35.94 204.37,35.25 203.96,34.57 203.54,33.88 203.13,33.20 202.71,32.52 202.30,31.83 201.88,31.15 201.47,30.47 201.05,29.78 200.64,29.10 200.22,28.41 199.81,27.73 199.39,27.05 198.97,26.36 198.56,25.68 198.14,24.99 197.73,24.31 197.31,23.63 196.90,22.94 196.48,22.26" fill="none" stroke="#ac8290" stroke-width="2.1"/><circle cx="213.5" cy="50.3" r="1.45" fill="#c2bd96" /><circle cx="210.2" cy="44.8" r="1.45" fill="#c2bd96" /><circle cx="206.9" cy="39.4" r="1.45" fill="#c2bd96" /><circle cx="203.5" cy="33.9" r="1.45" fill="#c2bd96" /><circle cx="200.2" cy="28.4" r="1.45" fill="#c2bd96" /><polyline points="231.60,73.20 231.17,72.53 230.73,71.86 230.30,71.19 229.86,70.52 229.43,69.85 228.99,69.17 228.56,68.50 228.12,67.83 227.69,67.16 227.25,66.49 226.82,65.82 226.38,65.15 225.95,64.47 225.51,63.80 225.08,63.13 224.64,62.46 224.21,61.79 223.77,61.12 223.34,60.44 222.90,59.77 222.47,59.10 222.03,58.43 221.60,57.76 221.16,57.09 220.73,56.42 220.30,55.74" fill="none" stroke="#34467c" stroke-width="1.8" stroke-opacity="0.8"/><circle cx="231.6" cy="73.2" r="1.15" fill="#4258a4" /><circle cx="229.9" cy="70.5" r="1.15" fill="#2a664e" /><circle cx="228.1" cy="67.8" r="1.15" fill="#4258a4" /><circle cx="226.4" cy="65.1" r="1.15" fill="#2a664e" /><circle cx="224.6" cy="62.5" r="1.15" fill="#4258a4" /><circle cx="222.9" cy="59.8" r="1.15" fill="#2a664e" /><circle cx="221.2" cy="57.1" r="1.15" fill="#4258a4" /><polyline points="219.86,55.07 219.43,54.40 218.99,53.73 218.56,53.06 218.12,52.39 217.69,51.71 217.25,51.04 216.82,50.37 216.38,49.70 215.95,49.03 215.51,48.36 215.08,47.69 214.64,47.01 214.21,46.34 213.77,45.67 213.34,45.00 212.90,44.33 212.47,43.66 212.03,42.98 211.60,42.31 211.16,41.64 210.73,40.97 210.29,40.30 209.86,39.63 209.43,38.96 208.99,38.28 208.56,37.61 208.12,36.94 207.69,36.27 207.25,35.60 206.82,34.93 206.38,34.25 205.95,33.58 205.51,32.91 205.08,32.24 204.64,31.57 204.21,30.90 203.77,30.23 203.34,29.55 202.90,28.88 202.47,28.21 202.03,27.54 201.60,26.87 201.16,26.20 200.73,25.53 200.29,24.85 199.86,24.18" fill="none" stroke="#ac8290" stroke-width="2.1"/><circle cx="219.4" cy="54.4" r="1.45" fill="#c2bd96" /><circle cx="215.9" cy="49.0" r="1.45" fill="#c2bd96" /><circle cx="212.5" cy="43.7" r="1.45" fill="#c2bd96" /><circle cx="209.0" cy="38.3" r="1.45" fill="#c2bd96" /><circle cx="205.5" cy="32.9" r="1.45" fill="#c2bd96" /><circle cx="202.0" cy="27.5" r="1.45" fill="#c2bd96" /><polyline points="236.00,73.54 235.55,72.88 235.09,72.22 234.64,71.56 234.18,70.91 233.73,70.25 233.28,69.59 232.82,68.93 232.37,68.27 231.91,67.61 231.46,66.95 231.00,66.30 230.55,65.64 230.10,64.98 229.64,64.32 229.19,63.66 228.73,63.00 228.28,62.34 227.83,61.69 227.37,61.03 226.92,60.37 226.46,59.71 226.01,59.05 225.55,58.39 225.10,57.73 224.65,57.08 224.19,56.42" fill="none" stroke="#34467c" stroke-width="1.8" stroke-opacity="0.8"/><circle cx="236.0" cy="73.5" r="1.15" fill="#2a664e" /><circle cx="234.2" cy="70.9" r="1.15" fill="#4258a4" /><circle cx="232.4" cy="68.3" r="1.15" fill="#2a664e" /><circle cx="230.6" cy="65.6" r="1.15" fill="#4258a4" /><circle cx="228.7" cy="63.0" r="1.15" fill="#2a664e" /><circle cx="226.9" cy="60.4" r="1.15" fill="#4258a4" /><circle cx="225.1" cy="57.7" r="1.15" fill="#2a664e" /><polyline points="223.74,55.76 223.28,55.10 222.83,54.44 222.38,53.78 221.92,53.12 221.47,52.47 221.01,51.81 220.56,51.15 220.10,50.49 219.65,49.83 219.20,49.17 218.74,48.51 218.29,47.86 217.83,47.20 217.38,46.54 216.93,45.88 216.47,45.22 216.02,44.56 215.56,43.90 215.11,43.25 214.65,42.59 214.20,41.93 213.75,41.27 213.29,40.61 212.84,39.95 212.38,39.29 211.93,38.64 211.48,37.98 211.02,37.32 210.57,36.66 210.11,36.00 209.66,35.34 209.20,34.68 208.75,34.02 208.30,33.37 207.84,32.71 207.39,32.05 206.93,31.39 206.48,30.73 206.03,30.07 205.57,29.41 205.12,28.76 204.66,28.10 204.21,27.44 203.76,26.78 203.30,26.12 202.85,25.46" fill="none" stroke="#ac8290" stroke-width="2.1"/><circle cx="221.9" cy="53.1" r="1.45" fill="#c2bd96" /><circle cx="218.3" cy="47.9" r="1.45" fill="#c2bd96" /><circle cx="214.7" cy="42.6" r="1.45" fill="#c2bd96" /><circle cx="211.0" cy="37.3" r="1.45" fill="#c2bd96" /><circle cx="207.4" cy="32.0" r="1.45" fill="#c2bd96" /><polyline points="240.40,73.88 239.93,73.23 239.45,72.59 238.98,71.94 238.51,71.30 238.03,70.65 237.56,70.01 237.09,69.36 236.62,68.72 236.14,68.07 235.67,67.43 235.20,66.78 234.72,66.14 234.25,65.49 233.78,64.85 233.30,64.20 232.83,63.56 232.36,62.91 231.88,62.27 231.41,61.62 230.94,60.98 230.46,60.33 229.99,59.69 229.52,59.04 229.05,58.40 228.57,57.75" fill="none" stroke="#34467c" stroke-width="1.8" stroke-opacity="0.8"/><circle cx="240.4" cy="73.9" r="1.15" fill="#4258a4" /><circle cx="238.5" cy="71.3" r="1.15" fill="#2a664e" /><circle cx="236.6" cy="68.7" r="1.15" fill="#4258a4" /><circle cx="234.7" cy="66.1" r="1.15" fill="#2a664e" /><circle cx="232.8" cy="63.6" r="1.15" fill="#4258a4" /><circle cx="230.9" cy="61.0" r="1.15" fill="#2a664e" /><circle cx="229.0" cy="58.4" r="1.15" fill="#4258a4" /><polyline points="228.10,57.10 227.63,56.46 227.15,55.81 226.68,55.17 226.21,54.52 225.73,53.88 225.26,53.23 224.79,52.59 224.31,51.94 223.84,51.30 223.37,50.65 222.89,50.01 222.42,49.36 221.95,48.72 221.48,48.07 221.00,47.43 220.53,46.78 220.06,46.14 219.58,45.49 219.11,44.85 218.64,44.20 218.16,43.56 217.69,42.91 217.22,42.27 216.74,41.62 216.27,40.98 215.80,40.33 215.32,39.69 214.85,39.04 214.38,38.40 213.91,37.75 213.43,37.11 212.96,36.46 212.49,35.82 212.01,35.17 211.54,34.53 211.07,33.88 210.59,33.24 210.12,32.59 209.65,31.95 209.17,31.30 208.70,30.66 208.23,30.01 207.75,29.37 207.28,28.72 206.81,28.08 206.34,27.43" fill="none" stroke="#ac8290" stroke-width="2.1"/><circle cx="228.1" cy="57.1" r="1.45" fill="#c2bd96" /><circle cx="224.3" cy="51.9" r="1.45" fill="#c2bd96" /><circle cx="220.5" cy="46.8" r="1.45" fill="#c2bd96" /><circle cx="216.7" cy="41.6" r="1.45" fill="#c2bd96" /><circle cx="213.0" cy="36.5" r="1.45" fill="#c2bd96" /><circle cx="209.2" cy="31.3" r="1.45" fill="#c2bd96" /><polyline points="244.80,74.00 244.31,73.37 243.82,72.74 243.32,72.11 242.83,71.48 242.34,70.84 241.85,70.21 241.36,69.58 240.87,68.95 240.37,68.32 239.88,67.69 239.39,67.06 238.90,66.43 238.41,65.80 237.92,65.17 237.42,64.53 236.93,63.90 236.44,63.27 235.95,62.64 235.46,62.01 234.97,61.38 234.47,60.75 233.98,60.12 233.49,59.49 233.00,58.85 232.51,58.22" fill="none" stroke="#34467c" stroke-width="1.8" stroke-opacity="0.8"/><circle cx="244.8" cy="74.0" r="1.15" fill="#2a664e" /><circle cx="242.8" cy="71.5" r="1.15" fill="#4258a4" /><circle cx="240.9" cy="69.0" r="1.15" fill="#2a664e" /><circle cx="238.9" cy="66.4" r="1.15" fill="#4258a4" /><circle cx="236.9" cy="63.9" r="1.15" fill="#2a664e" /><circle cx="235.0" cy="61.4" r="1.15" fill="#4258a4" /><circle cx="233.0" cy="58.9" r="1.15" fill="#2a664e" /><polyline points="232.02,57.59 231.52,56.96 231.03,56.33 230.54,55.70 230.05,55.07 229.56,54.44 229.07,53.81 228.57,53.18 228.08,52.54 227.59,51.91 227.10,51.28 226.61,50.65 226.12,50.02 225.62,49.39 225.13,48.76 224.64,48.13 224.15,47.50 223.66,46.86 223.17,46.23 222.67,45.60 222.18,44.97 221.69,44.34 221.20,43.71 220.71,43.08 220.22,42.45 219.72,41.82 219.23,41.18 218.74,40.55 218.25,39.92 217.76,39.29 217.27,38.66 216.77,38.03 216.28,37.40 215.79,36.77 215.30,36.14 214.81,35.51 214.31,34.87 213.82,34.24 213.33,33.61 212.84,32.98 212.35,32.35 211.86,31.72 211.36,31.09 210.87,30.46 210.38,29.83" fill="none" stroke="#ac8290" stroke-width="2.1"/><circle cx="230.5" cy="55.7" r="1.45" fill="#c2bd96" /><circle cx="226.6" cy="50.7" r="1.45" fill="#c2bd96" /><circle cx="222.7" cy="45.6" r="1.45" fill="#c2bd96" /><circle cx="218.7" cy="40.6" r="1.45" fill="#c2bd96" /><circle cx="214.8" cy="35.5" r="1.45" fill="#c2bd96" /><polyline points="245.00,68.62 244.51,67.99 244.01,67.36 243.52,66.73 243.03,66.10 242.54,65.47 242.04,64.84 241.55,64.21 241.06,63.58 240.57,62.95 240.07,62.32 239.58,61.69 239.09,61.06 238.60,60.43 238.10,59.80 237.61,59.17 237.12,58.54 236.63,57.91 236.13,57.28 235.64,56.65" fill="none" stroke="#34467c" stroke-width="1.8" stroke-opacity="0.8"/><circle cx="245.0" cy="68.6" r="1.15" fill="#4258a4" /><circle cx="243.0" cy="66.1" r="1.15" fill="#2a664e" /><circle cx="241.1" cy="63.6" r="1.15" fill="#4258a4" /><circle cx="239.1" cy="61.1" r="1.15" fill="#2a664e" /><circle cx="237.1" cy="58.5" r="1.15" fill="#4258a4" /><polyline points="235.15,56.02 234.66,55.39 234.16,54.76 233.67,54.12 233.18,53.49 232.69,52.86 232.19,52.23 231.70,51.60 231.21,50.97 230.72,50.34 230.22,49.71 229.73,49.08 229.24,48.45 228.75,47.82 228.25,47.19 227.76,46.56 227.27,45.93 226.78,45.30 226.28,44.67 225.79,44.04 225.30,43.41 224.81,42.78 224.31,42.15 223.82,41.52 223.33,40.89 222.84,40.26 222.34,39.63 221.85,39.00 221.36,38.36 220.87,37.73 220.37,37.10 219.88,36.47 219.39,35.84 218.90,35.21 218.40,34.58" fill="none" stroke="#ac8290" stroke-width="2.1"/><circle cx="233.2" cy="53.5" r="1.45" fill="#c2bd96" /><circle cx="229.2" cy="48.5" r="1.45" fill="#c2bd96" /><circle cx="225.3" cy="43.4" r="1.45" fill="#c2bd96" /><circle cx="221.4" cy="38.4" r="1.45" fill="#c2bd96" /><polyline points="245.00,62.99 244.51,62.36 244.01,61.73 243.52,61.10 243.03,60.47 242.54,59.84 242.04,59.21 241.55,58.58 241.06,57.95 240.57,57.32 240.07,56.69 239.58,56.06 239.09,55.43" fill="none" stroke="#34467c" stroke-width="1.8" stroke-opacity="0.8"/><circle cx="245.0" cy="63.0" r="1.15" fill="#2a664e" /><circle cx="243.0" cy="60.5" r="1.15" fill="#4258a4" /><circle cx="241.1" cy="57.9" r="1.15" fill="#2a664e" /><circle cx="239.1" cy="55.4" r="1.15" fill="#4258a4" /><polyline points="238.60,54.80 238.10,54.17 237.61,53.54 237.12,52.91 236.63,52.28 236.13,51.65 235.64,51.01 235.15,50.38 234.66,49.75 234.16,49.12 233.67,48.49 233.18,47.86 232.69,47.23 232.19,46.60 231.70,45.97 231.21,45.34 230.72,44.71 230.22,44.08 229.73,43.45 229.24,42.82 228.75,42.19 228.25,41.56 227.76,40.93" fill="none" stroke="#ac8290" stroke-width="2.1"/><circle cx="235.6" cy="51.0" r="1.45" fill="#c2bd96" /><circle cx="231.7" cy="46.0" r="1.45" fill="#c2bd96" /><polyline points="245.00,57.36 244.51,56.73 244.01,56.10 243.52,55.47 243.03,54.84" fill="none" stroke="#34467c" stroke-width="1.8" stroke-opacity="0.8"/><circle cx="245.0" cy="57.4" r="1.15" fill="#4258a4" /><circle cx="243.0" cy="54.8" r="1.15" fill="#2a664e" /><polyline points="242.54,54.21 242.04,53.58 241.55,52.95 241.06,52.32 240.57,51.69 240.07,51.06 239.58,50.43 239.09,49.80" fill="none" stroke="#ac8290" stroke-width="2.1"/><circle cx="242.0" cy="53.6" r="1.45" fill="#c2bd96" /></g><polygon points="2.3,79.6 2.3,63.9 31.5,44.2 45.5,41.0 48.5,36.8 51.5,31.5 55.0,28.5 59.2,26.5 66.2,20.8 77.7,20.4 77.9,37.5 70.0,40.5 62.0,44.0 57.9,46.4 53.6,52.1 49.3,59.3 43.6,66.4 39.3,72.1 38.6,80.0" fill="#c6c2b1" /><polygon points="2.3,63.9 31.5,44.2 45.5,41.0 48.5,36.8 51.5,31.5 55.0,28.5 59.2,26.5 67.3,29.6 67.3,42.5 62.0,44.0 57.9,46.4 53.6,52.1 49.3,59.3 45.0,64.0 36.9,58.8 29.2,63.5" fill="#d3d0c3" /><polygon points="2.3,63.9 29.2,63.5 29.2,79.6 2.3,79.6" fill="url(#gBeigeF)" /><polygon points="29.2,63.5 36.9,58.8 45.0,64.0 43.6,66.4 39.3,72.1 38.6,80.0 29.2,79.6" fill="#cbc7b5" /><polygon points="59.2,26.5 66.2,20.8 77.7,20.4 67.3,29.6" fill="#a7a496" /><polygon points="67.3,29.6 77.7,20.4 77.9,37.5 70.0,40.5 67.3,42.5" fill="#b9b5a5" /><polygon points="62.0,44.0 57.9,46.4 53.6,52.1 49.3,59.3 43.6,66.4 39.3,72.1 38.6,80.0 36.8,80.0 37.6,71.0 42.0,64.0 47.5,57.0 52.0,50.0 56.5,45.0 61.0,42.6" fill="#b4b09f" /><polygon points="254.2,40.6 300.0,61.2 273.5,61.2 265.8,58.5 262.0,57.5 258.0,54.5 255.7,50.0" fill="#5c5c5e" /><polygon points="223.8,20.4 234.5,29.2 234.9,46.0 223.8,38.0" fill="#b3afa1" /><polygon points="223.8,20.4 233.4,20.0 244.5,28.5 234.5,29.2" fill="#8f8d85" /><polygon points="234.5,29.2 244.5,28.5 248.8,31.9 251.8,38.0 254.2,44.2 255.7,50.0 258.0,54.5 262.0,57.5 265.8,58.5 265.8,79.7 263.0,79.7 263.0,70.0 261.2,66.6 255.0,62.7 250.4,57.3 246.6,50.4 242.0,46.0 234.9,45.0" fill="#c7c3b3" /><polygon points="236.0,30.0 244.5,29.3 248.3,32.5 251.2,38.5 253.4,44.5 255.0,50.0 257.5,55.0 262.0,58.3 265.8,59.3 265.8,63.0 260.0,60.5 254.0,55.0 249.5,48.0 245.0,40.0 240.0,34.0" fill="#d2cfc1" /><polygon points="265.8,58.5 273.5,61.2 273.5,79.7 265.8,79.7" fill="#c2beac" /><polygon points="273.5,61.2 300.0,61.2 300.0,79.7 273.5,79.7" fill="url(#gBeigeF)" /><line x1="2.3" y1="80.8" x2="300" y2="80.8" stroke="#77777a" stroke-width="0.9" /><rect x="128.5" y="44.5" width="38.5" height="6" fill="#2e2e30" /><rect x="130.0" y="44.5" width="1.5" height="6" fill="#555" /><rect x="134.2" y="44.5" width="1.5" height="6" fill="#555" /><rect x="138.4" y="44.5" width="1.5" height="6" fill="#555" /><rect x="142.6" y="44.5" width="1.5" height="6" fill="#555" /><rect x="146.8" y="44.5" width="1.5" height="6" fill="#555" /><rect x="151.0" y="44.5" width="1.5" height="6" fill="#555" /><rect x="155.2" y="44.5" width="1.5" height="6" fill="#555" /><rect x="159.4" y="44.5" width="1.5" height="6" fill="#555" /><rect x="163.6" y="44.5" width="1.5" height="6" fill="#555" /><rect x="128.5" y="50.3" width="38.5" height="25.7" fill="#cbc7b4" /><rect x="128.5" y="50.3" width="38.5" height="1.2" fill="#e2dfd2" /><rect x="128.5" y="74.5" width="38.5" height="1.5" fill="#a8a494" /><rect x="47" y="27.6" width="209.6" height="32.6" fill="none" stroke="#5a74aa" stroke-width="1.2" stroke-dasharray="4,2.5"/><rect x="134" y="13.9" width="26.6" height="11.4" fill="#f4f4f4" fill-opacity="0.92"/><text x="147.3" y="23.2" font-size="9" fill="#111" text-anchor="middle" >WSe<tspan font-size="6.5" dy="1.8">2</tspan></text><rect x="134.3" y="32.6" width="26.7" height="11.9" fill="#f4f4f4" fill-opacity="0.92"/><text x="147.6" y="42.2" font-size="9" fill="#111" text-anchor="middle" ><tspan font-style="italic">h</tspan>-BN</text><line x1="33.9" y1="32.5" x2="33.9" y2="48.7" stroke="#000" stroke-width="1.3" /><circle cx="33.9" cy="32.5" r="2.3" fill="#000" /><line x1="266.6" y1="32.7" x2="266.6" y2="48.9" stroke="#000" stroke-width="1.3" /><circle cx="266.6" cy="32.7" r="2.3" fill="#000" /><line x1="146.7" y1="66.3" x2="146.7" y2="79" stroke="#fff" stroke-width="1.3" /><circle cx="146.7" cy="79.0" r="2.3" fill="#fff" /><text x="23.7" y="25.8" font-size="9.4" fill="#000" textLength="22.3" lengthAdjust="spacingAndGlyphs" >Drain</text><text x="252.4" y="25.8" font-size="9.4" fill="#000" textLength="29.6" lengthAdjust="spacingAndGlyphs" >Source</text><rect x="118.2" y="87" width="57" height="21.3" fill="#151515" /><text x="147.5" y="95.8" font-size="9.6" fill="#fff" text-anchor="middle" >Partially</text><text x="147.4" y="106.3" font-size="9.6" fill="#fff" text-anchor="middle" >defined gate</text><text x="270.2" y="93.2" font-size="9.5" fill="#fff" >SiO<tspan font-size="6.5" dy="1.8">2</tspan></text><text x="275.9" y="108.7" font-size="9.5" fill="#111" >Si</text><g><rect x="306.9" y="5.9" width="139.5" height="107" fill="#5a5275" /><polygon points="306.9,44.0 325.0,42.0 331.6,26.3 340.0,28.0 350.0,26.0 357.0,30.0 363.0,28.0 368.0,31.0 372.0,34.0 380.0,31.0 395.0,23.0 402.0,22.0 405.0,27.0 415.0,19.0 430.0,14.0 440.0,11.0 445.0,12.5 446.4,16.0 440.0,30.0 432.0,45.0 425.0,58.0 417.0,73.0 412.0,80.0 400.0,84.0 380.0,87.0 362.0,89.0 345.0,88.5 335.0,87.0 324.0,79.0 316.0,73.0 306.9,73.0" fill="#aaaaf8" /><polygon points="306.9,44.0 325.0,42.0 322.0,50.0 306.9,50.0" fill="#e489ec" /><polygon points="306.9,45.0 346.0,46.0 372.0,47.0 400.0,47.5 446.4,47.0 446.4,73.0 306.9,73.0" fill="#c07ad8" fill-opacity="0.75"/><rect x="306.9" y="50" width="53.8" height="22.9" rx="3" fill="#fbc6d2"/><rect x="396.4" y="50" width="50" height="22.9" rx="3" fill="#fbc6d2"/><rect x="307" y="50" width="53.8" height="22.9" rx="3" fill="none" stroke="#9a5ab8" stroke-width="0.8" stroke-dasharray="1.6,1.2"/><rect x="396.4" y="50" width="50" height="22.9" rx="3" fill="none" stroke="#9a5ab8" stroke-width="0.8" stroke-dasharray="1.6,1.2"/><rect x="372.6" y="5.9" width="7.3" height="107" fill="#7b5a6c" /><rect x="372.6" y="34" width="7.3" height="16" fill="#4f5a70" /><rect x="372.6" y="50" width="7.3" height="23" fill="#e274e0" /><rect x="372.6" y="73" width="7.3" height="15" fill="#3c4656" /><line x1="372.7" y1="6" x2="372.7" y2="113" stroke="#fff" stroke-width="0.8" stroke-dasharray="1.5,1"/><line x1="379.8" y1="6" x2="379.8" y2="113" stroke="#fff" stroke-width="0.8" stroke-dasharray="1.5,1"/><rect x="338.2" y="11.2" width="27.7" height="12.5" fill="#2a2535" /><text x="352" y="21.3" font-size="9.4" fill="#fff" text-anchor="middle" ><tspan font-style="italic">h</tspan>-BN</text><line x1="364.5" y1="34" x2="354.5" y2="25.5" stroke="#fff" stroke-width="1.1" /><polygon points="352.7,23.7 357.8,25.3 354.8,28.3" fill="#fff" /><rect x="400.3" y="31" width="25.7" height="11.8" fill="#3f3856" fill-opacity="0.9"/><text x="413" y="40.3" font-size="9.4" fill="#fff" text-anchor="middle" >WSe<tspan font-size="6.5" dy="1.8">2</tspan></text><line x1="388" y1="55.5" x2="396" y2="45.2" stroke="#fff" stroke-width="1.1" /><polygon points="397.7,43.5 396.9,48.5 393.5,46.0" fill="#fff" /><rect x="311" y="55.7" width="27.9" height="12.2" fill="#7a5a62" fill-opacity="0.85"/><text x="325" y="64.9" font-size="9.4" fill="#fff" text-anchor="middle" >Drain</text><rect x="410" y="55.3" width="31" height="11.8" fill="#7a5a62" fill-opacity="0.85"/><text x="425.5" y="64.5" font-size="9.4" fill="#fff" text-anchor="middle" >Source</text><line x1="371.5" y1="79.2" x2="364.5" y2="86" stroke="#fff" stroke-width="1.1" /><polygon points="362.9,87.4 364.6,82.5 367.5,85.5" fill="#fff" /><rect x="312" y="88.3" width="55" height="23.7" fill="#1f1c2b" /><text x="339.5" y="98.3" font-size="9.6" fill="#fff" text-anchor="middle" >Partially</text><text x="339.5" y="109.6" font-size="9.6" fill="#fff" text-anchor="middle" >defined gate</text><text x="428.3" y="104.3" font-size="9.4" fill="#fff" text-anchor="middle" >10 μm</text><rect x="417.6" y="107.6" width="20.3" height="2" fill="#fff" /></g><defs>
<radialGradient id="gRed" cx="0.4" cy="0.35" r="0.7"><stop offset="0" stop-color="#e06060"/><stop offset="1" stop-color="#a8141c"/></radialGradient>
<radialGradient id="gBlue" cx="0.4" cy="0.35" r="0.7"><stop offset="0" stop-color="#8a96cc"/><stop offset="1" stop-color="#3e4c90"/></radialGradient>
</defs><circle cx="10.5" cy="120.0" r="3.5" fill="url(#gRed)" /><text x="17.5" y="123.4" font-size="9.4" fill="#000" textLength="99.5" lengthAdjust="spacingAndGlyphs" >Photo-generated electron</text><circle cx="130.3" cy="120.4" r="3.5" fill="url(#gBlue)" /><text x="137.3" y="123.4" font-size="9.4" fill="#000" textLength="141.7" lengthAdjust="spacingAndGlyphs" >Injected and/or photo-generated hole</text><line x1="37.5" y1="74" x2="6.8" y2="127.6" stroke="#9a9a9a" stroke-width="0.6" stroke-dasharray="2,1.2"/><line x1="299.3" y1="74.8" x2="446.3" y2="127.6" stroke="#b8b8c0" stroke-width="0.6" stroke-dasharray="2.5,1.5"/><rect x="7" y="128" width="439.3" height="98.5" fill="none" stroke="#8d9cc2" stroke-width="1.3" stroke-dasharray="4,2.4"/><line x1="226.4" y1="132.5" x2="226.4" y2="223" stroke="#c4c4c4" stroke-width="1" stroke-dasharray="3,2"/><polygon points="111.9,160.7 119.5,160.7 119.5,179.2 124.6,179.2 115.7,190.7 107.3,179.2 111.9,179.2" fill="#cdb9dc" /><line x1="96" y1="140.3" x2="137" y2="140.3" stroke="#c8c8c8" stroke-width="1" stroke-dasharray="2.5,2"/><line x1="96" y1="192.6" x2="137" y2="192.6" stroke="#c8c8c8" stroke-width="1" stroke-dasharray="2.5,2"/><path d="M103,145.4 L124,145.4 A4.8,4.8 0 0 0 124,135.8 L115,135.8" fill="none" stroke="#fcc6c8" stroke-width="4" /><polygon points="110.0,135.8 115.6,131.9 115.6,139.7" fill="#fcc6c8" /><path d="M150.4,198.6 L146,198.6 A4.5,4.5 0 0 0 146,207.6 L153.5,207.6" fill="none" stroke="#bcc2f6" stroke-width="4" /><polygon points="158.5,207.6 153.0,203.8 153.0,211.4" fill="#bcc2f6" /><line x1="85" y1="200.3" x2="50" y2="200.3" stroke="#c4c8f4" stroke-width="1.3" stroke-dasharray="3,2.5"/><polygon points="46.4,200.3 51.0,197.8 51.0,202.8" fill="#c4c8f4" /><line x1="149.5" y1="134.7" x2="174" y2="134.7" stroke="#f8c0c0" stroke-width="1.3" stroke-dasharray="3,2.5"/><polygon points="177.6,134.7 173.0,132.2 173.0,137.2" fill="#f8c0c0" /><path d="M62.2,140.3 L93,140.3 C97.5,140.3 97,156.2 102.7,156.2 L129.6,156.2 C135,156.2 134,140.3 138.5,140.3 L169.6,140.3" fill="none" stroke="#c4141c" stroke-width="1.5" /><path d="M62.2,192.8 L93,192.8 C97.5,192.8 97,208.6 102.7,208.6 L129.6,208.6 C135,208.6 134,192.8 138.5,192.8 L169.6,192.8" fill="none" stroke="#2230b0" stroke-width="1.5" /><path d="M62.2,140.3 C48,140.3 41.5,137.5 41.5,132.6 L41.5,186.3 C41.5,190.5 48,192.8 62.2,192.8" fill="none" stroke="#000" stroke-width="1.5" /><path d="M169.6,140.4 C181,140.4 190.5,141.8 190.5,147.2 L190.5,199.5 M169.6,192.8 C181,192.8 187.5,194.8 190.5,199.5" fill="none" stroke="#000" stroke-width="1.5" /><line x1="23.7" y1="174.6" x2="41.5" y2="174.6" stroke="#000" stroke-width="1.5" /><line x1="190.5" y1="189.3" x2="207.6" y2="189.3" stroke="#000" stroke-width="1.5" /><circle cx="68.3" cy="135.0" r="3.4" fill="url(#gRed)" /><circle cx="85.8" cy="135.0" r="3.4" fill="url(#gRed)" /><circle cx="105.0" cy="151.2" r="3.4" fill="url(#gRed)" /><circle cx="115.4" cy="151.2" r="3.4" fill="url(#gRed)" /><circle cx="126.5" cy="151.2" r="3.4" fill="url(#gRed)" /><circle cx="163.3" cy="134.7" r="3.4" fill="url(#gRed)" /><circle cx="56.4" cy="200.3" r="3.4" fill="url(#gBlue)" /><circle cx="79.7" cy="200.3" r="3.4" fill="url(#gBlue)" /><circle cx="143.1" cy="202.7" r="3.4" fill="url(#gBlue)" /><circle cx="153.3" cy="200.2" r="3.4" fill="url(#gBlue)" /><circle cx="162.9" cy="200.2" r="3.4" fill="url(#gBlue)" /><circle cx="172.4" cy="200.2" r="3.4" fill="url(#gBlue)" /><circle cx="182.3" cy="203.3" r="3.4" fill="url(#gBlue)" /><text x="56" y="153.8" font-size="9" fill="#000" textLength="25.5" lengthAdjust="spacingAndGlyphs" >WSe<tspan font-size="6.5" dy="1.8">2</tspan></text><text x="85.8" y="167.2" font-size="8" fill="#7a4ea0" text-anchor="middle" textLength="42" lengthAdjust="spacingAndGlyphs" >Controllable</text><text x="85.8" y="176.6" font-size="8" fill="#7a4ea0" text-anchor="middle" >potential</text><text x="85.8" y="186" font-size="8" fill="#7a4ea0" text-anchor="middle" >barrier/well</text><text x="160.3" y="152.2" font-size="8" fill="#c4161c" text-anchor="middle" textLength="47.3" lengthAdjust="spacingAndGlyphs" >Potential well</text><text x="160.3" y="162" font-size="8" fill="#c4161c" text-anchor="middle" >for electron</text><text x="160.3" y="182.6" font-size="8" fill="#2b3a8c" text-anchor="middle" >Potential barrier</text><text x="160.3" y="191.4" font-size="8" fill="#2b3a8c" text-anchor="middle" >for hole</text><text x="26.1" y="186" font-size="8.7" fill="#000" text-anchor="middle" textLength="20.6" lengthAdjust="spacingAndGlyphs" >Drain</text><text x="26.1" y="197.4" font-size="8.7" fill="#000" text-anchor="middle" >(<tspan font-style="italic">V</tspan><tspan font-size="6" dy="1.5">D</tspan><tspan dy="-1.5">&lt;0)</tspan></text><text x="195" y="186.3" font-size="8.7" fill="#000" textLength="27.6" lengthAdjust="spacingAndGlyphs" >Source</text><text x="196" y="153.5" font-size="9" fill="#000" ><tspan font-style="italic">E</tspan><tspan font-size="6" dy="1.8">C</tspan></text><text x="196" y="204.2" font-size="9" fill="#000" ><tspan font-style="italic">E</tspan><tspan font-size="6" dy="1.8">V</tspan></text><text x="50" y="222.8" font-size="9.4" fill="#000" textLength="134.6" lengthAdjust="spacingAndGlyphs" >Under positive gate bias (<tspan font-style="italic">V</tspan><tspan font-size="6.5" dy="1.8">G</tspan><tspan dy="-1.8">&gt;0)</tspan></text><polygon points="336.3,149.7 345.2,158.6 340.8,158.6 340.8,180.4 331.7,180.4 331.7,158.6 327.4,158.6" fill="#cdb9dc" /><line x1="319" y1="147.7" x2="352" y2="147.7" stroke="#c8c8c8" stroke-width="1" stroke-dasharray="2.5,2"/><line x1="319" y1="200.8" x2="352" y2="200.8" stroke="#c8c8c8" stroke-width="1" stroke-dasharray="2.5,2"/><path d="M281,141 L301,141 A4.8,4.8 0 0 0 301,131.6 L293,131.6" fill="none" stroke="#fcc6c8" stroke-width="4" /><polygon points="287.8,131.6 293.4,127.7 293.4,135.5" fill="#fcc6c8" /><path d="M336,193.3 L325,193.3 A5.9,5.9 0 0 0 325,205.1 L336.5,205.1" fill="none" stroke="#bcc2f6" stroke-width="4" /><polygon points="341.5,205.1 336.0,201.2 336.0,209.0" fill="#bcc2f6" /><line x1="305" y1="206.1" x2="274" y2="206.1" stroke="#c4c8f4" stroke-width="1.3" stroke-dasharray="3,2.5"/><polygon points="269.5,206.1 274.5,203.6 274.5,208.6" fill="#c4c8f4" /><line x1="370.5" y1="141.6" x2="396" y2="141.6" stroke="#f8c0c0" stroke-width="1.3" stroke-dasharray="3,2.5"/><polygon points="399.5,141.6 395.0,139.1 395.0,144.1" fill="#f8c0c0" /><path d="M282.7,147.7 L313.5,147.7 C318.5,147.7 316.5,131.9 321.5,131.9 L348.5,131.9 C353.5,131.9 352,147.7 357.5,147.7 L389.4,147.7" fill="none" stroke="#c4141c" stroke-width="1.5" /><path d="M282.7,200.8 L313.5,200.8 C318.5,200.8 316.5,184.3 321.5,184.3 L348.5,184.3 C353.5,184.3 352,200.8 357.5,200.8 L389.4,200.8" fill="none" stroke="#2230b0" stroke-width="1.5" /><path d="M282.7,147.9 C268,147.9 261.5,145.5 261.5,140.6 L261.5,193.1 C261.5,197.5 268,200.6 282.7,200.6" fill="none" stroke="#000" stroke-width="1.5" /><path d="M389.4,147.7 C401,147.7 410.6,149.5 410.6,155.2 L410.6,207.8 M389.4,200.8 C401,200.8 407.5,202.5 410.6,207.8" fill="none" stroke="#000" stroke-width="1.5" /><line x1="243.5" y1="182.7" x2="261.5" y2="182.7" stroke="#000" stroke-width="1.5" /><line x1="410.6" y1="197.2" x2="427.4" y2="197.2" stroke="#000" stroke-width="1.5" /><circle cx="276.9" cy="142.8" r="3.4" fill="url(#gRed)" /><circle cx="290.8" cy="142.8" r="3.4" fill="url(#gRed)" /><circle cx="305.6" cy="142.8" r="3.4" fill="url(#gRed)" /><circle cx="383.1" cy="141.6" r="3.4" fill="url(#gRed)" /><circle cx="326.0" cy="188.9" r="3.4" fill="url(#gBlue)" /><circle cx="335.9" cy="188.9" r="3.4" fill="url(#gBlue)" /><circle cx="345.8" cy="188.9" r="3.4" fill="url(#gBlue)" /><circle cx="281.9" cy="206.1" r="3.4" fill="url(#gBlue)" /><circle cx="298.7" cy="206.1" r="3.4" fill="url(#gBlue)" /><circle cx="365.4" cy="206.0" r="3.4" fill="url(#gBlue)" /><circle cx="378.0" cy="206.0" r="3.4" fill="url(#gBlue)" /><circle cx="390.2" cy="206.0" r="3.4" fill="url(#gBlue)" /><circle cx="401.6" cy="209.8" r="3.4" fill="url(#gBlue)" /><text x="278.9" y="196" font-size="9" fill="#000" textLength="25" lengthAdjust="spacingAndGlyphs" >WSe<tspan font-size="6.5" dy="1.8">2</tspan></text><text x="304.6" y="161" font-size="8" fill="#7a4ea0" text-anchor="middle" textLength="42" lengthAdjust="spacingAndGlyphs" >Controllable</text><text x="304.6" y="170.8" font-size="8" fill="#7a4ea0" text-anchor="middle" >potential</text><text x="304.6" y="180.1" font-size="8" fill="#7a4ea0" text-anchor="middle" >barrier/well</text><text x="376.8" y="158.4" font-size="8" fill="#c4161c" text-anchor="middle" >Potential barrier</text><text x="376.8" y="168.4" font-size="8" fill="#c4161c" text-anchor="middle" >for electron</text><text x="380.6" y="190" font-size="8" fill="#2b3a8c" text-anchor="middle" >Potential well</text><text x="380.6" y="199.4" font-size="8" fill="#2b3a8c" text-anchor="middle" >for hole</text><text x="245.8" y="194.6" font-size="8.7" fill="#000" text-anchor="middle" textLength="20.8" lengthAdjust="spacingAndGlyphs" >Drain</text><text x="246.1" y="205.4" font-size="8.7" fill="#000" text-anchor="middle" >(<tspan font-style="italic">V</tspan><tspan font-size="6" dy="1.5">D</tspan><tspan dy="-1.5">&lt;0)</tspan></text><text x="414.7" y="194" font-size="8.7" fill="#000" textLength="27.1" lengthAdjust="spacingAndGlyphs" >Source</text><text x="416" y="162.4" font-size="9" fill="#000" ><tspan font-style="italic">E</tspan><tspan font-size="6" dy="1.8">C</tspan></text><text x="416" y="213" font-size="9" fill="#000" ><tspan font-style="italic">E</tspan><tspan font-size="6" dy="1.8">V</tspan></text><text x="267.2" y="222.8" font-size="9.4" fill="#000" textLength="138.7" lengthAdjust="spacingAndGlyphs" >Under negative gate bias (<tspan font-style="italic">V</tspan><tspan font-size="6.5" dy="1.8">G</tspan><tspan dy="-1.8">&lt;0)</tspan></text><text x="461.6" y="22.7" font-size="18.5" fill="#000" font-weight="bold">b</text><defs>
<linearGradient id="gHbn" x1="0" y1="0" x2="0" y2="1"><stop offset="0" stop-color="#8e7030"/><stop offset="0.4" stop-color="#7e5e20"/><stop offset="1" stop-color="#74561a"/></linearGradient>
<linearGradient id="gWse" x1="0" y1="0" x2="0" y2="1"><stop offset="0" stop-color="#b8a672"/><stop offset="0.6" stop-color="#b09e66"/><stop offset="1" stop-color="#a69258"/></linearGradient>
<linearGradient id="gEl" x1="0" y1="0" x2="0" y2="1"><stop offset="0" stop-color="#f7f5ee"/><stop offset="0.5" stop-color="#ebe6d4"/><stop offset="0.8" stop-color="#dcd0ac"/><stop offset="1" stop-color="#c8b47e"/></linearGradient>
<linearGradient id="gSub" x1="0" y1="0" x2="1" y2="1"><stop offset="0" stop-color="#7e4a1c"/><stop offset="1" stop-color="#6e2e12"/></linearGradient>
<linearGradient id="gSub2" x1="0" y1="0" x2="0" y2="1"><stop offset="0" stop-color="#52240e"/><stop offset="0.5" stop-color="#5c2c14"/><stop offset="1" stop-color="#6a3218"/></linearGradient>
<linearGradient id="gHf" x1="0" y1="0" x2="0" y2="1"><stop offset="0" stop-color="#7a5818"/><stop offset="1" stop-color="#562a10"/></linearGradient>
</defs><polygon points="503.5,18.3 611.0,18.3 611.0,26.0 503.5,26.0" fill="#5e2c12" /><polygon points="534.0,16.0 560.0,15.6 606.0,16.0 606.0,26.0 534.0,26.0" fill="#734419" /><polygon points="459.4,106.5 462,94 540,86 600,80 640,74 663.5,68 682.7,103.8 681.5,105.5" fill="url(#gSub2)"/><polygon points="462,86 540,79.5 585,76.2 616,74.7 636,71.6 663.5,66 663.5,74 640,80 600,85.5 540,89.5 462,96" fill="url(#gHf)"/><polygon points="476.8,52.0 660.0,52.0 663.5,60.0 663.5,69.0 636.0,74.6 616.0,77.7 585.0,79.2 540.0,82.5 462.0,89.0" fill="url(#gHbn)" /><polygon points="525.0,52.0 575.0,52.0 575.0,81.0 525.0,84.5" fill="#927430" fill-opacity="0.4"/><polygon points="503.5,24.0 613.0,24.0 613.0,52.0 503.5,52.0" fill="url(#gWse)" /><polygon points="476.8,48.0 660.0,48.0 663.5,58.0 476.8,58.0" fill="#a68e40" /><polygon points="476.8,54.0 663.5,54.0 663.5,61.0 476.8,61.5" fill="#8a6c26" fill-opacity="0.6"/><path d="M487.8,21 L525,21 Q529.5,21 529.5,25 L529.5,48.5 L526,51 L477.7,51 L477.7,30 Q478,26 482,24 Z" fill="url(#gEl)"/><path d="M614,19 L652,19 Q656,19 658,23 L659.8,28 L659.8,48.5 L617,48.5 L611,44 L610.5,23 Q610.5,19 614,19 Z" fill="url(#gEl)"/><text x="504.5" y="35.4" font-size="9.4" fill="#111" text-anchor="middle" textLength="22.7" lengthAdjust="spacingAndGlyphs" >Drain</text><text x="634.5" y="31.6" font-size="9.4" fill="#111" text-anchor="middle" textLength="30.3" lengthAdjust="spacingAndGlyphs" >Source</text><text x="530.8" y="41.3" font-size="9.4" fill="#fff" textLength="25" lengthAdjust="spacingAndGlyphs" >WSe<tspan font-size="6.5" dy="1.8">2</tspan></text><text x="527.3" y="70.4" font-size="9.4" fill="#fff" textLength="20.4" lengthAdjust="spacingAndGlyphs" ><tspan font-style="italic">h</tspan>-BN</text><text x="572.5" y="89.4" font-size="9.6" fill="#fff" text-anchor="middle" >Partially</text><text x="572.5" y="99.6" font-size="9.6" fill="#fff" text-anchor="middle" >defined gate</text><text x="605.8" y="40.6" font-size="9.2" fill="#f5c84a" text-anchor="middle" font-weight="bold">A</text><text x="626.5" y="83.8" font-size="9.2" fill="#f5c84a" text-anchor="middle" font-weight="bold">B</text><path d="M596.4,40.7 C598.5,42.5 600.5,44 600.8,46 C601,49 600.5,52 602,55 C604,58.5 607,61 609.5,65 C611.5,68 612.3,71 612.4,74 C612.5,77 612.6,79.5 614,81 C615,82.2 616,83 617.1,83.6" fill="none" stroke="#f5c84a" stroke-width="1.5" stroke-dasharray="2.6,1.8"/><text x="654.7" y="93.5" font-size="9.4" fill="#fff" text-anchor="middle" >5 μm</text><rect x="643.3" y="96.5" width="22.7" height="1.8" fill="#fff" /><rect x="506.5" y="122.5" width="132.0" height="73.0" fill="none" stroke="#222" stroke-width="1.05"/><line x1="539.225" y1="195.3" x2="539.225" y2="193" stroke="#000" stroke-width="0.8" /><line x1="572.25" y1="195.3" x2="572.25" y2="193" stroke="#000" stroke-width="0.8" /><line x1="605.275" y1="195.3" x2="605.275" y2="193" stroke="#000" stroke-width="0.8" /><line x1="506.2" y1="177.125" x2="508.5" y2="177.125" stroke="#000" stroke-width="0.8" /><line x1="506.2" y1="140.775" x2="508.5" y2="140.775" stroke="#000" stroke-width="0.8" /><line x1="527" y1="140.4" x2="553.5" y2="140.4" stroke="#c8c8c8" stroke-width="1" stroke-dasharray="3.5,2.5"/><line x1="506.5" y1="182" x2="638" y2="182" stroke="#c8c8c8" stroke-width="1" stroke-dasharray="3.5,2.5"/><polyline points="506.20,140.01 507.00,140.39 507.80,140.74 508.60,141.08 509.40,141.04 510.20,141.06 511.00,140.27 511.80,140.21 512.60,140.19 513.40,139.82 514.20,139.96 515.00,139.64 515.80,140.15 516.60,140.35 517.40,140.80 518.20,140.94 519.00,140.55 519.80,140.45 520.60,140.17 521.40,140.23 522.20,139.92 523.00,139.50 523.80,140.01 524.60,139.88 525.40,140.50 526.20,140.50 527.00,146.33 527.80,156.99 528.60,159.72 529.40,159.83 530.20,160.16 531.00,159.80 531.80,159.17 532.60,159.48 533.40,159.37 534.20,159.76 535.00,159.74 535.80,160.26 536.60,159.94 537.40,159.81 538.20,159.50 539.00,159.09 539.80,159.31 540.60,159.50 541.40,159.73 542.20,159.72 543.00,159.67 543.80,159.54 544.60,158.94 545.40,159.33 546.20,159.33 547.00,159.63 547.80,160.16 548.60,159.96 549.40,159.64 550.20,159.43 551.00,159.35 551.80,158.97 552.60,159.76 553.40,159.50 554.20,160.13 555.00,160.16 555.80,159.41 556.60,159.57 557.40,159.13 558.20,159.31 559.00,159.22 559.80,159.55 560.60,159.80 561.40,160.20 562.20,159.48 563.00,159.51 563.80,159.46 564.60,159.56 565.40,159.47 566.20,161.03 567.00,161.18 567.80,161.02 568.60,160.25 569.40,160.58 570.20,160.92 571.00,161.33 571.80,160.90 572.60,161.14 573.40,160.25 574.20,160.33 575.00,160.79 575.80,161.35 576.60,161.08 577.40,161.14 578.20,160.53 579.00,160.30 579.80,160.59 580.60,160.89 581.40,160.93 582.20,160.69 583.00,160.63 583.80,160.71 584.60,160.48 585.40,160.80 586.20,161.48 587.00,160.94 587.80,160.48 588.60,160.25 589.40,160.73 590.20,161.26 591.00,161.17 591.80,160.89 592.60,160.28 593.40,160.65 594.20,160.37 595.00,161.04 595.80,161.40 596.60,160.73 597.40,160.70 598.20,160.67 599.00,160.72 599.80,161.21 600.60,160.36 601.40,160.33 602.20,159.76 603.00,160.01 603.80,159.90 604.60,160.39 605.40,160.90 606.20,160.60 607.00,160.27 607.80,159.77 608.60,160.00 609.40,160.54 610.20,160.59 611.00,160.27 611.80,159.94 612.60,159.59 613.40,159.92 614.20,160.68 615.00,165.56 615.80,170.83 616.60,176.22 617.40,180.90 618.20,180.70 619.00,180.76 619.80,181.02 620.60,181.02 621.40,180.67 622.20,180.88 623.00,180.82 623.80,180.73 624.60,180.66 625.40,180.67 626.20,180.38 627.00,180.54 627.80,180.24 628.60,180.31 629.40,180.44 630.20,180.34 631.00,180.05 631.80,180.40 632.60,180.17 633.40,180.08 634.20,179.69 635.00,179.97 635.80,179.74 636.60,179.94 637.40,179.77 638.20,179.94" fill="none" stroke="#111" stroke-width="1"/><line x1="533.3" y1="143.3" x2="533.3" y2="156.3" stroke="#000" stroke-width="1.1" /><polygon points="533.3,140.8 531.1,144.3 535.5,144.3" fill="#000" /><polygon points="533.3,158.8 531.1,155.3 535.5,155.3" fill="#000" /><line x1="608.5" y1="165.3" x2="608.5" y2="177.9" stroke="#000" stroke-width="1.1" /><polygon points="608.5,162.8 606.3,166.3 610.7,166.3" fill="#000" /><polygon points="608.5,180.4 606.3,176.9 610.7,176.9" fill="#000" /><text x="540.3" y="153.5" font-size="9.4" fill="#000" textLength="52" lengthAdjust="spacingAndGlyphs" >WSe<tspan font-size="6.5" dy="1.8">2</tspan><tspan dy="-1.8"> (51 nm)</tspan></text><text x="545.9" y="173.7" font-size="9.4" fill="#000" textLength="51.5" lengthAdjust="spacingAndGlyphs" ><tspan font-style="italic">h</tspan>-BN (52 nm)</text><text x="500.4" y="125.8" font-size="9.4" fill="#000" text-anchor="end" >250</text><text x="500.4" y="162.4" font-size="9.4" fill="#000" text-anchor="end" >125</text><text x="500.4" y="198.5" font-size="9.4" fill="#000" text-anchor="end" >0</text><text x="506.2" y="208.6" font-size="9.4" fill="#000" text-anchor="middle" >0</text><text x="539.225" y="208.6" font-size="9.4" fill="#000" text-anchor="middle" >2.5</text><text x="572.25" y="208.6" font-size="9.4" fill="#000" text-anchor="middle" >5</text><text x="605.275" y="208.6" font-size="9.4" fill="#000" text-anchor="middle" >7.5</text><text x="638.3" y="208.6" font-size="9.4" fill="#000" text-anchor="middle" >10</text><text x="506.7" y="220.5" font-size="9.4" fill="#000" text-anchor="middle" >(A)</text><text x="637.3" y="220.5" font-size="9.4" fill="#000" text-anchor="middle" >(B)</text><text x="542" y="221.8" font-size="9.4" fill="#000" textLength="60.4" lengthAdjust="spacingAndGlyphs" >Distance (μm)</text><text x="475.2" y="158.6" font-size="9.5" fill="#000" text-anchor="middle" transform="rotate(-90 475.2 158.6)">Thickness (nm)</text><text x="1.8" y="250.6" font-size="18.5" fill="#000" font-weight="bold">c</text><rect x="46.5" y="246.5" width="133.0" height="73.0" fill="none" stroke="#222" stroke-width="1.05"/><polyline points="46.70,246.90 47.03,248.34 47.36,249.75 47.70,251.13 48.03,252.48 48.36,253.81 48.69,255.11 49.02,256.38 49.35,257.63 49.69,258.86 50.02,260.06 50.35,261.24 50.68,262.39 51.01,263.52 51.34,264.63 51.68,265.72 52.01,266.78 52.34,267.83 52.67,268.85 53.00,269.85 53.34,270.83 53.67,271.80 54.00,272.74 54.33,273.67 54.66,274.58 54.99,275.47 55.33,276.34 55.66,277.19 55.99,278.03 56.32,278.85 56.65,279.66 56.98,280.45 57.32,281.22 57.65,281.98 57.98,282.72 58.31,283.45 58.64,284.16 58.97,284.86 59.31,285.55 59.64,286.22 59.97,286.88 60.30,287.52 60.63,288.16 60.97,288.78 61.30,289.39 61.63,289.98 61.96,290.57 62.29,291.14 62.62,291.70 62.96,292.25 63.29,292.79 63.62,293.32 63.95,293.84 64.28,294.35 64.61,294.85 64.95,295.33 65.28,295.81 65.61,296.28 65.94,296.74 66.27,297.19 66.61,297.63 66.94,298.07 67.27,298.49 67.60,298.91 67.93,299.31 68.26,299.71 68.60,300.11 68.93,300.49 69.26,300.87 69.59,301.24 69.92,301.60 70.25,301.95 70.59,302.30 70.92,302.64 71.25,302.97 71.58,303.30 71.91,303.62 72.24,303.94 72.58,304.24 72.91,304.55 73.24,304.84 73.57,305.13 73.90,305.42 74.24,305.70 74.57,305.97 74.90,306.24 75.23,306.50 75.56,306.76 75.89,307.01 76.23,307.26 76.56,307.50 76.89,307.74 77.22,307.97 77.55,308.20 77.88,308.42 78.22,308.64 78.55,308.86 78.88,309.07 79.21,309.27 79.54,309.48 79.88,309.67 80.21,309.88 80.54,310.08 80.87,310.30 81.20,310.52 81.53,310.74 81.87,310.97 82.20,311.20 82.53,311.43 82.86,311.67 83.19,311.90 83.52,312.14 83.86,312.37 84.19,312.61 84.52,312.85 84.85,313.08 85.18,313.31 85.51,313.54 85.85,313.77 86.18,314.00 86.51,314.22 86.84,314.44 87.17,314.65 87.51,314.87 87.84,315.07 88.17,315.28 88.50,315.48 88.83,315.67 89.16,315.86 89.50,316.05 89.83,316.23 90.16,316.41 90.49,316.58 90.82,316.74 91.15,316.90 91.49,317.06 91.82,317.21 92.15,317.36 92.48,317.50 92.81,317.63 93.14,317.76 93.48,317.89 93.81,318.01 94.14,318.12 94.47,318.23 94.80,318.34 95.14,318.43 95.47,318.53 95.80,318.62 96.13,318.70 96.46,318.78 96.79,318.86 97.13,318.93 97.46,319.00 97.79,319.06 98.12,319.11 98.45,319.17 98.78,319.22 99.12,319.26 99.45,319.30 99.78,319.30 100.11,319.30 100.44,319.30 100.78,319.30 101.11,319.30 101.44,319.30 101.77,319.30 102.10,319.30 102.43,319.30 102.77,319.30 103.10,319.30 103.43,319.30 103.76,319.30 104.09,319.30 104.42,319.30 104.76,319.30 105.09,319.30 105.42,319.30 105.75,319.30 106.08,319.30 106.41,319.30 106.75,319.30 107.08,319.30 107.41,319.30 107.74,319.30 108.07,319.30 108.41,319.30 108.74,319.30 109.07,319.30 109.40,319.30 109.73,319.30 110.06,319.30 110.40,319.30 110.73,319.30 111.06,319.30 111.39,319.30 111.72,319.30 112.05,319.30 112.39,319.30 112.72,319.30 113.05,319.30 113.38,319.30 113.71,319.30 114.05,319.30 114.38,319.30 114.71,319.30 115.04,319.30 115.37,319.30 115.70,319.30 116.04,319.30 116.37,319.30 116.70,319.30 117.03,319.30 117.36,319.30 117.69,319.30 118.03,319.30 118.36,319.30 118.69,319.30 119.02,319.30 119.35,319.30 119.69,319.30 120.02,319.30 120.35,319.30 120.68,319.30 121.01,319.30 121.34,319.30 121.68,319.30 122.01,319.30 122.34,319.30 122.67,319.30 123.00,319.30 123.33,319.30 123.67,319.30 124.00,319.30 124.33,319.30 124.66,319.30 124.99,319.30 125.32,319.30 125.66,319.30 125.99,319.30 126.32,319.30 126.65,319.30 126.98,319.30 127.32,319.30 127.65,319.30 127.98,319.30 128.31,319.30 128.64,319.30 128.97,319.30 129.31,319.30 129.64,319.30 129.97,319.30 130.30,319.30 130.63,319.30 130.96,319.30 131.30,319.30 131.63,319.30 131.96,319.30 132.29,319.30 132.62,319.30 132.95,319.30 133.29,319.30 133.62,319.30 133.95,319.30 134.28,319.30 134.61,319.30 134.95,319.30 135.28,319.30 135.61,319.30 135.94,319.30 136.27,319.30 136.60,319.30 136.94,319.30 137.27,319.30 137.60,319.30 137.93,319.30 138.26,319.30 138.59,319.30 138.93,319.30 139.26,319.30 139.59,319.30 139.92,319.30 140.25,319.30 140.59,319.30 140.92,319.30 141.25,319.30 141.58,319.30 141.91,319.30 142.24,319.30 142.58,319.30 142.91,319.30 143.24,319.30 143.57,319.30 143.90,319.30 144.23,319.30 144.57,319.30 144.90,319.30 145.23,319.30 145.56,319.30 145.89,319.30 146.22,319.30 146.56,319.30 146.89,319.30 147.22,319.30 147.55,319.30 147.88,319.30 148.22,319.30 148.55,319.30 148.88,319.30 149.21,319.30 149.54,319.30 149.87,319.30 150.21,319.30 150.54,319.30 150.87,319.30 151.20,319.30 151.53,319.30 151.86,319.30 152.20,319.30 152.53,319.30 152.86,319.30 153.19,319.30 153.52,319.30 153.86,319.30 154.19,319.30 154.52,319.30 154.85,319.30 155.18,319.30 155.51,319.30 155.85,319.30 156.18,319.30 156.51,319.30 156.84,319.30 157.17,319.30 157.50,319.30 157.84,319.30 158.17,319.30 158.50,319.30 158.83,319.30 159.16,319.30 159.50,319.30 159.83,319.30 160.16,319.30 160.49,319.30 160.82,319.30 161.15,319.30 161.49,319.30 161.82,319.30 162.15,319.30 162.48,319.30 162.81,319.30 163.14,319.30 163.48,319.30 163.81,319.30 164.14,319.30 164.47,319.30 164.80,319.30 165.13,319.30 165.47,319.30 165.80,319.30 166.13,319.30 166.46,319.30 166.79,319.30 167.13,319.30 167.46,319.30 167.79,319.30 168.12,319.30 168.45,319.30 168.78,319.30 169.12,319.30 169.45,319.30 169.78,319.30 170.11,319.30 170.44,319.30 170.77,319.30 171.11,319.30 171.44,319.30 171.77,319.30 172.10,319.30 172.43,319.30 172.76,319.30 173.10,319.30 173.43,319.30 173.76,319.30 174.09,319.30 174.42,319.30 174.76,319.30 175.09,319.30 175.42,319.30 175.75,319.30 176.08,319.30 176.41,319.30 176.75,319.30 177.08,319.30 177.41,319.30 177.74,319.30 178.07,319.30 178.40,319.30 178.74,319.30 179.07,319.30 179.40,319.30" fill="none" stroke="#1c1ca8" stroke-width="1.6"/><rect x="51" y="248" width="48" height="38" fill="#fff" fill-opacity="0.75"/><text x="75.4" y="256.6" font-size="8.3" fill="#2b3a8c" text-anchor="middle" textLength="47.2" lengthAdjust="spacingAndGlyphs" >Conventional</text><text x="75.4" y="265.9" font-size="8.3" fill="#2b3a8c" text-anchor="middle" textLength="51.5" lengthAdjust="spacingAndGlyphs" >vdW transistor</text><text x="75.4" y="275.7" font-size="8.3" fill="#2b3a8c" text-anchor="middle" textLength="32.2" lengthAdjust="spacingAndGlyphs" >with fully</text><text x="75.4" y="285.2" font-size="8.3" fill="#2b3a8c" text-anchor="middle" textLength="45.3" lengthAdjust="spacingAndGlyphs" >defined gate</text><g><rect x="104.6" y="250.3" width="74" height="50.2" fill="#000" fill-opacity="0.22"/><rect x="103.1" y="248.8" width="73.9" height="50" fill="#968679" /><polygon points="111.3,248.8 163.0,248.8 163.0,250.0 125.0,263.8 111.3,263.8" fill="#0a0a0a" /><rect x="163" y="248.8" width="4.6" height="15" fill="#a89888" /><rect x="167.6" y="248.8" width="9.4" height="15" fill="#8a6e66" /><rect x="103.1" y="263.8" width="20.4" height="20.8" fill="#d8ae66" /><rect x="156.3" y="263.8" width="20.7" height="20.8" fill="#d8ae66" /><rect x="123.5" y="263.8" width="32.8" height="20.8" fill="#8e8078" /><path d="M103.1,263.8 L123.5,263.8 L123.5,284.6 L103.1,284.6 M177,263.8 L156.3,263.8 L156.3,284.6 L177,284.6" fill="none" stroke="#7a3ab8" stroke-width="0.8" stroke-dasharray="1.5,1"/><polygon points="111.3,291.2 167.6,292.8 167.6,298.8 111.3,298.8" fill="#0a0a0a" /><rect x="103.1" y="248.8" width="8.2" height="15" fill="#4a72b4" /><rect x="103.1" y="284.6" width="8.2" height="14.2" fill="#4a72b4" /><rect x="167.6" y="292.5" width="9.4" height="6.3" fill="#4a72b4" /><line x1="111.5" y1="249" x2="111.5" y2="298.8" stroke="#fff" stroke-width="0.7" stroke-dasharray="1.5,1"/><line x1="167.6" y1="249" x2="167.6" y2="298.8" stroke="#fff" stroke-width="0.7" stroke-dasharray="1.5,1"/><rect x="118" y="258.3" width="44" height="8.6" fill="#2a2624" fill-opacity="0.45"/><rect x="128.2" y="273.8" width="23.1" height="9.4" fill="#4a4440" fill-opacity="0.9"/><text x="139.8" y="281.6" font-size="8.6" fill="#fff" text-anchor="middle" >WSe<tspan font-size="6.5" dy="1.8">2</tspan></text><text x="140" y="256.9" font-size="8.8" fill="#fff" text-anchor="middle" >Fully</text><text x="140" y="265.6" font-size="8.8" fill="#fff" text-anchor="middle" textLength="44" lengthAdjust="spacingAndGlyphs" >defined gate</text><rect x="155.1" y="295" width="18.7" height="1.6" fill="#fff" /></g><line x1="79.875" y1="319.5" x2="79.875" y2="317.3" stroke="#000" stroke-width="0.8" /><line x1="113.05" y1="319.5" x2="113.05" y2="317.3" stroke="#000" stroke-width="0.8" /><line x1="146.225" y1="319.5" x2="146.225" y2="317.3" stroke="#000" stroke-width="0.8" /><line x1="46.7" y1="283.2" x2="48.900000000000006" y2="283.2" stroke="#000" stroke-width="0.8" /><path d="M94.4,314.7 C85,311 77,304 71.5,296.5" fill="none" stroke="#2b3a8c" stroke-width="1.3" stroke-dasharray="3,2"/><polygon points="70.2,294.8 74.8,297.0 71.5,299.5" fill="#2b3a8c" /><text x="84.7" y="305.3" font-size="9" fill="#2b3a8c" ><tspan font-style="italic">I</tspan><tspan font-size="6.5" dy="1.8">D</tspan><tspan dy="-1.8">↑</tspan></text><text x="42.3" y="251.4" font-size="9.4" fill="#000" text-anchor="end" >180</text><text x="42.3" y="286.5" font-size="9.4" fill="#000" text-anchor="end" >90</text><text x="42.3" y="323.2" font-size="9.4" fill="#000" text-anchor="end" >0</text><text x="46.7" y="332.6" font-size="9.4" fill="#000" text-anchor="middle" >−20</text><text x="79.875" y="332.6" font-size="9.4" fill="#000" text-anchor="middle" >−10</text><text x="113.05" y="332.6" font-size="9.4" fill="#000" text-anchor="middle" >0</text><text x="146.225" y="332.6" font-size="9.4" fill="#000" text-anchor="middle" >10</text><text x="179.39999999999998" y="332.6" font-size="9.4" fill="#000" text-anchor="middle" >20</text><text x="69.6" y="345.6" font-size="9.5" fill="#000" textLength="87" lengthAdjust="spacingAndGlyphs" >Gate voltage, <tspan font-style="italic">V</tspan><tspan font-size="6.5" dy="1.8">G</tspan><tspan dy="-1.8"> (V)</tspan></text><rect x="47.5" y="352.5" width="131.0" height="73.0" fill="none" stroke="#222" stroke-width="1.05"/><line x1="79.875" y1="425.5" x2="79.875" y2="423.3" stroke="#000" stroke-width="0.8" /><line x1="113.05" y1="425.5" x2="113.05" y2="423.3" stroke="#000" stroke-width="0.8" /><line x1="146.225" y1="425.5" x2="146.225" y2="423.3" stroke="#000" stroke-width="0.8" /><line x1="46.7" y1="388.75" x2="48.900000000000006" y2="388.75" stroke="#000" stroke-width="0.8" /><polyline points="54.99,352.13 55.16,352.80 55.33,353.47 55.49,354.13 55.66,354.78 55.82,355.44 55.99,356.09 56.15,356.74 56.32,357.38 56.49,358.02 56.65,358.66 56.82,359.30 56.98,359.93 57.15,360.56 57.32,361.19 57.48,361.81 57.65,362.43 57.81,363.05 57.98,363.66 58.15,364.27 58.31,364.88 58.48,365.48 58.64,366.09 58.81,366.68 58.97,367.28 59.14,367.87 59.31,368.46 59.47,369.05 59.64,369.63 59.80,370.21 59.97,370.78 60.14,371.36 60.30,371.93 60.47,372.49 60.63,373.06 60.80,373.62 60.97,374.18 61.13,374.73 61.30,375.28 61.46,375.83 61.63,376.38 61.79,376.92 61.96,377.46 62.13,377.99 62.29,378.52 62.46,379.05 62.62,379.58 62.79,380.10 62.96,380.62 63.12,381.14 63.29,381.65 63.45,382.17 63.62,382.67 63.79,383.18 63.95,383.68 64.12,384.18 64.28,384.67 64.45,385.16 64.61,385.65 64.78,386.14 64.95,386.62 65.11,387.10 65.28,387.58 65.44,388.05 65.61,388.52 65.78,388.99 65.94,389.45 66.11,389.91 66.27,390.37 66.44,390.82 66.61,391.28 66.77,391.72 66.94,392.17 67.10,392.61 67.27,393.05 67.43,393.49 67.60,393.92 67.77,394.35 67.93,394.77 68.10,395.20 68.26,395.62 68.43,396.03 68.60,396.45 68.76,396.86 68.93,397.27 69.09,397.67 69.26,398.07 69.42,398.47 69.59,398.87 69.76,399.26 69.92,399.65 70.09,400.03 70.25,400.42 70.42,400.80 70.59,401.17 70.75,401.54 70.92,401.91 71.08,402.28 71.25,402.65 71.42,403.01 71.58,403.36 71.75,403.72 71.91,404.07 72.08,404.42 72.24,404.76 72.41,405.11 72.58,405.44 72.74,405.78 72.91,406.11 73.07,406.44 73.24,406.77 73.41,407.09 73.57,407.41 73.74,407.73 73.90,408.04 74.07,408.35 74.24,408.66 74.40,408.97 74.57,409.27 74.73,409.57 74.90,409.86 75.06,410.15 75.23,410.44 75.40,410.73 75.56,411.01 75.73,411.29 75.89,411.57 76.06,411.84 76.23,412.11 76.39,412.38 76.56,412.64 76.72,412.90 76.89,413.16 77.06,413.42 77.22,413.67 77.39,413.91 77.55,414.16 77.72,414.40 77.88,414.64 78.05,414.88 78.22,415.11 78.38,415.34 78.55,415.57 78.71,415.79 78.88,416.01 79.05,416.23 79.21,416.44 79.38,416.65 79.54,416.86 79.71,417.06 79.88,417.27 80.04,417.46 80.21,417.66 80.37,417.85 80.54,418.04 80.70,418.23 80.87,418.41 81.04,418.59 81.20,418.76 81.37,418.94 81.53,419.11 81.70,419.28 81.87,419.44 82.03,419.60 82.20,419.76 82.36,419.91 82.53,420.06 82.69,420.21 82.86,420.36 83.03,420.50 83.19,420.64 83.36,420.77 83.52,420.91 83.69,421.04 83.86,421.16 84.02,421.29 84.19,421.41 84.35,421.52 84.52,421.64 84.69,421.75 84.85,421.86 85.02,421.96 85.18,422.06 85.35,422.16 85.51,422.26 85.68,422.35 85.85,422.44 86.01,422.52 86.18,422.61 86.34,422.69 86.51,422.76 86.68,422.84 86.84,422.91 87.01,422.97 87.17,423.04 87.34,423.10 87.51,423.16 87.67,423.21 87.84,423.26 88.00,423.31 88.17,423.36 88.33,423.40 88.50,423.44 88.67,423.47 88.83,423.51 89.00,423.54 89.16,423.56 89.33,423.59 89.50,423.61 89.66,423.62 89.83,423.64 89.99,423.65 90.16,423.66 90.33,423.66 90.60,423.40 96.00,424.30 100.00,424.20 104.00,422.00 108.20,417.90 111.00,413.00 113.70,404.00 115.50,395.00 116.50,385.00 117.40,372.00 117.80,365.70 118.40,357.50 119.00,366.00 119.50,385.00 119.80,400.00 120.60,398.50 121.40,397.30 122.00,402.00 122.50,409.60 123.50,416.00 124.70,419.20 130.00,419.60 141.20,419.20 160.00,418.40 178.80,417.20" fill="none" stroke="#cc1818" stroke-width="1.5"/><polyline points="96.00,424.30 100.00,424.20 104.00,422.00 108.20,417.90 111.00,413.00 113.70,404.00 115.50,395.00 116.50,385.00 117.40,372.00 117.80,365.70 118.40,357.50" fill="none" stroke="#4a2c9c" stroke-opacity="0.75" stroke-width="3.6" stroke-dasharray="5,2.5"/><polygon points="118.4,353.4 122.4,357.5 118.4,361.6 114.4,357.5" fill="#1c2a6c" /><polygon points="90.6,419.4 94.6,423.4 90.6,427.4 86.6,423.4" fill="#c00010" /><path d="M112,376.7 C111,392 106,408 98.5,416.5" fill="none" stroke="#cc1818" stroke-width="1.3" stroke-dasharray="3,2"/><polygon points="97.5,417.9 98.3,413.0 101.5,415.5" fill="#cc1818" /><rect x="50" y="353.5" width="57" height="30" fill="#fff" fill-opacity="0.7"/><text x="81.2" y="361.7" font-size="8.3" fill="#c4161c" text-anchor="middle" textLength="56" lengthAdjust="spacingAndGlyphs" >PG-NDT device</text><text x="81.2" y="371.6" font-size="8.3" fill="#c4161c" text-anchor="middle" textLength="44.4" lengthAdjust="spacingAndGlyphs" >with partially</text><text x="81.2" y="380.6" font-size="8.3" fill="#c4161c" text-anchor="middle" textLength="43.4" lengthAdjust="spacingAndGlyphs" >defined gate</text><text x="50.8" y="422.4" font-size="8.3" fill="#c4161c" textLength="22" lengthAdjust="spacingAndGlyphs" >Valley</text><text x="127.5" y="362.6" font-size="8.3" fill="#2b3a8c" textLength="17.8" lengthAdjust="spacingAndGlyphs" >Peak</text><text x="96" y="403.2" font-size="9" fill="#c4161c" ><tspan font-style="italic">I</tspan><tspan font-size="6.5" dy="1.8">D</tspan><tspan dy="-1.8">↓</tspan></text><text x="41.2" y="356.5" font-size="9.4" fill="#000" text-anchor="end" >4</text><text x="41.2" y="392.2" font-size="9.4" fill="#000" text-anchor="end" >2</text><text x="41.2" y="429.3" font-size="9.4" fill="#000" text-anchor="end" >0</text><text x="46.7" y="438.9" font-size="9.4" fill="#000" text-anchor="middle" >−20</text><text x="79.875" y="438.9" font-size="9.4" fill="#000" text-anchor="middle" >−10</text><text x="113.05" y="438.9" font-size="9.4" fill="#000" text-anchor="middle" >0</text><text x="146.225" y="438.9" font-size="9.4" fill="#000" text-anchor="middle" >10</text><text x="179.39999999999998" y="438.9" font-size="9.4" fill="#000" text-anchor="middle" >20</text><text x="69.6" y="452.8" font-size="9.5" fill="#000" textLength="87" lengthAdjust="spacingAndGlyphs" >Gate voltage, <tspan font-style="italic">V</tspan><tspan font-size="6.5" dy="1.8">G</tspan><tspan dy="-1.8"> (V)</tspan></text><text x="16.1" y="336" font-size="9.4" fill="#000" text-anchor="middle" textLength="89.8" lengthAdjust="spacingAndGlyphs" transform="rotate(-90 16.1 336)">Drain current, <tspan font-style="italic">I</tspan><tspan font-size="6.5" dy="1.8">D</tspan><tspan dy="-1.8"> (μA)</tspan></text><text x="232.4" y="250.9" font-size="18.5" fill="#000" font-weight="bold">d</text><line x1="277" y1="283" x2="408.7" y2="283" stroke="#c8c8c8" stroke-width="1" stroke-dasharray="3.5,2.5"/><polyline points="277.60,246.80 278.30,247.31 279.00,248.94 279.70,248.09 280.40,248.75 281.10,249.53 281.80,248.85 282.50,250.37 283.20,251.26 283.90,252.30 284.60,250.74 285.30,251.91 286.00,251.82 286.70,254.75 287.40,255.27 288.10,254.19 288.80,257.88 289.50,258.70 290.20,258.64 290.90,259.36 291.60,258.83 292.30,259.24 293.00,261.61 293.70,261.05 294.40,262.27 295.10,263.27 295.80,263.39 296.50,265.39 297.20,266.02 297.90,267.93 298.60,267.66 299.30,268.72 300.00,269.00 300.70,269.94 301.40,270.24 302.10,270.59 302.80,272.37 303.50,273.00 304.20,273.38 304.90,273.80 305.60,273.80 306.30,274.08 307.00,274.60 307.70,274.66 308.40,276.20 309.10,276.03 309.80,277.16 310.50,276.84 311.20,278.09 311.90,278.19 312.60,277.76 313.30,278.09 314.00,278.58 314.70,278.72 315.40,279.15 316.10,279.22 316.80,279.32 317.50,279.68 318.20,279.91 318.90,279.95 319.60,280.09 320.30,280.36 321.00,280.74 321.70,280.81 322.40,280.76 323.10,280.94 323.80,281.03 324.50,281.15 325.20,281.51 325.90,281.46 326.60,281.65 327.30,281.67 328.00,281.64 328.70,281.85 329.40,281.72 330.10,281.92 330.80,281.81 331.50,281.95 332.20,281.93 332.90,282.00 333.60,282.26 334.30,282.25 335.00,282.15 335.70,282.37 336.40,282.22 337.10,282.30 337.80,282.46 338.50,282.42 339.20,282.29 339.90,282.58 340.60,282.37 341.30,282.41 342.00,282.59 342.70,282.48 343.40,282.50 344.10,282.46 344.80,282.49 345.50,282.66 346.20,282.58 346.90,282.72 347.60,282.67 348.30,282.72 349.00,282.90 349.70,282.78 350.40,282.82 351.10,282.91 351.80,282.71 352.50,282.70 353.20,282.93 353.90,282.91 354.60,282.74 355.30,282.73 356.00,282.89 356.70,282.96 357.40,282.73 358.10,282.96 358.80,282.94 359.50,282.86 360.20,282.81 360.90,282.72 361.60,282.70 362.30,282.98 363.00,282.77 363.70,282.91 364.40,282.78 365.10,282.95 365.80,282.88 366.50,282.79 367.20,282.76 367.90,282.93 368.60,282.73 369.30,282.78 370.00,282.89 370.70,282.98 371.40,282.91 372.10,282.81 372.80,283.00 373.50,282.79 374.20,282.74 374.90,282.82 375.60,282.87 376.30,282.76 377.00,282.80 377.70,282.86 378.40,282.92 379.10,282.79 379.80,282.86 380.50,283.02 381.20,283.05 381.90,282.96 382.60,282.97 383.30,282.94 384.00,282.81 384.70,282.78 385.40,282.78 386.10,283.05 386.80,282.99 387.50,283.07 388.20,282.79 388.90,282.97 389.60,282.93 390.30,283.01 391.00,282.89 391.70,283.09 392.40,282.82 393.10,282.96 393.80,283.02 394.50,283.07 395.20,283.03 395.90,283.02 396.60,283.05 397.30,283.09 398.00,282.92 398.70,283.02 399.40,283.09 400.10,283.08 400.80,282.95 401.50,283.06 402.20,283.09 402.90,283.00 403.60,283.02 404.30,282.95 405.00,283.01 405.70,283.02 406.40,282.87 407.10,283.04 407.80,283.15 408.50,283.11" fill="none" stroke="#1c1ca8" stroke-width="1.9"/><line x1="340" y1="283" x2="408.7" y2="283" stroke="#1c1ca8" stroke-width="1.4" stroke-dasharray="2,2"/><rect x="277.5" y="246.5" width="131.0" height="73.0" fill="none" stroke="#222" stroke-width="1.05"/><line x1="309.925" y1="319.5" x2="309.925" y2="317.3" stroke="#000" stroke-width="0.8" /><line x1="342.85" y1="319.5" x2="342.85" y2="317.3" stroke="#000" stroke-width="0.8" /><line x1="375.775" y1="319.5" x2="375.775" y2="317.3" stroke="#000" stroke-width="0.8" /><line x1="307.9" y1="277.2" x2="307.9" y2="287" stroke="#2b3a8c" stroke-width="1.2" /><polygon points="307.9,290.5 305.6,286.0 310.2,286.0" fill="#2b3a8c" /><text x="356.2" y="257.5" font-size="8.3" fill="#2b3a8c" text-anchor="middle" textLength="100" lengthAdjust="spacingAndGlyphs" >Conventional vdW transistor</text><text x="356" y="267.2" font-size="8.3" fill="#2b3a8c" text-anchor="middle" textLength="77.7" lengthAdjust="spacingAndGlyphs" >with fully defined gate</text><text x="315.5" y="300.9" font-size="8.3" fill="#2b3a8c" text-anchor="middle" textLength="67" lengthAdjust="spacingAndGlyphs" >Positive differential</text><text x="315.5" y="311" font-size="8.3" fill="#2b3a8c" text-anchor="middle" textLength="63.6" lengthAdjust="spacingAndGlyphs" >transconductance</text><text x="271.1" y="250.2" font-size="9.4" fill="#000" text-anchor="end" >50</text><text x="271.1" y="286.1" font-size="9.4" fill="#000" text-anchor="end" >0</text><text x="271.1" y="322.9" font-size="9.4" fill="#000" text-anchor="end" >−50</text><text x="277.0" y="332.6" font-size="9.4" fill="#000" text-anchor="middle" >−20</text><text x="309.925" y="332.6" font-size="9.4" fill="#000" text-anchor="middle" >−10</text><text x="342.85" y="332.6" font-size="9.4" fill="#000" text-anchor="middle" >0</text><text x="375.775" y="332.6" font-size="9.4" fill="#000" text-anchor="middle" >10</text><text x="408.7" y="332.6" font-size="9.4" fill="#000" text-anchor="middle" >20</text><text x="298.8" y="345.6" font-size="9.5" fill="#000" textLength="87" lengthAdjust="spacingAndGlyphs" >Gate voltage, <tspan font-style="italic">V</tspan><tspan font-size="6.5" dy="1.8">G</tspan><tspan dy="-1.8"> (V)</tspan></text><line x1="277" y1="388.75" x2="408.7" y2="388.75" stroke="#c8c8c8" stroke-width="1" stroke-dasharray="3.5,2.5"/><rect x="345.5" y="389" width="4.1" height="36.5" fill="#ecd0ec" /><polyline points="277.00,380.05 277.33,380.14 277.66,380.22 277.99,380.30 278.32,380.39 278.65,380.47 278.98,380.55 279.30,380.63 279.63,380.72 279.96,380.80 280.29,380.88 280.62,380.96 280.95,381.04 281.28,381.13 281.61,381.21 281.94,381.29 282.27,381.37 282.60,381.45 282.93,381.54 283.26,381.62 283.58,381.70 283.91,381.78 284.24,381.86 284.57,381.94 284.90,382.02 285.23,382.10 285.56,382.18 285.89,382.26 286.22,382.34 286.55,382.42 286.88,382.50 287.21,382.58 287.54,382.66 287.87,382.74 288.19,382.82 288.52,382.90 288.85,382.98 289.18,383.06 289.51,383.14 289.84,383.22 290.17,383.29 290.50,383.37 290.83,383.45 291.16,383.53 291.49,383.61 291.82,383.68 292.15,383.76 292.47,383.84 292.80,383.92 293.13,383.99 293.46,384.07 293.79,384.15 294.12,384.22 294.45,384.30 294.78,384.38 295.11,384.45 295.44,384.53 295.77,384.60 296.10,384.68 296.43,384.76 296.75,384.83 297.08,384.91 297.41,384.98 297.74,385.06 298.07,385.13 298.40,385.20 298.73,385.28 299.06,385.35 299.39,385.43 299.72,385.50 300.05,385.57 300.38,385.65 300.71,385.72 301.04,385.79 301.36,385.86 301.69,385.93 302.02,386.01 302.35,386.08 302.68,386.15 303.01,386.22 303.34,386.29 303.67,386.36 304.00,386.43 304.33,386.50 304.66,386.57 304.99,386.64 305.32,386.71 305.64,386.78 305.97,386.85 306.30,386.92 306.63,386.98 306.96,387.05 307.29,387.12 307.62,387.19 307.95,387.25 308.28,387.32 308.61,387.38 308.94,387.45 309.27,387.51 309.60,387.58 309.93,387.64 310.25,387.71 310.58,387.77 310.91,387.83 311.24,387.89 311.57,387.95 311.90,388.01 312.23,388.07 312.56,388.13 312.89,388.19 313.22,388.25 313.55,388.31 313.88,388.36 314.21,388.42 314.53,388.47 314.86,388.53 315.19,388.58 315.52,388.62 315.85,388.67 316.18,388.71 316.51,388.75 316.84,388.75 317.17,388.75 317.50,388.75 317.83,388.75 318.16,388.75 318.49,388.75 318.81,388.75 319.14,388.75 319.47,388.75 319.80,388.75 320.13,388.75 320.46,388.75 320.79,388.75 321.12,388.75 321.45,388.75 321.78,388.75 322.11,388.75 322.44,388.75 322.77,388.75 323.09,388.75 343.00,389.50 345.00,391.00 346.50,395.00 348.00,400.00 348.60,388.00 349.10,352.00 350.60,352.00 350.90,389.00 352.30,389.00 353.20,383.00 353.90,382.40 354.60,388.80 356.00,388.75 408.70,388.75" fill="none" stroke="#cc1818" stroke-width="1.5"/><polyline points="319.30,389.30 323.00,389.50 327.00,388.90 331.00,389.40 335.00,389.80 338.50,391.50 341.80,395.50 344.60,401.00 345.80,410.00 346.40,425.50" fill="none" stroke="#4a2c9c" stroke-opacity="0.75" stroke-width="3.4" stroke-dasharray="4.5,2.5"/><polyline points="338.00,391.00 341.80,395.50 344.60,401.00 345.80,410.00 346.40,425.00" fill="none" stroke="#3a1c8c" stroke-opacity="0.8" stroke-width="2.6"/><polygon points="340.0,390.0 343.0,391.0 346.5,395.0 347.5,400.0 346.8,406.0 345.0,404.0 342.5,398.0 340.0,393.0" fill="#3a1c7c" fill-opacity="0.7"/><rect x="276.5" y="352.5" width="132.0" height="73.0" fill="none" stroke="#222" stroke-width="1.05"/><line x1="309.925" y1="425.5" x2="309.925" y2="423.3" stroke="#000" stroke-width="0.8" /><line x1="342.85" y1="425.5" x2="342.85" y2="423.3" stroke="#000" stroke-width="0.8" /><line x1="375.775" y1="425.5" x2="375.775" y2="423.3" stroke="#000" stroke-width="0.8" /><line x1="341.2" y1="397.3" x2="330.5" y2="402.3" stroke="#cc1818" stroke-width="1.2" /><polygon points="327.5,403.6 330.2,399.8 332.2,404.0" fill="#cc1818" /><text x="367.4" y="361.9" font-size="8.3" fill="#c4161c" text-anchor="middle" textLength="72.2" lengthAdjust="spacingAndGlyphs" >PG-NDT device with</text><text x="367.4" y="372.1" font-size="8.3" fill="#c4161c" text-anchor="middle" textLength="73.3" lengthAdjust="spacingAndGlyphs" >partially defined gate</text><text x="314.7" y="412.7" font-size="8.3" fill="#c4161c" text-anchor="middle" textLength="71.7" lengthAdjust="spacingAndGlyphs" >Negative differential</text><text x="316" y="422.4" font-size="8.3" fill="#c4161c" text-anchor="middle" textLength="67.6" lengthAdjust="spacingAndGlyphs" >transconductance</text><text x="271.2" y="356.6" font-size="9.4" fill="#000" text-anchor="end" >3</text><text x="271.2" y="392.3" font-size="9.4" fill="#000" text-anchor="end" >0</text><text x="271.2" y="429.4" font-size="9.4" fill="#000" text-anchor="end" >−3</text><text x="277.0" y="439" font-size="9.4" fill="#000" text-anchor="middle" >−20</text><text x="309.925" y="439" font-size="9.4" fill="#000" text-anchor="middle" >−10</text><text x="342.85" y="439" font-size="9.4" fill="#000" text-anchor="middle" >0</text><text x="375.775" y="439" font-size="9.4" fill="#000" text-anchor="middle" >10</text><text x="408.7" y="439" font-size="9.4" fill="#000" text-anchor="middle" >20</text><text x="298.8" y="452.8" font-size="9.5" fill="#000" textLength="87" lengthAdjust="spacingAndGlyphs" >Gate voltage, <tspan font-style="italic">V</tspan><tspan font-size="6.5" dy="1.8">G</tspan><tspan dy="-1.8"> (V)</tspan></text><text x="246.2" y="335.5" font-size="9.4" fill="#000" text-anchor="middle" textLength="117.5" lengthAdjust="spacingAndGlyphs" transform="rotate(-90 246.2 335.5)">Transconductance, <tspan font-style="italic">G</tspan><tspan font-size="6.5" dy="1.8">m</tspan><tspan dy="-1.8"> (μS)</tspan></text><text x="462.2" y="251.3" font-size="18.5" fill="#000" font-weight="bold">e</text><rect x="509.6" y="237.3" width="5.6" height="5.2" fill="#0e2a72" /><text x="520.5" y="243" font-size="9" fill="#2b3a8c" textLength="46" lengthAdjust="spacingAndGlyphs" >Peak voltage</text><rect x="573.5" y="237.3" width="5.6" height="5.2" fill="#c8101a" /><text x="583.9" y="243" font-size="9" fill="#c4161c" textLength="49.6" lengthAdjust="spacingAndGlyphs" >Valley voltage</text><rect x="507.5" y="245.5" width="131.0" height="74.0" fill="none" stroke="#222" stroke-width="1.05"/><line x1="539.95" y1="319.5" x2="539.95" y2="317.3" stroke="#000" stroke-width="0.8" /><line x1="572.9" y1="319.5" x2="572.9" y2="317.3" stroke="#000" stroke-width="0.8" /><line x1="605.85" y1="319.5" x2="605.85" y2="317.3" stroke="#000" stroke-width="0.8" /><line x1="507" y1="282.6" x2="509.2" y2="282.6" stroke="#000" stroke-width="0.8" /><text x="511.5" y="258.6" font-size="9" fill="#000" textLength="59" lengthAdjust="spacingAndGlyphs" >Each 10 cycles</text><line x1="523.0" y1="271.6" x2="523.0" y2="282.7" stroke="#0e2a72" stroke-width="1.3" /><line x1="517.9" y1="271.6" x2="528.1" y2="271.6" stroke="#0e2a72" stroke-width="1.7" /><line x1="517.9" y1="282.7" x2="528.1" y2="282.7" stroke="#0e2a72" stroke-width="1.7" /><rect x="519.0" y="274.09999999999997" width="8" height="7.2" fill="#0e2a72" /><line x1="523.0" y1="298.5" x2="523.0" y2="309.4" stroke="#c8101a" stroke-width="1.3" /><line x1="517.9" y1="298.5" x2="528.1" y2="298.5" stroke="#c8101a" stroke-width="1.7" /><line x1="517.9" y1="309.4" x2="528.1" y2="309.4" stroke="#c8101a" stroke-width="1.7" /><rect x="519.0" y="300.7" width="8" height="7.2" fill="#c8101a" /><line x1="555.9" y1="275.2" x2="555.9" y2="288" stroke="#0e2a72" stroke-width="1.3" /><line x1="550.8" y1="275.2" x2="561.0" y2="275.2" stroke="#0e2a72" stroke-width="1.7" /><line x1="550.8" y1="288" x2="561.0" y2="288" stroke="#0e2a72" stroke-width="1.7" /><rect x="551.9" y="278.4" width="8" height="7.2" fill="#0e2a72" /><line x1="555.9" y1="301.9" x2="555.9" y2="313" stroke="#c8101a" stroke-width="1.3" /><line x1="550.8" y1="301.9" x2="561.0" y2="301.9" stroke="#c8101a" stroke-width="1.7" /><line x1="550.8" y1="313" x2="561.0" y2="313" stroke="#c8101a" stroke-width="1.7" /><rect x="551.9" y="303.79999999999995" width="8" height="7.2" fill="#c8101a" /><line x1="588.3000000000001" y1="268.7" x2="588.3000000000001" y2="281.3" stroke="#0e2a72" stroke-width="1.3" /><line x1="583.2" y1="268.7" x2="593.4000000000001" y2="268.7" stroke="#0e2a72" stroke-width="1.7" /><line x1="583.2" y1="281.3" x2="593.4000000000001" y2="281.3" stroke="#0e2a72" stroke-width="1.7" /><rect x="584.3000000000001" y="272.4" width="8" height="7.2" fill="#0e2a72" /><line x1="588.3000000000001" y1="296" x2="588.3000000000001" y2="308.6" stroke="#c8101a" stroke-width="1.3" /><line x1="583.2" y1="296" x2="593.4000000000001" y2="296" stroke="#c8101a" stroke-width="1.7" /><line x1="583.2" y1="308.6" x2="593.4000000000001" y2="308.6" stroke="#c8101a" stroke-width="1.7" /><rect x="584.3000000000001" y="299.0" width="8" height="7.2" fill="#c8101a" /><line x1="621.9" y1="274.8" x2="621.9" y2="286.4" stroke="#0e2a72" stroke-width="1.3" /><line x1="616.8" y1="274.8" x2="627.0" y2="274.8" stroke="#0e2a72" stroke-width="1.7" /><line x1="616.8" y1="286.4" x2="627.0" y2="286.4" stroke="#0e2a72" stroke-width="1.7" /><rect x="617.9" y="276.7" width="8" height="7.2" fill="#0e2a72" /><line x1="621.9" y1="307.9" x2="621.9" y2="317.6" stroke="#c8101a" stroke-width="1.3" /><line x1="616.8" y1="307.9" x2="627.0" y2="307.9" stroke="#c8101a" stroke-width="1.7" /><line x1="616.8" y1="317.6" x2="627.0" y2="317.6" stroke="#c8101a" stroke-width="1.7" /><rect x="617.9" y="309.09999999999997" width="8" height="7.2" fill="#c8101a" /><text x="501.1" y="250.3" font-size="9.4" fill="#000" text-anchor="end" >12</text><text x="501.1" y="286" font-size="9.4" fill="#000" text-anchor="end" >0</text><text x="501.1" y="322.8" font-size="9.4" fill="#000" text-anchor="end" >−12</text><text x="523.5" y="332.6" font-size="9.4" fill="#000" text-anchor="middle" >1</text><text x="556.45" y="332.6" font-size="9.4" fill="#000" text-anchor="middle" >2</text><text x="589.4" y="332.6" font-size="9.4" fill="#000" text-anchor="middle" >3</text><text x="622.35" y="332.6" font-size="9.4" fill="#000" text-anchor="middle" >4</text><text x="521.8" y="346.2" font-size="9.5" fill="#000" textLength="100.9" lengthAdjust="spacingAndGlyphs" >Sample number (WSe<tspan font-size="6.5" dy="1.8">2</tspan><tspan dy="-1.8">)</tspan></text><rect x="506.5" y="352.5" width="132.0" height="74.0" fill="none" stroke="#222" stroke-width="1.05"/><line x1="539.95" y1="426.1" x2="539.95" y2="423.9" stroke="#000" stroke-width="0.8" /><line x1="572.9" y1="426.1" x2="572.9" y2="423.9" stroke="#000" stroke-width="0.8" /><line x1="605.85" y1="426.1" x2="605.85" y2="423.9" stroke="#000" stroke-width="0.8" /><line x1="507" y1="389" x2="509.2" y2="389" stroke="#000" stroke-width="0.8" /><text x="511.6" y="365.3" font-size="9" fill="#000" textLength="62.4" lengthAdjust="spacingAndGlyphs" >Each 3 samples</text><line x1="522.8000000000001" y1="378.9" x2="522.8000000000001" y2="391" stroke="#0e2a72" stroke-width="1.3" /><line x1="517.7" y1="378.9" x2="527.9000000000001" y2="378.9" stroke="#0e2a72" stroke-width="1.7" /><line x1="517.7" y1="391" x2="527.9000000000001" y2="391" stroke="#0e2a72" stroke-width="1.7" /><rect x="518.8000000000001" y="381.29999999999995" width="8" height="7.2" fill="#0e2a72" /><line x1="522.8000000000001" y1="405.5" x2="522.8000000000001" y2="418.7" stroke="#c8101a" stroke-width="1.3" /><line x1="517.7" y1="405.5" x2="527.9000000000001" y2="405.5" stroke="#c8101a" stroke-width="1.7" /><line x1="517.7" y1="418.7" x2="527.9000000000001" y2="418.7" stroke="#c8101a" stroke-width="1.7" /><rect x="518.8000000000001" y="408.79999999999995" width="8" height="7.2" fill="#c8101a" /><line x1="555.7" y1="412.4" x2="555.7" y2="424.7" stroke="#0e2a72" stroke-width="1.3" /><line x1="550.6" y1="412.4" x2="560.8000000000001" y2="412.4" stroke="#0e2a72" stroke-width="1.7" /><line x1="550.6" y1="424.7" x2="560.8000000000001" y2="424.7" stroke="#0e2a72" stroke-width="1.7" /><rect x="551.7" y="415.59999999999997" width="8" height="7.2" fill="#0e2a72" /><line x1="555.7" y1="392.6" x2="555.7" y2="403.6" stroke="#c8101a" stroke-width="1.3" /><line x1="550.6" y1="392.6" x2="560.8000000000001" y2="392.6" stroke="#c8101a" stroke-width="1.7" /><line x1="550.6" y1="403.6" x2="560.8000000000001" y2="403.6" stroke="#c8101a" stroke-width="1.7" /><rect x="551.7" y="394.5" width="8" height="7.2" fill="#c8101a" /><line x1="588.8000000000001" y1="404.7" x2="588.8000000000001" y2="416.5" stroke="#0e2a72" stroke-width="1.3" /><line x1="583.7" y1="404.7" x2="593.9000000000001" y2="404.7" stroke="#0e2a72" stroke-width="1.7" /><line x1="583.7" y1="416.5" x2="593.9000000000001" y2="416.5" stroke="#0e2a72" stroke-width="1.7" /><rect x="584.8000000000001" y="406.59999999999997" width="8" height="7.2" fill="#0e2a72" /><line x1="588.8000000000001" y1="388.5" x2="588.8000000000001" y2="400.8" stroke="#c8101a" stroke-width="1.3" /><line x1="583.7" y1="388.5" x2="593.9000000000001" y2="388.5" stroke="#c8101a" stroke-width="1.7" /><line x1="583.7" y1="400.8" x2="593.9000000000001" y2="400.8" stroke="#c8101a" stroke-width="1.7" /><rect x="584.8000000000001" y="391.5" width="8" height="7.2" fill="#c8101a" /><line x1="621.4" y1="381.3" x2="621.4" y2="395.3" stroke="#0e2a72" stroke-width="1.3" /><line x1="616.3" y1="381.3" x2="626.5" y2="381.3" stroke="#0e2a72" stroke-width="1.7" /><line x1="616.3" y1="395.3" x2="626.5" y2="395.3" stroke="#0e2a72" stroke-width="1.7" /><rect x="617.4" y="384.59999999999997" width="8" height="7.2" fill="#0e2a72" /><line x1="621.4" y1="361" x2="621.4" y2="375.3" stroke="#c8101a" stroke-width="1.3" /><line x1="616.3" y1="361" x2="626.5" y2="361" stroke="#c8101a" stroke-width="1.7" /><line x1="616.3" y1="375.3" x2="626.5" y2="375.3" stroke="#c8101a" stroke-width="1.7" /><rect x="617.4" y="364.0" width="8" height="7.2" fill="#c8101a" /><text x="501.2" y="356.6" font-size="9.4" fill="#000" text-anchor="end" >12</text><text x="501.2" y="392.3" font-size="9.4" fill="#000" text-anchor="end" >0</text><text x="501.2" y="429.4" font-size="9.4" fill="#000" text-anchor="end" >−12</text><text x="532" y="435.3" font-size="9.6" fill="#000" text-anchor="end" transform="rotate(-38 532 435.3)">WSe<tspan font-size="6.5" dy="1.8">2</tspan></text><text x="568" y="435.8" font-size="9.6" fill="#000" text-anchor="end" transform="rotate(-38 568 435.8)">MoSe<tspan font-size="6.5" dy="1.8">2</tspan></text><text x="599" y="435.8" font-size="9.6" fill="#000" text-anchor="end" transform="rotate(-38 599 435.8)">MoS<tspan font-size="6.5" dy="1.8">2</tspan></text><text x="627" y="434.8" font-size="9.6" fill="#000" text-anchor="end" transform="rotate(-38 627 434.8)">WS<tspan font-size="6.5" dy="1.8">2</tspan></text><text x="475.2" y="335.7" font-size="9.4" fill="#000" text-anchor="middle" textLength="88.2" lengthAdjust="spacingAndGlyphs" transform="rotate(-90 475.2 335.7)">Gate voltage, <tspan font-style="italic">V</tspan><tspan font-size="6.5" dy="1.8">G</tspan><tspan dy="-1.8"> (V)</tspan></text></svg></body></html>
